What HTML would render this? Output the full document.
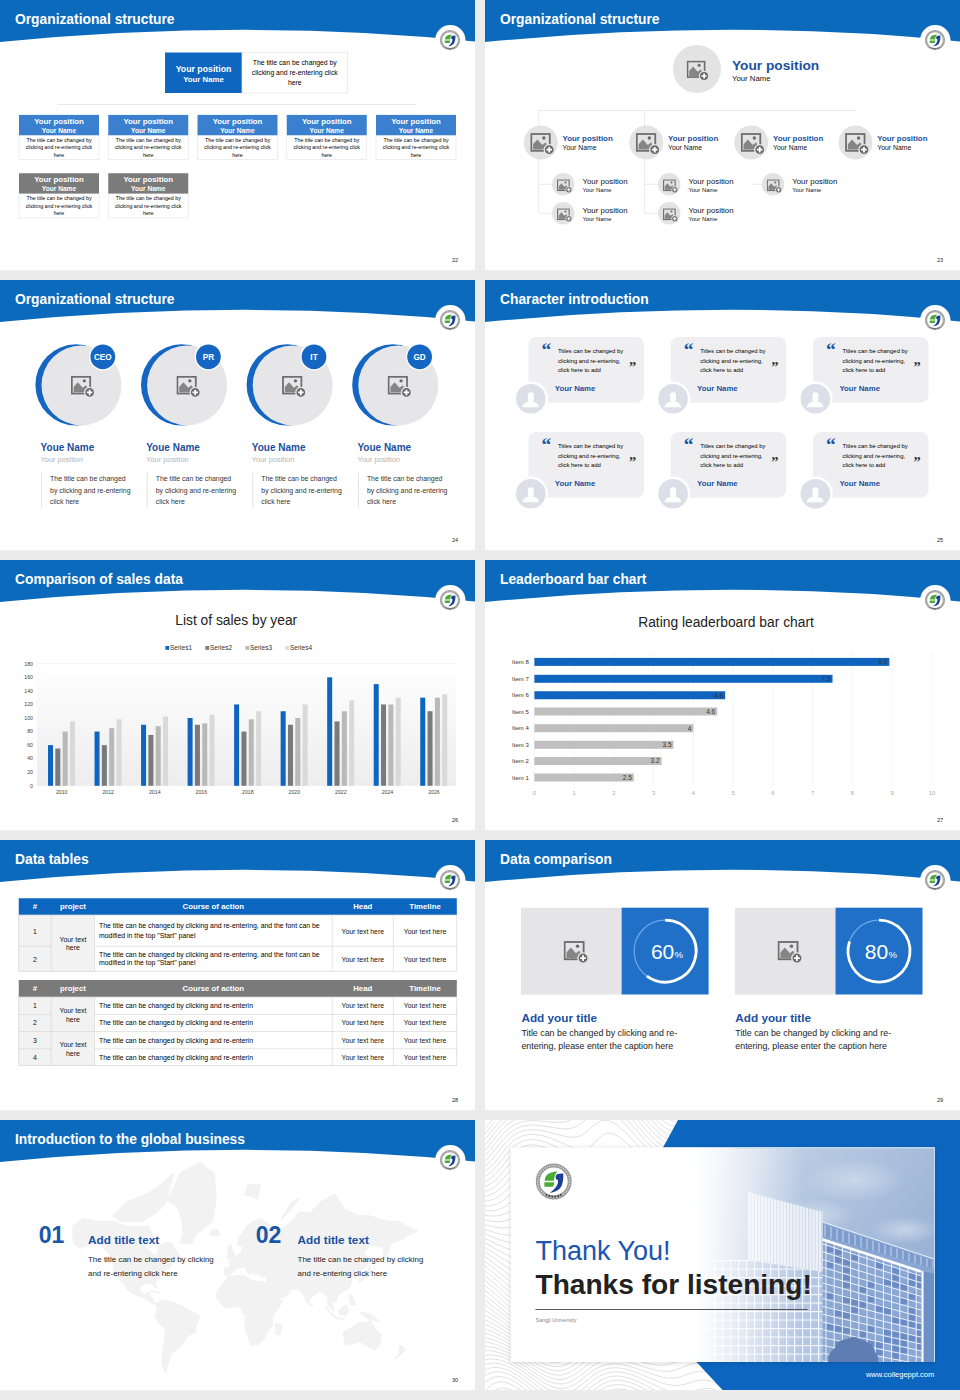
<!DOCTYPE html><html><head><meta charset="utf-8"><style>html,body{margin:0;padding:0;background:#ececec;}svg{display:block;font-family:"Liberation Sans",sans-serif;}</style></head><body>
<svg width="960" height="1400" viewBox="0 0 960 1400">
<defs><symbol id="logo" viewBox="0 0 40 40">
<circle cx="20" cy="20" r="17.5" fill="#fff"/>
<circle cx="20" cy="20" r="15.2" fill="none" stroke="#9c9c9c" stroke-width="3.8"/>
<circle cx="20" cy="20" r="15.2" fill="none" stroke="#f2f2f2" stroke-width="1" stroke-dasharray="0.9 1.4"/>
<path d="M12.5 32.5 A15.2 15.2 0 0 0 27.5 32.5" fill="none" stroke="#222" stroke-width="1.6" stroke-dasharray="1.3 1.5"/>
<path d="M11.4 19.2 Q11.8 12.6 17.9 11.4 Q20.5 10.6 23.4 10.4 Q21 13 20.5 17.1 L20.2 19.2 Z" fill="#4cab34"/>
<path d="M11.1 20.8 L20.5 20.8 Q20.3 23.8 19.2 24.9 L11.1 24.9 Z" fill="#4cab34"/>
<path d="M21.8 15.5 Q22.2 12.8 25 12.6 L29.1 12.4 Q29.6 22 26 26.5 Q22.5 30 16.3 30.9 Q21 27.5 23.2 23.5 Q24.3 21 24.1 18.7 Q21.6 18.2 21.8 15.5 Z" fill="#1c3f99"/>
</symbol>
<symbol id="imgico" viewBox="0 0 22 20">
<rect x="1" y="1" width="16.5" height="15" fill="none" stroke="#6e6e6e" stroke-width="1.6"/>
<path d="M2.6 14.9 V10.2 L6.4 5.8 L10.8 10.8 L13.6 8.6 L14.6 9.6 V14.9 Z" fill="#858585"/>
<circle cx="12.2" cy="4.6" r="1.5" fill="#6a6a6a"/>
<circle cx="17" cy="15" r="4.5" fill="#6a6a6a" stroke="#e6e6e6" stroke-width="1.2"/>
<path d="M17 12.5 V17.5 M14.5 15 H19.5" stroke="#fff" stroke-width="1.6"/>
</symbol>
<symbol id="person" viewBox="0 0 30 30">
<rect x="12" y="8.3" width="6" height="10" rx="2.6" fill="#fff"/>
<path d="M6.2 23.6 Q7 18.8 12.5 18 L17.5 18 Q22.8 18.8 23.2 23.6 Z" fill="#fff"/>
</symbol></defs>
<rect width="960" height="1400" fill="#ececec"/>
<g transform="translate(0,0)">
<rect width="475" height="270" fill="#fff"/>
<path d="M57.5 104.5 H416" stroke="#e3e3e3" stroke-width="0.8" fill="none"/>
<rect x="165" y="52.5" width="77" height="40.5" fill="#0e66c0"/>
<rect x="242" y="52.5" width="105.5" height="40.5" fill="#fff" stroke="#e4e4e4" stroke-width="0.7"/>
<text x="203.5" y="71.7" font-size="8.75" fill="#fff" font-weight="700" text-anchor="middle" >Your position</text>
<text x="203.5" y="81.6" font-size="7.8" fill="#fff" font-weight="700" text-anchor="middle" >Your Name</text>
<text x="294.75" y="64.5" font-size="6.85" fill="#000" font-weight="400" text-anchor="middle" >The title can be changed by</text>
<text x="294.75" y="74.7" font-size="6.85" fill="#000" font-weight="400" text-anchor="middle" >clicking and re-entering click</text>
<text x="294.75" y="84.9" font-size="6.85" fill="#000" font-weight="400" text-anchor="middle" >here</text>
<rect x="19" y="135.20000000000002" width="80" height="24.4" fill="#fff" stroke="#e6e6e6" stroke-width="0.7"/>
<rect x="19" y="114.9" width="80" height="20.3" fill="#3a80cf"/>
<text x="59" y="124.0" font-size="7.8" fill="#fff" font-weight="700" text-anchor="middle" >Your position</text>
<text x="59" y="132.5" font-size="6.6" fill="#fff" font-weight="700" text-anchor="middle" >Your Name</text>
<text x="59" y="141.9" font-size="5.3" fill="#000" font-weight="400" text-anchor="middle" >The title can be changed by</text>
<text x="59" y="149.20000000000002" font-size="5.3" fill="#000" font-weight="400" text-anchor="middle" >clicking and re-entering click</text>
<text x="59" y="156.5" font-size="5.3" fill="#000" font-weight="400" text-anchor="middle" >here</text>
<rect x="108.25" y="135.20000000000002" width="80" height="24.4" fill="#fff" stroke="#e6e6e6" stroke-width="0.7"/>
<rect x="108.25" y="114.9" width="80" height="20.3" fill="#3a80cf"/>
<text x="148.25" y="124.0" font-size="7.8" fill="#fff" font-weight="700" text-anchor="middle" >Your position</text>
<text x="148.25" y="132.5" font-size="6.6" fill="#fff" font-weight="700" text-anchor="middle" >Your Name</text>
<text x="148.25" y="141.9" font-size="5.3" fill="#000" font-weight="400" text-anchor="middle" >The title can be changed by</text>
<text x="148.25" y="149.20000000000002" font-size="5.3" fill="#000" font-weight="400" text-anchor="middle" >clicking and re-entering click</text>
<text x="148.25" y="156.5" font-size="5.3" fill="#000" font-weight="400" text-anchor="middle" >here</text>
<rect x="197.5" y="135.20000000000002" width="80" height="24.4" fill="#fff" stroke="#e6e6e6" stroke-width="0.7"/>
<rect x="197.5" y="114.9" width="80" height="20.3" fill="#3a80cf"/>
<text x="237.5" y="124.0" font-size="7.8" fill="#fff" font-weight="700" text-anchor="middle" >Your position</text>
<text x="237.5" y="132.5" font-size="6.6" fill="#fff" font-weight="700" text-anchor="middle" >Your Name</text>
<text x="237.5" y="141.9" font-size="5.3" fill="#000" font-weight="400" text-anchor="middle" >The title can be changed by</text>
<text x="237.5" y="149.20000000000002" font-size="5.3" fill="#000" font-weight="400" text-anchor="middle" >clicking and re-entering click</text>
<text x="237.5" y="156.5" font-size="5.3" fill="#000" font-weight="400" text-anchor="middle" >here</text>
<rect x="286.75" y="135.20000000000002" width="80" height="24.4" fill="#fff" stroke="#e6e6e6" stroke-width="0.7"/>
<rect x="286.75" y="114.9" width="80" height="20.3" fill="#3a80cf"/>
<text x="326.75" y="124.0" font-size="7.8" fill="#fff" font-weight="700" text-anchor="middle" >Your position</text>
<text x="326.75" y="132.5" font-size="6.6" fill="#fff" font-weight="700" text-anchor="middle" >Your Name</text>
<text x="326.75" y="141.9" font-size="5.3" fill="#000" font-weight="400" text-anchor="middle" >The title can be changed by</text>
<text x="326.75" y="149.20000000000002" font-size="5.3" fill="#000" font-weight="400" text-anchor="middle" >clicking and re-entering click</text>
<text x="326.75" y="156.5" font-size="5.3" fill="#000" font-weight="400" text-anchor="middle" >here</text>
<rect x="376" y="135.20000000000002" width="80" height="24.4" fill="#fff" stroke="#e6e6e6" stroke-width="0.7"/>
<rect x="376" y="114.9" width="80" height="20.3" fill="#3a80cf"/>
<text x="416" y="124.0" font-size="7.8" fill="#fff" font-weight="700" text-anchor="middle" >Your position</text>
<text x="416" y="132.5" font-size="6.6" fill="#fff" font-weight="700" text-anchor="middle" >Your Name</text>
<text x="416" y="141.9" font-size="5.3" fill="#000" font-weight="400" text-anchor="middle" >The title can be changed by</text>
<text x="416" y="149.20000000000002" font-size="5.3" fill="#000" font-weight="400" text-anchor="middle" >clicking and re-entering click</text>
<text x="416" y="156.5" font-size="5.3" fill="#000" font-weight="400" text-anchor="middle" >here</text>
<rect x="19" y="193.55" width="80" height="24.4" fill="#fff" stroke="#e6e6e6" stroke-width="0.7"/>
<rect x="19" y="173.25" width="80" height="20.3" fill="#7b7b7b"/>
<text x="59" y="182.35" font-size="7.8" fill="#fff" font-weight="700" text-anchor="middle" >Your position</text>
<text x="59" y="190.85" font-size="6.6" fill="#fff" font-weight="700" text-anchor="middle" >Your Name</text>
<text x="59" y="200.25" font-size="5.3" fill="#000" font-weight="400" text-anchor="middle" >The title can be changed by</text>
<text x="59" y="207.55" font-size="5.3" fill="#000" font-weight="400" text-anchor="middle" >clicking and re-entering click</text>
<text x="59" y="214.85" font-size="5.3" fill="#000" font-weight="400" text-anchor="middle" >here</text>
<rect x="108.25" y="193.55" width="80" height="24.4" fill="#fff" stroke="#e6e6e6" stroke-width="0.7"/>
<rect x="108.25" y="173.25" width="80" height="20.3" fill="#7b7b7b"/>
<text x="148.25" y="182.35" font-size="7.8" fill="#fff" font-weight="700" text-anchor="middle" >Your position</text>
<text x="148.25" y="190.85" font-size="6.6" fill="#fff" font-weight="700" text-anchor="middle" >Your Name</text>
<text x="148.25" y="200.25" font-size="5.3" fill="#000" font-weight="400" text-anchor="middle" >The title can be changed by</text>
<text x="148.25" y="207.55" font-size="5.3" fill="#000" font-weight="400" text-anchor="middle" >clicking and re-entering click</text>
<text x="148.25" y="214.85" font-size="5.3" fill="#000" font-weight="400" text-anchor="middle" >here</text>
<path d="M0 0 H475 V41.5 Q250 18 0 42 Z" fill="#0c6abd"/>
<text x="15" y="24" font-size="13.8" fill="#fff" font-weight="700">Organizational structure</text>
<circle cx="450.3" cy="40.2" r="15.2" fill="#fff"/>
<use href="#logo" x="438.1" y="28.2" width="23.8" height="23.8"/>
<text x="455" y="262" font-size="5.5" fill="#222" text-anchor="middle">22</text>
</g>
<g transform="translate(485,0)">
<rect width="475" height="270" fill="#fff"/>
<path d="M53.75 110.5 H371 M53.75 110.5 V213.5 M159.5 110.5 V213.5 M53.75 184.25 H67 M53.75 213.25 H67 M159.5 184.25 H173 M159.5 213.25 H173 M266.25 184.25 H277" stroke="#e6e6e6" stroke-width="0.8" fill="none"/>
<circle cx="212" cy="69" r="24" fill="#e3e3e3"/>
<use href="#imgico" x="201.5" y="60.5" width="22.8" height="20.7"/>
<text x="247" y="70" font-size="13.7" fill="#1a50a0" font-weight="700" text-anchor="start" >Your position</text>
<text x="247" y="81" font-size="7.75" fill="#111" font-weight="400" text-anchor="start" >Your Name</text>
<circle cx="55.75" cy="142.5" r="17" fill="#e3e3e3"/>
<use href="#imgico" x="45.15" y="132.9" width="24.7" height="22.4"/>
<text x="77.5" y="141.25" font-size="7.9" fill="#1a50a0" font-weight="700" text-anchor="start" >Your position</text>
<text x="77.5" y="149.5" font-size="6.85" fill="#111" font-weight="400" text-anchor="start" >Your Name</text>
<circle cx="161.25" cy="142.5" r="17" fill="#e3e3e3"/>
<use href="#imgico" x="150.65" y="132.9" width="24.7" height="22.4"/>
<text x="183.0" y="141.25" font-size="7.9" fill="#1a50a0" font-weight="700" text-anchor="start" >Your position</text>
<text x="183.0" y="149.5" font-size="6.85" fill="#111" font-weight="400" text-anchor="start" >Your Name</text>
<circle cx="266.25" cy="142.5" r="17" fill="#e3e3e3"/>
<use href="#imgico" x="255.65" y="132.9" width="24.7" height="22.4"/>
<text x="288.0" y="141.25" font-size="7.9" fill="#1a50a0" font-weight="700" text-anchor="start" >Your position</text>
<text x="288.0" y="149.5" font-size="6.85" fill="#111" font-weight="400" text-anchor="start" >Your Name</text>
<circle cx="370.5" cy="142.5" r="17" fill="#e3e3e3"/>
<use href="#imgico" x="359.9" y="132.9" width="24.7" height="22.4"/>
<text x="392.25" y="141.25" font-size="7.9" fill="#1a50a0" font-weight="700" text-anchor="start" >Your position</text>
<text x="392.25" y="149.5" font-size="6.85" fill="#111" font-weight="400" text-anchor="start" >Your Name</text>
<circle cx="78.25" cy="184.25" r="11.25" fill="#e3e3e3"/>
<use href="#imgico" x="71.9" y="179.3" width="15.4" height="14"/>
<text x="97.5" y="183.75" font-size="7.85" fill="#111" font-weight="400" text-anchor="start" >Your position</text>
<text x="97.5" y="191.65" font-size="5.85" fill="#111" font-weight="400" text-anchor="start" >Your Name</text>
<circle cx="78.25" cy="213.25" r="11.25" fill="#e3e3e3"/>
<use href="#imgico" x="71.9" y="208.3" width="15.4" height="14"/>
<text x="97.5" y="212.75" font-size="7.85" fill="#111" font-weight="400" text-anchor="start" >Your position</text>
<text x="97.5" y="220.65" font-size="5.85" fill="#111" font-weight="400" text-anchor="start" >Your Name</text>
<circle cx="184.25" cy="184.25" r="11.25" fill="#e3e3e3"/>
<use href="#imgico" x="177.9" y="179.3" width="15.4" height="14"/>
<text x="203.5" y="183.75" font-size="7.85" fill="#111" font-weight="400" text-anchor="start" >Your position</text>
<text x="203.5" y="191.65" font-size="5.85" fill="#111" font-weight="400" text-anchor="start" >Your Name</text>
<circle cx="184.25" cy="213.25" r="11.25" fill="#e3e3e3"/>
<use href="#imgico" x="177.9" y="208.3" width="15.4" height="14"/>
<text x="203.5" y="212.75" font-size="7.85" fill="#111" font-weight="400" text-anchor="start" >Your position</text>
<text x="203.5" y="220.65" font-size="5.85" fill="#111" font-weight="400" text-anchor="start" >Your Name</text>
<circle cx="288" cy="184.25" r="11.25" fill="#e3e3e3"/>
<use href="#imgico" x="281.65" y="179.3" width="15.4" height="14"/>
<text x="307.25" y="183.75" font-size="7.85" fill="#111" font-weight="400" text-anchor="start" >Your position</text>
<text x="307.25" y="191.65" font-size="5.85" fill="#111" font-weight="400" text-anchor="start" >Your Name</text>
<path d="M0 0 H475 V41.5 Q250 18 0 42 Z" fill="#0c6abd"/>
<text x="15" y="24" font-size="13.8" fill="#fff" font-weight="700">Organizational structure</text>
<circle cx="450.3" cy="40.2" r="15.2" fill="#fff"/>
<use href="#logo" x="438.1" y="28.2" width="23.8" height="23.8"/>
<text x="455" y="262" font-size="5.5" fill="#222" text-anchor="middle">23</text>
</g>
<g transform="translate(0,280)">
<rect width="475" height="270" fill="#fff"/>
<circle cx="76.0" cy="104.9" r="40.6" fill="#1466c2"/>
<circle cx="81.5" cy="105.4" r="40" fill="#e6e6e8"/>
<use href="#imgico" x="70.7" y="95.7" width="24.5" height="22.3"/>
<circle cx="102.8" cy="76.8" r="13.6" fill="#fff"/>
<circle cx="102.8" cy="76.8" r="12.4" fill="#1466c2"/>
<text x="102.8" y="79.8" font-size="8.2" fill="#fff" font-weight="700" text-anchor="middle" >CEO</text>
<text x="40.6" y="171" font-size="10" fill="#1d4f9a" font-weight="700" text-anchor="start" >Youe Name</text>
<text x="40.6" y="181.9" font-size="7.4" fill="#b4b4b4" font-weight="400" text-anchor="start" >Your position</text>
<path d="M41.6 192.5 V228" stroke="#dcdcdc" stroke-width="0.8"/>
<text x="50.1" y="200.6" font-size="6.9" fill="#333" font-weight="400" text-anchor="start" >The title can be changed</text>
<text x="50.1" y="212.5" font-size="6.9" fill="#333" font-weight="400" text-anchor="start" >by clicking and re-entering</text>
<text x="50.1" y="224.4" font-size="6.9" fill="#333" font-weight="400" text-anchor="start" >click here</text>
<circle cx="181.6" cy="104.9" r="40.6" fill="#1466c2"/>
<circle cx="187.1" cy="105.4" r="40" fill="#e6e6e8"/>
<use href="#imgico" x="176.29999999999998" y="95.7" width="24.5" height="22.3"/>
<circle cx="208.4" cy="76.8" r="13.6" fill="#fff"/>
<circle cx="208.4" cy="76.8" r="12.4" fill="#1466c2"/>
<text x="208.4" y="79.8" font-size="8.2" fill="#fff" font-weight="700" text-anchor="middle" >PR</text>
<text x="146.2" y="171" font-size="10" fill="#1d4f9a" font-weight="700" text-anchor="start" >Youe Name</text>
<text x="146.2" y="181.9" font-size="7.4" fill="#b4b4b4" font-weight="400" text-anchor="start" >Your position</text>
<path d="M147.2 192.5 V228" stroke="#dcdcdc" stroke-width="0.8"/>
<text x="155.7" y="200.6" font-size="6.9" fill="#333" font-weight="400" text-anchor="start" >The title can be changed</text>
<text x="155.7" y="212.5" font-size="6.9" fill="#333" font-weight="400" text-anchor="start" >by clicking and re-entering</text>
<text x="155.7" y="224.4" font-size="6.9" fill="#333" font-weight="400" text-anchor="start" >click here</text>
<circle cx="287.2" cy="104.9" r="40.6" fill="#1466c2"/>
<circle cx="292.7" cy="105.4" r="40" fill="#e6e6e8"/>
<use href="#imgico" x="281.9" y="95.7" width="24.5" height="22.3"/>
<circle cx="314.0" cy="76.8" r="13.6" fill="#fff"/>
<circle cx="314.0" cy="76.8" r="12.4" fill="#1466c2"/>
<text x="314.0" y="79.8" font-size="8.2" fill="#fff" font-weight="700" text-anchor="middle" >IT</text>
<text x="251.79999999999998" y="171" font-size="10" fill="#1d4f9a" font-weight="700" text-anchor="start" >Youe Name</text>
<text x="251.79999999999998" y="181.9" font-size="7.4" fill="#b4b4b4" font-weight="400" text-anchor="start" >Your position</text>
<path d="M252.79999999999998 192.5 V228" stroke="#dcdcdc" stroke-width="0.8"/>
<text x="261.29999999999995" y="200.6" font-size="6.9" fill="#333" font-weight="400" text-anchor="start" >The title can be changed</text>
<text x="261.29999999999995" y="212.5" font-size="6.9" fill="#333" font-weight="400" text-anchor="start" >by clicking and re-entering</text>
<text x="261.29999999999995" y="224.4" font-size="6.9" fill="#333" font-weight="400" text-anchor="start" >click here</text>
<circle cx="392.79999999999995" cy="104.9" r="40.6" fill="#1466c2"/>
<circle cx="398.29999999999995" cy="105.4" r="40" fill="#e6e6e8"/>
<use href="#imgico" x="387.49999999999994" y="95.7" width="24.5" height="22.3"/>
<circle cx="419.59999999999997" cy="76.8" r="13.6" fill="#fff"/>
<circle cx="419.59999999999997" cy="76.8" r="12.4" fill="#1466c2"/>
<text x="419.59999999999997" y="79.8" font-size="8.2" fill="#fff" font-weight="700" text-anchor="middle" >GD</text>
<text x="357.4" y="171" font-size="10" fill="#1d4f9a" font-weight="700" text-anchor="start" >Youe Name</text>
<text x="357.4" y="181.9" font-size="7.4" fill="#b4b4b4" font-weight="400" text-anchor="start" >Your position</text>
<path d="M358.4 192.5 V228" stroke="#dcdcdc" stroke-width="0.8"/>
<text x="366.9" y="200.6" font-size="6.9" fill="#333" font-weight="400" text-anchor="start" >The title can be changed</text>
<text x="366.9" y="212.5" font-size="6.9" fill="#333" font-weight="400" text-anchor="start" >by clicking and re-entering</text>
<text x="366.9" y="224.4" font-size="6.9" fill="#333" font-weight="400" text-anchor="start" >click here</text>
<path d="M0 0 H475 V41.5 Q250 18 0 42 Z" fill="#0c6abd"/>
<text x="15" y="24" font-size="13.8" fill="#fff" font-weight="700">Organizational structure</text>
<circle cx="450.3" cy="40.2" r="15.2" fill="#fff"/>
<use href="#logo" x="438.1" y="28.2" width="23.8" height="23.8"/>
<text x="455" y="262" font-size="5.5" fill="#222" text-anchor="middle">24</text>
</g>
<g transform="translate(485,280)">
<rect width="475" height="270" fill="#fff"/>
<rect x="43.5" y="57" width="115.5" height="65.7" rx="8" fill="#efeff1"/>
<circle cx="45.8" cy="118.75" r="17.3" fill="#fff"/>
<circle cx="45.8" cy="118.75" r="14.8" fill="#dcdfe7"/>
<use href="#person" x="30.999999999999996" y="103.95" width="29.6" height="29.6"/>
<text x="56.5" y="76.3" font-size="19.5" fill="#1a56a8" font-weight="700" text-anchor="start" font-family="Liberation Serif">&#8220;</text>
<text x="144.0" y="92.2" font-size="14.5" fill="#333" font-weight="700" text-anchor="start" font-family="Liberation Serif">&#8221;</text>
<text x="72.9" y="73.4" font-size="5.9" fill="#000" font-weight="400" text-anchor="start" >Titles can be changed by</text>
<text x="72.9" y="82.80000000000001" font-size="5.9" fill="#000" font-weight="400" text-anchor="start" >clicking and re-entering,</text>
<text x="72.9" y="92.2" font-size="5.9" fill="#000" font-weight="400" text-anchor="start" >click here to add</text>
<text x="69.8" y="111" font-size="7.8" fill="#1a50a0" font-weight="700" text-anchor="start" >Your Name</text>
<rect x="185.8" y="57" width="115.5" height="65.7" rx="8" fill="#efeff1"/>
<circle cx="188.10000000000002" cy="118.75" r="17.3" fill="#fff"/>
<circle cx="188.10000000000002" cy="118.75" r="14.8" fill="#dcdfe7"/>
<use href="#person" x="173.3" y="103.95" width="29.6" height="29.6"/>
<text x="198.8" y="76.3" font-size="19.5" fill="#1a56a8" font-weight="700" text-anchor="start" font-family="Liberation Serif">&#8220;</text>
<text x="286.3" y="92.2" font-size="14.5" fill="#333" font-weight="700" text-anchor="start" font-family="Liberation Serif">&#8221;</text>
<text x="215.20000000000002" y="73.4" font-size="5.9" fill="#000" font-weight="400" text-anchor="start" >Titles can be changed by</text>
<text x="215.20000000000002" y="82.80000000000001" font-size="5.9" fill="#000" font-weight="400" text-anchor="start" >clicking and re-entering,</text>
<text x="215.20000000000002" y="92.2" font-size="5.9" fill="#000" font-weight="400" text-anchor="start" >click here to add</text>
<text x="212.10000000000002" y="111" font-size="7.8" fill="#1a50a0" font-weight="700" text-anchor="start" >Your Name</text>
<rect x="328.1" y="57" width="115.5" height="65.7" rx="8" fill="#efeff1"/>
<circle cx="330.40000000000003" cy="118.75" r="17.3" fill="#fff"/>
<circle cx="330.40000000000003" cy="118.75" r="14.8" fill="#dcdfe7"/>
<use href="#person" x="315.6" y="103.95" width="29.6" height="29.6"/>
<text x="341.1" y="76.3" font-size="19.5" fill="#1a56a8" font-weight="700" text-anchor="start" font-family="Liberation Serif">&#8220;</text>
<text x="428.6" y="92.2" font-size="14.5" fill="#333" font-weight="700" text-anchor="start" font-family="Liberation Serif">&#8221;</text>
<text x="357.5" y="73.4" font-size="5.9" fill="#000" font-weight="400" text-anchor="start" >Titles can be changed by</text>
<text x="357.5" y="82.80000000000001" font-size="5.9" fill="#000" font-weight="400" text-anchor="start" >clicking and re-entering,</text>
<text x="357.5" y="92.2" font-size="5.9" fill="#000" font-weight="400" text-anchor="start" >click here to add</text>
<text x="354.40000000000003" y="111" font-size="7.8" fill="#1a50a0" font-weight="700" text-anchor="start" >Your Name</text>
<rect x="43.5" y="152" width="115.5" height="65.7" rx="8" fill="#efeff1"/>
<circle cx="45.8" cy="213.75" r="17.3" fill="#fff"/>
<circle cx="45.8" cy="213.75" r="14.8" fill="#dcdfe7"/>
<use href="#person" x="30.999999999999996" y="198.95" width="29.6" height="29.6"/>
<text x="56.5" y="171.3" font-size="19.5" fill="#1a56a8" font-weight="700" text-anchor="start" font-family="Liberation Serif">&#8220;</text>
<text x="144.0" y="187.2" font-size="14.5" fill="#333" font-weight="700" text-anchor="start" font-family="Liberation Serif">&#8221;</text>
<text x="72.9" y="168.4" font-size="5.9" fill="#000" font-weight="400" text-anchor="start" >Titles can be changed by</text>
<text x="72.9" y="177.8" font-size="5.9" fill="#000" font-weight="400" text-anchor="start" >clicking and re-entering,</text>
<text x="72.9" y="187.20000000000002" font-size="5.9" fill="#000" font-weight="400" text-anchor="start" >click here to add</text>
<text x="69.8" y="206" font-size="7.8" fill="#1a50a0" font-weight="700" text-anchor="start" >Your Name</text>
<rect x="185.8" y="152" width="115.5" height="65.7" rx="8" fill="#efeff1"/>
<circle cx="188.10000000000002" cy="213.75" r="17.3" fill="#fff"/>
<circle cx="188.10000000000002" cy="213.75" r="14.8" fill="#dcdfe7"/>
<use href="#person" x="173.3" y="198.95" width="29.6" height="29.6"/>
<text x="198.8" y="171.3" font-size="19.5" fill="#1a56a8" font-weight="700" text-anchor="start" font-family="Liberation Serif">&#8220;</text>
<text x="286.3" y="187.2" font-size="14.5" fill="#333" font-weight="700" text-anchor="start" font-family="Liberation Serif">&#8221;</text>
<text x="215.20000000000002" y="168.4" font-size="5.9" fill="#000" font-weight="400" text-anchor="start" >Titles can be changed by</text>
<text x="215.20000000000002" y="177.8" font-size="5.9" fill="#000" font-weight="400" text-anchor="start" >clicking and re-entering,</text>
<text x="215.20000000000002" y="187.20000000000002" font-size="5.9" fill="#000" font-weight="400" text-anchor="start" >click here to add</text>
<text x="212.10000000000002" y="206" font-size="7.8" fill="#1a50a0" font-weight="700" text-anchor="start" >Your Name</text>
<rect x="328.1" y="152" width="115.5" height="65.7" rx="8" fill="#efeff1"/>
<circle cx="330.40000000000003" cy="213.75" r="17.3" fill="#fff"/>
<circle cx="330.40000000000003" cy="213.75" r="14.8" fill="#dcdfe7"/>
<use href="#person" x="315.6" y="198.95" width="29.6" height="29.6"/>
<text x="341.1" y="171.3" font-size="19.5" fill="#1a56a8" font-weight="700" text-anchor="start" font-family="Liberation Serif">&#8220;</text>
<text x="428.6" y="187.2" font-size="14.5" fill="#333" font-weight="700" text-anchor="start" font-family="Liberation Serif">&#8221;</text>
<text x="357.5" y="168.4" font-size="5.9" fill="#000" font-weight="400" text-anchor="start" >Titles can be changed by</text>
<text x="357.5" y="177.8" font-size="5.9" fill="#000" font-weight="400" text-anchor="start" >clicking and re-entering,</text>
<text x="357.5" y="187.20000000000002" font-size="5.9" fill="#000" font-weight="400" text-anchor="start" >click here to add</text>
<text x="354.40000000000003" y="206" font-size="7.8" fill="#1a50a0" font-weight="700" text-anchor="start" >Your Name</text>
<path d="M0 0 H475 V41.5 Q250 18 0 42 Z" fill="#0c6abd"/>
<text x="15" y="24" font-size="13.8" fill="#fff" font-weight="700">Character introduction</text>
<circle cx="450.3" cy="40.2" r="15.2" fill="#fff"/>
<use href="#logo" x="438.1" y="28.2" width="23.8" height="23.8"/>
<text x="455" y="262" font-size="5.5" fill="#222" text-anchor="middle">25</text>
</g>
<g transform="translate(0,560)">
<rect width="475" height="270" fill="#fff"/>
<defs><linearGradient id="pg" x1="0" y1="0" x2="0" y2="1"><stop offset="0" stop-color="#ffffff"/><stop offset="1" stop-color="#ededed"/></linearGradient></defs>
<rect x="37" y="103.7" width="419" height="122.1" fill="url(#pg)"/>
<path d="M37 103.7 H456" stroke="#ececec" stroke-width="0.6"/>
<text x="236.25" y="65" font-size="13.8" fill="#222" font-weight="400" text-anchor="middle" >List of sales by year</text>
<rect x="165.4" y="86" width="3.8" height="3.8" fill="#0e64bf"/>
<text x="170.0" y="89.7" font-size="6.5" fill="#333" font-weight="400" text-anchor="start" >Series1</text>
<rect x="205.4" y="86" width="3.8" height="3.8" fill="#7a7a7a"/>
<text x="210.0" y="89.7" font-size="6.5" fill="#333" font-weight="400" text-anchor="start" >Series2</text>
<rect x="245.4" y="86" width="3.8" height="3.8" fill="#b9b9b9"/>
<text x="250.0" y="89.7" font-size="6.5" fill="#333" font-weight="400" text-anchor="start" >Series3</text>
<rect x="285.4" y="86" width="3.8" height="3.8" fill="#d9d9d9"/>
<text x="290.0" y="89.7" font-size="6.5" fill="#333" font-weight="400" text-anchor="start" >Series4</text>
<text x="33" y="227.60000000000002" font-size="5.2" fill="#444" font-weight="400" text-anchor="end" >0</text>
<text x="33" y="214.04000000000002" font-size="5.2" fill="#444" font-weight="400" text-anchor="end" >20</text>
<text x="33" y="200.48000000000002" font-size="5.2" fill="#444" font-weight="400" text-anchor="end" >40</text>
<text x="33" y="186.92000000000002" font-size="5.2" fill="#444" font-weight="400" text-anchor="end" >60</text>
<text x="33" y="173.36" font-size="5.2" fill="#444" font-weight="400" text-anchor="end" >80</text>
<text x="33" y="159.8" font-size="5.2" fill="#444" font-weight="400" text-anchor="end" >100</text>
<text x="33" y="146.24" font-size="5.2" fill="#444" font-weight="400" text-anchor="end" >120</text>
<text x="33" y="132.68" font-size="5.2" fill="#444" font-weight="400" text-anchor="end" >140</text>
<text x="33" y="119.12" font-size="5.2" fill="#444" font-weight="400" text-anchor="end" >160</text>
<text x="33" y="105.56" font-size="5.2" fill="#444" font-weight="400" text-anchor="end" >180</text>
<rect x="48.00" y="185.12" width="5" height="40.68" fill="#0e64bf"/>
<rect x="55.33" y="188.51" width="5" height="37.29" fill="#7a7a7a"/>
<rect x="62.66" y="171.56" width="5" height="54.24" fill="#b9b9b9"/>
<rect x="69.99" y="161.39" width="5" height="64.41" fill="#d9d9d9"/>
<text x="61.70" y="233.6" font-size="5.2" fill="#444" font-weight="400" text-anchor="middle" >2010</text>
<rect x="94.53" y="171.56" width="5" height="54.24" fill="#0e64bf"/>
<rect x="101.86" y="185.12" width="5" height="40.68" fill="#7a7a7a"/>
<rect x="109.19" y="168.17" width="5" height="57.63" fill="#b9b9b9"/>
<rect x="116.52" y="159.36" width="5" height="66.44" fill="#d9d9d9"/>
<text x="108.23" y="233.6" font-size="5.2" fill="#444" font-weight="400" text-anchor="middle" >2012</text>
<rect x="141.06" y="164.78" width="5" height="61.02" fill="#0e64bf"/>
<rect x="148.39" y="174.95" width="5" height="50.85" fill="#7a7a7a"/>
<rect x="155.72" y="166.14" width="5" height="59.66" fill="#b9b9b9"/>
<rect x="163.05" y="156.64" width="5" height="69.16" fill="#d9d9d9"/>
<text x="154.76" y="233.6" font-size="5.2" fill="#444" font-weight="400" text-anchor="middle" >2014</text>
<rect x="187.59" y="158.00" width="5" height="67.80" fill="#0e64bf"/>
<rect x="194.92" y="164.78" width="5" height="61.02" fill="#7a7a7a"/>
<rect x="202.25" y="163.42" width="5" height="62.38" fill="#b9b9b9"/>
<rect x="209.58" y="154.61" width="5" height="71.19" fill="#d9d9d9"/>
<text x="201.29" y="233.6" font-size="5.2" fill="#444" font-weight="400" text-anchor="middle" >2016</text>
<rect x="234.12" y="144.44" width="5" height="81.36" fill="#0e64bf"/>
<rect x="241.45" y="171.56" width="5" height="54.24" fill="#7a7a7a"/>
<rect x="248.78" y="159.36" width="5" height="66.44" fill="#b9b9b9"/>
<rect x="256.11" y="151.22" width="5" height="74.58" fill="#d9d9d9"/>
<text x="247.82" y="233.6" font-size="5.2" fill="#444" font-weight="400" text-anchor="middle" >2018</text>
<rect x="280.65" y="151.22" width="5" height="74.58" fill="#0e64bf"/>
<rect x="287.98" y="164.78" width="5" height="61.02" fill="#7a7a7a"/>
<rect x="295.31" y="158.00" width="5" height="67.80" fill="#b9b9b9"/>
<rect x="302.64" y="144.44" width="5" height="81.36" fill="#d9d9d9"/>
<text x="294.35" y="233.6" font-size="5.2" fill="#444" font-weight="400" text-anchor="middle" >2020</text>
<rect x="327.18" y="117.32" width="5" height="108.48" fill="#0e64bf"/>
<rect x="334.51" y="161.39" width="5" height="64.41" fill="#7a7a7a"/>
<rect x="341.84" y="151.22" width="5" height="74.58" fill="#b9b9b9"/>
<rect x="349.17" y="140.37" width="5" height="85.43" fill="#d9d9d9"/>
<text x="340.88" y="233.6" font-size="5.2" fill="#444" font-weight="400" text-anchor="middle" >2022</text>
<rect x="373.71" y="124.10" width="5" height="101.70" fill="#0e64bf"/>
<rect x="381.04" y="144.44" width="5" height="81.36" fill="#7a7a7a"/>
<rect x="388.37" y="144.44" width="5" height="81.36" fill="#b9b9b9"/>
<rect x="395.70" y="137.66" width="5" height="88.14" fill="#d9d9d9"/>
<text x="387.41" y="233.6" font-size="5.2" fill="#444" font-weight="400" text-anchor="middle" >2024</text>
<rect x="420.24" y="137.66" width="5" height="88.14" fill="#0e64bf"/>
<rect x="427.57" y="151.22" width="5" height="74.58" fill="#7a7a7a"/>
<rect x="434.90" y="137.66" width="5" height="88.14" fill="#b9b9b9"/>
<rect x="442.23" y="134.27" width="5" height="91.53" fill="#d9d9d9"/>
<text x="433.94" y="233.6" font-size="5.2" fill="#444" font-weight="400" text-anchor="middle" >2026</text>
<path d="M0 0 H475 V41.5 Q250 18 0 42 Z" fill="#0c6abd"/>
<text x="15" y="24" font-size="13.8" fill="#fff" font-weight="700">Comparison of sales data</text>
<circle cx="450.3" cy="40.2" r="15.2" fill="#fff"/>
<use href="#logo" x="438.1" y="28.2" width="23.8" height="23.8"/>
<text x="455" y="262" font-size="5.5" fill="#222" text-anchor="middle">26</text>
</g>
<g transform="translate(485,560)">
<rect width="475" height="270" fill="#fff"/>
<text x="241" y="66.8" font-size="13.8" fill="#222" font-weight="400" text-anchor="middle" >Rating leaderboard bar chart</text>
<path d="M49.40 92 V226" stroke="#f1f1f1" stroke-width="0.7"/>
<text x="49.40" y="235" font-size="5.8" fill="#aaa" font-weight="400" text-anchor="middle" >0</text>
<path d="M89.15 92 V226" stroke="#f1f1f1" stroke-width="0.7"/>
<text x="89.15" y="235" font-size="5.8" fill="#aaa" font-weight="400" text-anchor="middle" >1</text>
<path d="M128.90 92 V226" stroke="#f1f1f1" stroke-width="0.7"/>
<text x="128.90" y="235" font-size="5.8" fill="#aaa" font-weight="400" text-anchor="middle" >2</text>
<path d="M168.65 92 V226" stroke="#f1f1f1" stroke-width="0.7"/>
<text x="168.65" y="235" font-size="5.8" fill="#aaa" font-weight="400" text-anchor="middle" >3</text>
<path d="M208.40 92 V226" stroke="#f1f1f1" stroke-width="0.7"/>
<text x="208.40" y="235" font-size="5.8" fill="#aaa" font-weight="400" text-anchor="middle" >4</text>
<path d="M248.15 92 V226" stroke="#f1f1f1" stroke-width="0.7"/>
<text x="248.15" y="235" font-size="5.8" fill="#aaa" font-weight="400" text-anchor="middle" >5</text>
<path d="M287.90 92 V226" stroke="#f1f1f1" stroke-width="0.7"/>
<text x="287.90" y="235" font-size="5.8" fill="#aaa" font-weight="400" text-anchor="middle" >6</text>
<path d="M327.65 92 V226" stroke="#f1f1f1" stroke-width="0.7"/>
<text x="327.65" y="235" font-size="5.8" fill="#aaa" font-weight="400" text-anchor="middle" >7</text>
<path d="M367.40 92 V226" stroke="#f1f1f1" stroke-width="0.7"/>
<text x="367.40" y="235" font-size="5.8" fill="#aaa" font-weight="400" text-anchor="middle" >8</text>
<path d="M407.15 92 V226" stroke="#f1f1f1" stroke-width="0.7"/>
<text x="407.15" y="235" font-size="5.8" fill="#aaa" font-weight="400" text-anchor="middle" >9</text>
<path d="M446.90 92 V226" stroke="#f1f1f1" stroke-width="0.7"/>
<text x="446.90" y="235" font-size="5.8" fill="#aaa" font-weight="400" text-anchor="middle" >10</text>
<rect x="49.4" y="97.9" width="354.97" height="8" fill="#0e64bf"/>
<text x="43.75" y="103.9" font-size="6" fill="#333" font-weight="400" text-anchor="end" >Item 8</text>
<text x="402.37" y="104.2" font-size="6.5" fill="#333" font-weight="400" text-anchor="end" >9.0</text>
<rect x="49.4" y="114.8" width="298.12" height="8" fill="#0e64bf"/>
<text x="43.75" y="120.8" font-size="6" fill="#333" font-weight="400" text-anchor="end" >Item 7</text>
<text x="345.52" y="121.1" font-size="6.5" fill="#333" font-weight="400" text-anchor="end" >7.5</text>
<rect x="49.4" y="131.25" width="190.80" height="8" fill="#0e64bf"/>
<text x="43.75" y="137.25" font-size="6" fill="#333" font-weight="400" text-anchor="end" >Item 6</text>
<text x="238.20" y="137.55" font-size="6.5" fill="#333" font-weight="400" text-anchor="end" >4.8</text>
<rect x="49.4" y="147.5" width="182.85" height="8" fill="#bfbfbf"/>
<text x="43.75" y="153.5" font-size="6" fill="#333" font-weight="400" text-anchor="end" >Item 5</text>
<text x="230.25" y="153.8" font-size="6.5" fill="#333" font-weight="400" text-anchor="end" >4.6</text>
<rect x="49.4" y="164.2" width="159.00" height="8" fill="#bfbfbf"/>
<text x="43.75" y="170.2" font-size="6" fill="#333" font-weight="400" text-anchor="end" >Item 4</text>
<text x="206.40" y="170.5" font-size="6.5" fill="#333" font-weight="400" text-anchor="end" >4</text>
<rect x="49.4" y="180.8" width="139.12" height="8" fill="#bfbfbf"/>
<text x="43.75" y="186.8" font-size="6" fill="#333" font-weight="400" text-anchor="end" >Item 3</text>
<text x="186.53" y="187.10000000000002" font-size="6.5" fill="#333" font-weight="400" text-anchor="end" >3.5</text>
<rect x="49.4" y="197" width="127.20" height="8" fill="#bfbfbf"/>
<text x="43.75" y="203" font-size="6" fill="#333" font-weight="400" text-anchor="end" >Item 2</text>
<text x="174.60" y="203.3" font-size="6.5" fill="#333" font-weight="400" text-anchor="end" >3.2</text>
<rect x="49.4" y="213.5" width="99.38" height="8" fill="#bfbfbf"/>
<text x="43.75" y="219.5" font-size="6" fill="#333" font-weight="400" text-anchor="end" >Item 1</text>
<text x="146.78" y="219.8" font-size="6.5" fill="#333" font-weight="400" text-anchor="end" >2.5</text>
<path d="M0 0 H475 V41.5 Q250 18 0 42 Z" fill="#0c6abd"/>
<text x="15" y="24" font-size="13.8" fill="#fff" font-weight="700">Leaderboard bar chart</text>
<circle cx="450.3" cy="40.2" r="15.2" fill="#fff"/>
<use href="#logo" x="438.1" y="28.2" width="23.8" height="23.8"/>
<text x="455" y="262" font-size="5.5" fill="#222" text-anchor="middle">27</text>
</g>
<g transform="translate(0,840)">
<rect width="475" height="270" fill="#fff"/>
<rect x="18.75" y="58.25" width="438.05" height="16.75" fill="#0c66c0"/>
<text x="35.00" y="69.425" font-size="7.8" fill="#fff" font-weight="700" text-anchor="middle" >#</text>
<text x="72.88" y="69.425" font-size="7.8" fill="#fff" font-weight="700" text-anchor="middle" >project</text>
<text x="213.35" y="69.425" font-size="7.8" fill="#fff" font-weight="700" text-anchor="middle" >Course of action</text>
<text x="362.75" y="69.425" font-size="7.8" fill="#fff" font-weight="700" text-anchor="middle" >Head</text>
<text x="425.05" y="69.425" font-size="7.8" fill="#fff" font-weight="700" text-anchor="middle" >Timeline</text>
<rect x="18.75" y="75" width="75.75" height="56.25" fill="#f2f2f2"/>
<rect x="18.75" y="75" width="438.05" height="56.25" fill="none" stroke="#d4d4d4" stroke-width="0.7"/>
<path d="M51.25 75 V131.25 M94.5 75 V131.25 M332.2 75 V131.25 M393.3 75 V131.25 M18.75 106.25 H51.25 M94.5 106.25 H456.8" stroke="#d4d4d4" stroke-width="0.6" fill="none"/>
<text x="35" y="93.5" font-size="6.9" fill="#111" font-weight="400" text-anchor="middle" >1</text>
<text x="35" y="121.5" font-size="6.9" fill="#111" font-weight="400" text-anchor="middle" >2</text>
<text x="72.9" y="101.5" font-size="6.9" fill="#111" font-weight="400" text-anchor="middle" >Your text</text>
<text x="72.9" y="110" font-size="6.9" fill="#111" font-weight="400" text-anchor="middle" >here</text>
<text x="99" y="88" font-size="6.9" fill="#000" font-weight="400" text-anchor="start" > The title can be changed by clicking and re-entering, and the font can be</text>
<text x="99" y="97.5" font-size="6.9" fill="#000" font-weight="400" text-anchor="start" >modified in the top &quot;Start&quot; panel</text>
<text x="99" y="116.5" font-size="6.9" fill="#000" font-weight="400" text-anchor="start" >The title can be changed by clicking and re-entering, and the font can be</text>
<text x="99" y="125" font-size="6.9" fill="#000" font-weight="400" text-anchor="start" >modified in the top &quot;Start&quot; panel</text>
<text x="362.75" y="93.5" font-size="6.9" fill="#111" font-weight="400" text-anchor="middle" >Your text here</text>
<text x="425" y="93.5" font-size="6.9" fill="#111" font-weight="400" text-anchor="middle" >Your text here</text>
<text x="362.75" y="121.5" font-size="6.9" fill="#111" font-weight="400" text-anchor="middle" >Your text here</text>
<text x="425" y="121.5" font-size="6.9" fill="#111" font-weight="400" text-anchor="middle" >Your text here</text>
<rect x="18.75" y="140" width="438.05" height="17" fill="#7a7a7a"/>
<text x="35.00" y="151.3" font-size="7.8" fill="#fff" font-weight="700" text-anchor="middle" >#</text>
<text x="72.88" y="151.3" font-size="7.8" fill="#fff" font-weight="700" text-anchor="middle" >project</text>
<text x="213.35" y="151.3" font-size="7.8" fill="#fff" font-weight="700" text-anchor="middle" >Course of action</text>
<text x="362.75" y="151.3" font-size="7.8" fill="#fff" font-weight="700" text-anchor="middle" >Head</text>
<text x="425.05" y="151.3" font-size="7.8" fill="#fff" font-weight="700" text-anchor="middle" >Timeline</text>
<rect x="18.75" y="157" width="75.75" height="68.5" fill="#f2f2f2"/>
<rect x="18.75" y="157" width="438.05" height="68.5" fill="none" stroke="#d4d4d4" stroke-width="0.7"/>
<path d="M51.25 157 V225.5 M94.5 157 V225.5 M332.2 157 V225.5 M393.3 157 V225.5 M18.75 174.5 H51.25 M94.5 174.5 H456.8 M18.75 191.5 H456.8 M18.75 208.75 H51.25 M94.5 208.75 H456.8 " stroke="#d4d4d4" stroke-width="0.6" fill="none"/>
<text x="35" y="168.15" font-size="6.9" fill="#111" font-weight="400" text-anchor="middle" >1</text>
<text x="99" y="168.15" font-size="6.9" fill="#000" font-weight="400" text-anchor="start" >The title can be changed by clicking and re-enterin</text>
<text x="362.75" y="168.15" font-size="6.9" fill="#111" font-weight="400" text-anchor="middle" >Your text here</text>
<text x="425" y="168.15" font-size="6.9" fill="#111" font-weight="400" text-anchor="middle" >Your text here</text>
<text x="35" y="185.4" font-size="6.9" fill="#111" font-weight="400" text-anchor="middle" >2</text>
<text x="99" y="185.4" font-size="6.9" fill="#000" font-weight="400" text-anchor="start" >The title can be changed by clicking and re-enterin</text>
<text x="362.75" y="185.4" font-size="6.9" fill="#111" font-weight="400" text-anchor="middle" >Your text here</text>
<text x="425" y="185.4" font-size="6.9" fill="#111" font-weight="400" text-anchor="middle" >Your text here</text>
<text x="35" y="202.525" font-size="6.9" fill="#111" font-weight="400" text-anchor="middle" >3</text>
<text x="99" y="202.525" font-size="6.9" fill="#000" font-weight="400" text-anchor="start" >The title can be changed by clicking and re-enterin</text>
<text x="362.75" y="202.525" font-size="6.9" fill="#111" font-weight="400" text-anchor="middle" >Your text here</text>
<text x="425" y="202.525" font-size="6.9" fill="#111" font-weight="400" text-anchor="middle" >Your text here</text>
<text x="35" y="219.525" font-size="6.9" fill="#111" font-weight="400" text-anchor="middle" >4</text>
<text x="99" y="219.525" font-size="6.9" fill="#000" font-weight="400" text-anchor="start" >The title can be changed by clicking and re-enterin</text>
<text x="362.75" y="219.525" font-size="6.9" fill="#111" font-weight="400" text-anchor="middle" >Your text here</text>
<text x="425" y="219.525" font-size="6.9" fill="#111" font-weight="400" text-anchor="middle" >Your text here</text>
<text x="72.9" y="173" font-size="6.9" fill="#111" font-weight="400" text-anchor="middle" >Your text</text>
<text x="72.9" y="181.5" font-size="6.9" fill="#111" font-weight="400" text-anchor="middle" >here</text>
<text x="72.9" y="207" font-size="6.9" fill="#111" font-weight="400" text-anchor="middle" >Your text</text>
<text x="72.9" y="215.5" font-size="6.9" fill="#111" font-weight="400" text-anchor="middle" >here</text>
<path d="M0 0 H475 V41.5 Q250 18 0 42 Z" fill="#0c6abd"/>
<text x="15" y="24" font-size="13.8" fill="#fff" font-weight="700">Data tables</text>
<circle cx="450.3" cy="40.2" r="15.2" fill="#fff"/>
<use href="#logo" x="438.1" y="28.2" width="23.8" height="23.8"/>
<text x="455" y="262" font-size="5.5" fill="#222" text-anchor="middle">28</text>
</g>
<g transform="translate(485,840)">
<rect width="475" height="270" fill="#fff"/>
<rect x="36" y="67.7" width="100.6" height="86.8" fill="#e5e4e6"/>
<rect x="136.6" y="67.7" width="87" height="86.8" fill="#1f70c6"/>
<use href="#imgico" x="78.5" y="100.85" width="25.3" height="23"/>
<circle cx="180.1" cy="111.1" r="31" fill="none" stroke="#6aa6e6" stroke-width="1.3"/><path d="M180.1 80.1 A31 31 0 1 1 161.88 136.18" fill="none" stroke="#fff" stroke-width="2.8"/>
<text x="177.6" y="118.6" font-size="21" fill="#fff" font-weight="400" text-anchor="middle" >60</text>
<text x="189.6" y="118.39999999999999" font-size="9.5" fill="#fff" font-weight="400" text-anchor="start" >%</text>
<text x="36.4" y="181.9" font-size="11.75" fill="#1a50a0" font-weight="700" text-anchor="start" >Add your title</text>
<text x="36.4" y="195.7" font-size="8.87" fill="#222" font-weight="400" text-anchor="start" >Title can be changed by clicking and re-</text>
<text x="36.4" y="208.6" font-size="8.87" fill="#222" font-weight="400" text-anchor="start" >entering, please enter the caption here</text>
<rect x="249.9" y="67.7" width="100.6" height="86.8" fill="#e5e4e6"/>
<rect x="350.5" y="67.7" width="87" height="86.8" fill="#1f70c6"/>
<use href="#imgico" x="292.4" y="100.85" width="25.3" height="23"/>
<circle cx="394.0" cy="111.1" r="31" fill="none" stroke="#6aa6e6" stroke-width="1.3"/><path d="M394.0 80.1 A31 31 0 1 1 364.52 101.52" fill="none" stroke="#fff" stroke-width="2.8"/>
<text x="391.5" y="118.6" font-size="21" fill="#fff" font-weight="400" text-anchor="middle" >80</text>
<text x="403.5" y="118.39999999999999" font-size="9.5" fill="#fff" font-weight="400" text-anchor="start" >%</text>
<text x="250.3" y="181.9" font-size="11.75" fill="#1a50a0" font-weight="700" text-anchor="start" >Add your title</text>
<text x="250.3" y="195.7" font-size="8.87" fill="#222" font-weight="400" text-anchor="start" >Title can be changed by clicking and re-</text>
<text x="250.3" y="208.6" font-size="8.87" fill="#222" font-weight="400" text-anchor="start" >entering, please enter the caption here</text>
<path d="M0 0 H475 V41.5 Q250 18 0 42 Z" fill="#0c6abd"/>
<text x="15" y="24" font-size="13.8" fill="#fff" font-weight="700">Data comparison</text>
<circle cx="450.3" cy="40.2" r="15.2" fill="#fff"/>
<use href="#logo" x="438.1" y="28.2" width="23.8" height="23.8"/>
<text x="455" y="262" font-size="5.5" fill="#222" text-anchor="middle">29</text>
</g>
<g transform="translate(0,1120)">
<rect width="475" height="270" fill="#fff"/>
<path d="M73.0 106.4 L82.7 98.6 L98.2 101.4 L112.7 101.4 L127.1 106.4 L141.6 106.4 L148.4 106.4 L154.2 119.4 L158.1 126.6 L165.8 123.1 L171.6 123.1 L179.3 136.2 L169.6 147.0 L165.8 149.5 L160.0 154.3 L160.0 157.7 L155.2 162.0 L156.1 168.2 L153.2 164.1 L146.5 163.0 L139.7 166.1 L139.7 171.1 L144.5 175.0 L149.4 172.1 L148.4 176.9 L152.3 177.8 L153.2 182.5 L158.1 183.4 L156.1 185.2 L150.3 181.6 L144.5 177.8 L132.0 173.1 L127.1 169.2 L125.2 164.1 L122.3 162.0 L120.4 159.8 L113.6 151.9 L113.6 141.8 L107.8 131.6 L98.2 123.1 L86.6 124.9 L80.8 128.3 L74.0 123.1 L73.0 115.4 Z M112.7 95.8 L127.1 82.5 L146.5 74.5 L160.9 64.9 L173.5 53.3 L165.8 82.5 L156.1 92.8 L141.6 101.4 L122.3 101.4 Z M180.3 123.1 L191.9 123.1 L196.7 113.3 L212.1 101.4 L216.0 78.6 L214.1 53.3 L199.6 42.4 L180.3 53.3 L170.6 74.5 L165.8 78.6 L177.4 86.2 L182.2 101.4 L183.2 113.3 Z M156.1 183.4 L163.8 180.6 L173.5 182.5 L183.2 187.1 L199.6 196.1 L196.7 203.5 L194.8 212.1 L187.0 216.1 L182.2 224.4 L177.4 228.9 L170.6 233.7 L167.7 244.2 L165.8 251.6 L161.9 244.2 L162.9 231.3 L164.8 220.2 L165.8 208.2 L160.0 204.4 L155.2 196.1 L157.1 189.8 Z M224.7 154.3 L224.7 148.3 L231.5 147.0 L229.5 141.8 L235.3 137.6 L238.2 134.7 L241.1 133.1 L243.1 126.6 L238.2 124.9 L238.2 119.4 L246.9 106.4 L252.7 101.4 L260.4 98.6 L272.0 106.4 L275.9 111.1 L286.5 106.4 L291.4 101.4 L299.1 92.8 L310.7 92.8 L320.3 82.5 L334.8 74.5 L344.5 89.6 L359.0 95.8 L368.6 95.8 L378.3 98.6 L388.0 101.4 L397.6 101.4 L407.3 106.4 L416.9 111.1 L407.3 115.4 L402.4 119.4 L390.9 123.1 L388.0 133.1 L384.1 137.6 L383.1 126.6 L370.6 124.9 L363.8 131.6 L368.6 141.8 L363.8 148.3 L359.0 149.5 L356.1 151.9 L355.1 157.7 L351.3 155.4 L351.3 162.0 L349.3 168.2 L341.6 172.1 L337.7 175.0 L335.8 182.5 L331.0 179.7 L333.9 190.7 L328.1 184.3 L328.1 176.9 L322.3 172.1 L318.4 171.1 L310.7 177.8 L307.8 184.3 L303.0 173.1 L298.1 169.2 L288.5 168.2 L283.6 165.1 L279.8 163.0 L287.5 168.2 L290.4 171.1 L283.6 176.9 L274.9 179.7 L270.1 173.1 L266.2 165.1 L267.2 156.5 L259.5 155.4 L258.5 150.7 L255.6 154.3 L252.7 151.9 L248.9 154.3 L245.0 147.0 L241.1 147.0 L236.3 148.3 L228.6 156.5 Z M227.6 139.0 L235.3 137.6 L233.4 133.1 L230.5 124.9 L227.6 128.3 L228.6 133.1 Z M210.2 115.4 L219.9 115.4 L217.9 109.9 L212.1 109.9 Z M245.0 74.5 L257.6 78.6 L260.4 64.9 L247.9 64.9 Z M281.7 98.6 L291.4 82.5 L299.1 78.6 L287.5 92.8 Z M217.0 172.1 L217.0 178.8 L221.8 184.3 L225.7 187.5 L235.3 186.1 L242.1 188.0 L242.1 192.5 L246.0 196.1 L245.0 207.3 L247.9 217.1 L250.8 225.0 L257.6 224.4 L264.3 218.1 L267.2 212.1 L272.0 205.4 L272.0 196.1 L276.9 189.8 L282.7 180.6 L274.9 180.6 L270.1 175.0 L265.3 165.1 L264.3 162.0 L252.7 160.9 L243.1 155.4 L228.6 156.5 L223.7 163.0 Z M275.9 203.5 L281.7 205.4 L279.8 215.0 L275.9 214.0 Z M343.5 212.1 L351.3 208.2 L359.0 202.6 L365.7 202.6 L370.6 201.6 L374.4 208.2 L381.2 215.0 L379.3 224.4 L374.4 230.1 L366.7 225.5 L359.9 221.2 L345.5 225.5 L344.5 220.2 Z M325.2 187.1 L335.8 197.1 L333.9 196.1 L328.1 190.7 Z M338.7 190.7 L346.4 185.2 L348.4 191.6 L345.5 195.2 L339.7 194.3 Z M359.9 192.5 L369.6 194.3 L378.3 200.7 L369.6 199.8 L363.8 195.2 Z M334.8 197.1 L344.5 198.9 L343.5 199.3 L334.8 198.0 Z M359.0 162.0 L363.8 158.8 L368.6 156.5 L370.6 150.7 L369.6 145.8 L367.7 151.9 L359.9 158.8 Z M399.6 225.5 L405.3 228.9 L401.5 233.7 L394.7 238.7 L398.6 236.2 Z M349.3 175.0 L351.3 175.0 L355.1 184.3 L351.3 185.2 L349.3 178.8 Z M310.7 183.4 L312.6 185.2 L311.6 186.1 L310.7 185.2 Z M151.3 171.1 L160.9 173.1 L159.0 172.1 Z" fill="#f2f2f2" stroke="#f2f2f2" stroke-width="1.5" stroke-linejoin="round"/><path d="M141.6 123.1 L149.4 130.0 L156.1 136.2 L158.1 126.6 L151.3 117.4 L144.5 117.4 Z" fill="#fff"/>
<text x="38.75" y="122.5" font-size="23" fill="#1a56a8" font-weight="700" text-anchor="start" >01</text>
<text x="88" y="123.75" font-size="11.77" fill="#1a50a0" font-weight="700" text-anchor="start" >Add title text</text>
<text x="88" y="141.75" font-size="7.94" fill="#222" font-weight="400" text-anchor="start" >The title can be changed by clicking</text>
<text x="88" y="155.75" font-size="7.94" fill="#222" font-weight="400" text-anchor="start" >and re-entering click here</text>
<text x="255.8" y="122.5" font-size="23" fill="#1a56a8" font-weight="700" text-anchor="start" >02</text>
<text x="297.6" y="123.75" font-size="11.77" fill="#1a50a0" font-weight="700" text-anchor="start" >Add title text</text>
<text x="297.6" y="141.75" font-size="7.94" fill="#222" font-weight="400" text-anchor="start" >The title can be changed by clicking</text>
<text x="297.6" y="155.75" font-size="7.94" fill="#222" font-weight="400" text-anchor="start" >and re-entering click here</text>
<path d="M0 0 H475 V41.5 Q250 18 0 42 Z" fill="#0c6abd"/>
<text x="15" y="24" font-size="13.8" fill="#fff" font-weight="700">Introduction to the global business</text>
<circle cx="450.3" cy="40.2" r="15.2" fill="#fff"/>
<use href="#logo" x="438.1" y="28.2" width="23.8" height="23.8"/>
<text x="455" y="262" font-size="5.5" fill="#222" text-anchor="middle">30</text>
</g>
<g transform="translate(485,1120)">
<rect x="0" y="0" width="475" height="270" fill="#fff"/>
<g clip-path="url(#s10clip)"><path d="M394.1 0.0 L398.0 1.6 L400.0 2.2 L404.0 2.8 L408.0 2.7 L410.9 2.0 L414.0 0.9 M385.7 0.0 L388.0 1.7 L390.0 3.1 L392.0 4.3 L395.3 6.0 L398.0 7.1 L401.0 8.0 L404.0 8.5 L408.0 8.5 L411.0 8.0 L414.0 7.1 L416.3 6.0 L419.7 4.0 L422.0 2.4 L424.0 0.8 M379.5 0.0 L381.7 2.0 L384.0 3.9 L386.0 5.4 L388.0 6.9 L390.0 8.3 L392.9 10.0 L396.0 11.6 L398.0 12.4 L402.0 13.6 L404.2 14.0 L408.0 14.2 L410.0 14.0 L414.0 13.0 L416.3 12.0 L420.0 10.0 L422.0 8.6 L424.0 7.1 L426.0 5.5 L428.0 3.8 L430.2 2.0 L432.6 0.0 M373.9 0.0 L376.0 2.0 L378.0 3.8 L380.0 5.6 L382.0 7.3 L384.0 8.9 L386.0 10.5 L388.1 12.0 L391.1 14.0 L394.0 15.6 L396.0 16.6 L399.4 18.0 L402.0 18.8 L406.0 19.4 L410.0 19.4 L414.0 18.6 L416.0 17.9 L419.8 16.0 L422.0 14.6 L424.0 13.2 L426.0 11.6 L428.0 9.9 L430.2 8.0 L432.5 6.0 L434.9 4.0 L437.3 2.0 L440.0 0.0 M185.5 0.0 L188.0 1.0 L192.0 1.9 L194.0 2.1 L196.4 2.0 L200.0 1.4 L204.0 0.2 M368.5 0.0 L370.6 2.0 L372.7 4.0 L374.8 6.0 L377.0 8.0 L379.3 10.0 L381.6 12.0 L384.0 13.9 L386.0 15.4 L388.0 16.9 L390.0 18.2 L393.0 20.0 L396.0 21.5 L398.0 22.4 L402.0 23.7 L404.0 24.2 L408.0 24.6 L412.0 24.4 L414.0 24.0 L418.0 22.6 L420.0 21.6 L422.6 20.0 L425.4 18.0 L427.9 16.0 L430.0 14.1 L432.0 12.4 L434.0 10.6 L436.0 8.8 L438.0 7.1 L440.0 5.5 L442.1 4.0 L445.2 2.0 L448.0 0.5 M176.9 0.0 L179.7 2.0 L182.0 3.5 L184.0 4.6 L187.2 6.0 L190.0 6.9 L194.0 7.6 L198.0 7.5 L202.0 6.6 L204.0 5.9 L208.0 4.1 L210.0 3.0 L212.0 1.8 L214.8 0.0 M362.9 0.0 L365.0 2.0 L367.2 4.0 L369.3 6.0 L371.4 8.0 L373.6 10.0 L375.8 12.0 L378.0 13.9 L380.0 15.6 L382.0 17.2 L384.0 18.8 L386.0 20.3 L388.5 22.0 L391.7 24.0 L394.0 25.3 L396.0 26.3 L400.0 27.9 L402.0 28.5 L406.0 29.4 L410.0 29.6 L414.0 29.1 L417.7 28.0 L420.0 27.0 L422.0 25.9 L424.9 24.0 L427.6 22.0 L429.9 20.0 L432.0 18.2 L434.0 16.3 L436.0 14.5 L438.0 12.7 L440.0 11.0 L442.0 9.4 L444.0 7.9 L447.0 6.0 L450.0 4.4 L452.0 3.5 L456.0 2.2 L458.0 1.7 L462.0 1.1 L466.0 0.9 L470.0 0.9 L474.0 1.2 L478.0 1.5 L481.9 2.0 L484.0 2.2 L488.0 2.7 M171.1 0.0 L173.3 2.0 L175.6 4.0 L178.0 5.9 L180.0 7.4 L182.0 8.7 L184.4 10.0 L188.0 11.6 L190.0 12.3 L194.0 13.0 L198.0 13.0 L202.0 12.3 L204.0 11.7 L207.7 10.0 L210.0 8.8 L212.0 7.5 L214.3 6.0 L217.3 4.0 L220.0 2.2 L222.0 0.9 M277.6 0.0 L280.0 0.6 L284.0 1.4 L287.2 2.0 L290.0 2.4 L294.0 2.6 L298.0 2.5 L301.8 2.0 L304.0 1.5 L308.0 0.1 M356.5 0.0 L358.8 2.0 L361.1 4.0 L363.4 6.0 L365.6 8.0 L367.8 10.0 L370.0 12.0 L372.0 13.7 L374.0 15.5 L376.0 17.2 L378.0 18.9 L380.0 20.5 L382.0 22.1 L384.6 24.0 L387.4 26.0 L390.0 27.6 L392.0 28.8 L394.2 30.0 L398.0 31.8 L400.0 32.5 L404.0 33.7 L406.0 34.1 L410.0 34.4 L414.0 34.1 L416.0 33.6 L420.0 32.3 L422.0 31.3 L424.2 30.0 L427.0 28.0 L429.5 26.0 L431.8 24.0 L434.0 22.0 L436.0 20.1 L438.0 18.3 L440.0 16.4 L442.0 14.7 L444.0 13.1 L446.0 11.6 L448.5 10.0 L452.0 8.1 L454.0 7.3 L457.9 6.0 L460.0 5.5 L464.0 4.9 L468.0 4.7 L472.0 4.7 L476.0 5.0 L480.0 5.4 L484.0 5.9 L486.0 6.1 M0.0 8.6 L2.0 6.2 L3.8 4.0 L5.4 2.0 L7.0 0.0 M166.2 0.0 L168.1 2.0 L170.0 4.0 L172.1 6.0 L174.3 8.0 L176.7 10.0 L179.3 12.0 L182.0 13.8 L184.0 15.0 L186.1 16.0 L190.0 17.5 L192.0 18.0 L196.0 18.5 L200.0 18.3 L202.0 17.9 L206.0 16.6 L208.0 15.6 L210.9 14.0 L214.0 12.0 L216.0 10.6 L218.0 9.2 L220.0 7.7 L222.5 6.0 L225.6 4.0 L228.0 2.6 L230.0 1.6 L233.7 0.0 M262.9 0.0 L266.0 0.8 L270.0 1.9 L272.0 2.4 L276.0 3.6 L278.0 4.2 L282.0 5.3 L284.8 6.0 L288.0 6.7 L292.0 7.5 L296.0 7.9 L298.0 8.0 L300.8 8.0 L304.0 7.7 L308.0 6.9 L310.8 6.0 L314.0 4.7 L316.0 3.7 L319.4 2.0 L322.0 0.6 M347.3 0.0 L350.0 1.5 L352.0 2.8 L354.0 4.2 L356.5 6.0 L359.0 8.0 L361.4 10.0 L363.8 12.0 L366.0 13.8 L368.0 15.5 L370.0 17.2 L372.0 18.9 L374.0 20.6 L376.0 22.2 L378.2 24.0 L380.8 26.0 L383.5 28.0 L386.0 29.7 L388.0 31.0 L390.0 32.2 L393.2 34.0 L396.0 35.4 L398.0 36.3 L402.0 37.7 L404.0 38.2 L408.0 38.9 L412.0 39.0 L416.0 38.5 L418.0 38.0 L422.0 36.4 L424.0 35.4 L426.2 34.0 L428.9 32.0 L431.3 30.0 L433.5 28.0 L435.7 26.0 L437.8 24.0 L439.9 22.0 L442.0 20.1 L444.0 18.3 L446.0 16.7 L448.0 15.3 L450.0 14.0 L453.6 12.0 L456.0 11.0 L458.9 10.0 L462.0 9.2 L466.0 8.7 L470.0 8.5 L474.0 8.5 L478.0 8.8 L482.0 9.3 L486.0 9.8 L488.0 10.1 M0.0 14.0 L1.7 12.0 L3.3 10.0 L4.9 8.0 L6.5 6.0 L8.1 4.0 L10.0 1.8 M161.6 0.0 L163.4 2.0 L165.2 4.0 L167.0 6.0 L168.9 8.0 L171.0 10.0 L173.1 12.0 L175.4 14.0 L177.8 16.0 L180.0 17.6 L182.0 18.9 L184.0 20.1 L188.0 22.0 L190.0 22.7 L194.0 23.6 L198.0 23.9 L202.0 23.4 L206.0 22.2 L208.0 21.3 L210.4 20.0 L213.6 18.0 L216.0 16.3 L218.0 14.8 L220.0 13.3 L222.0 11.9 L224.6 10.0 L227.6 8.0 L230.0 6.6 L232.0 5.5 L235.6 4.0 L238.0 3.2 L242.0 2.3 L244.4 2.0 L248.0 1.8 L252.0 1.9 L254.0 2.1 L258.0 2.7 L262.0 3.6 L264.0 4.1 L268.0 5.2 L270.9 6.0 L274.0 7.0 L277.2 8.0 L280.0 8.9 L283.5 10.0 L286.0 10.8 L290.0 11.9 L292.0 12.4 L296.0 13.2 L300.0 13.7 L304.0 13.9 L308.0 13.6 L312.0 12.8 L314.7 12.0 L318.0 10.7 L320.0 9.9 L324.0 8.0 L326.0 7.1 L328.9 6.0 L332.0 5.1 L336.0 4.5 L340.0 4.7 L344.0 5.6 L346.0 6.3 L349.7 8.0 L352.0 9.3 L354.0 10.5 L356.2 12.0 L359.0 14.0 L361.6 16.0 L364.0 17.8 L366.0 19.4 L368.0 21.0 L370.0 22.6 L372.0 24.2 L374.4 26.0 L377.0 28.0 L379.7 30.0 L382.0 31.6 L384.0 33.0 L386.0 34.3 L388.7 36.0 L392.0 37.8 L394.0 38.9 L396.4 40.0 L400.0 41.4 L402.0 42.1 L406.0 43.1 L410.0 43.5 L414.0 43.5 L418.0 42.8 L420.5 42.0 L424.0 40.4 L426.0 39.3 L428.0 38.0 L430.6 36.0 L432.9 34.0 L435.1 32.0 L437.2 30.0 L439.3 28.0 L441.4 26.0 L443.6 24.0 L445.9 22.0 L448.0 20.3 L450.0 18.8 L452.0 17.5 L454.8 16.0 L458.0 14.6 L460.0 13.9 L464.0 12.9 L468.0 12.4 L472.0 12.2 L476.0 12.4 L480.0 12.7 L484.0 13.2 L488.0 13.7 M0.0 19.4 L2.0 17.0 L4.0 14.6 L6.0 12.0 L7.6 10.0 L9.2 8.0 L10.9 6.0 L12.6 4.0 L14.5 2.0 L16.5 0.0 M157.2 0.0 L158.8 2.0 L160.6 4.0 L162.3 6.0 L164.1 8.0 L166.0 10.1 L168.0 12.2 L170.0 14.2 L172.0 16.2 L174.1 18.0 L176.5 20.0 L179.1 22.0 L182.0 23.9 L184.0 25.1 L186.0 26.1 L190.0 27.8 L192.0 28.4 L196.0 29.0 L200.0 29.1 L204.0 28.3 L206.0 27.7 L209.8 26.0 L212.0 24.8 L214.0 23.5 L216.1 22.0 L218.7 20.0 L221.3 18.0 L223.9 16.0 L226.0 14.4 L228.0 13.0 L230.0 11.7 L233.0 10.0 L236.0 8.6 L238.0 7.8 L242.0 6.7 L246.0 6.0 L248.0 5.9 L252.0 5.9 L254.0 6.1 L258.0 6.6 L262.0 7.4 L264.4 8.0 L268.0 9.0 L271.1 10.0 L274.0 11.0 L277.0 12.0 L280.0 13.1 L282.6 14.0 L286.0 15.2 L288.3 16.0 L292.0 17.2 L294.6 18.0 L298.0 18.9 L302.0 19.7 L304.2 20.0 L308.0 20.2 L312.0 20.0 L314.0 19.8 L318.0 18.8 L320.5 18.0 L324.0 16.7 L326.0 15.9 L330.0 14.3 L332.0 13.7 L336.0 12.8 L340.0 12.6 L344.0 13.2 L347.0 14.0 L350.0 15.2 L352.0 16.1 L355.4 18.0 L358.0 19.6 L360.0 20.9 L362.0 22.2 L364.5 24.0 L367.3 26.0 L370.0 27.9 L372.0 29.4 L374.0 30.8 L376.0 32.3 L378.5 34.0 L381.4 36.0 L384.0 37.6 L386.0 38.9 L388.0 40.1 L391.5 42.0 L394.0 43.2 L396.0 44.1 L400.0 45.7 L402.0 46.4 L406.0 47.4 L410.0 47.9 L412.0 48.0 L414.0 48.0 L418.0 47.4 L422.0 46.2 L424.0 45.3 L426.5 44.0 L429.5 42.0 L432.0 40.1 L434.0 38.4 L436.0 36.6 L438.0 34.7 L440.0 32.7 L442.0 30.8 L444.0 28.9 L446.0 27.1 L448.0 25.3 L450.0 23.8 L452.5 22.0 L455.9 20.0 L458.0 19.0 L460.6 18.0 L464.0 17.0 L468.0 16.3 L472.0 16.0 L476.0 16.1 L480.0 16.4 L484.0 16.8 L488.0 17.4 M0.0 24.8 L2.0 22.5 L4.0 20.1 L5.7 18.0 L7.3 16.0 L8.8 14.0 L10.4 12.0 L12.1 10.0 L14.0 7.8 L16.0 5.6 L18.0 3.6 L20.0 1.8 L22.2 0.0 M152.7 0.0 L154.3 2.0 L156.0 4.0 L158.0 6.4 L160.0 8.8 L162.0 11.1 L164.0 13.3 L166.0 15.4 L168.0 17.5 L170.0 19.5 L172.0 21.3 L174.0 23.1 L176.0 24.7 L178.0 26.3 L180.5 28.0 L183.8 30.0 L186.0 31.1 L188.0 32.0 L192.0 33.4 L195.1 34.0 L198.0 34.3 L202.0 34.1 L204.0 33.7 L208.0 32.4 L210.0 31.5 L212.7 30.0 L215.7 28.0 L218.0 26.3 L220.0 24.7 L222.0 23.1 L224.0 21.5 L226.0 19.9 L228.5 18.0 L231.4 16.0 L234.0 14.5 L236.0 13.4 L239.3 12.0 L242.0 11.1 L246.0 10.3 L249.7 10.0 L252.0 10.0 L254.0 10.1 L258.0 10.5 L262.0 11.3 L264.8 12.0 L268.0 12.9 L271.3 14.0 L274.0 15.0 L276.8 16.0 L280.0 17.3 L282.0 18.1 L286.0 19.7 L288.0 20.5 L291.8 22.0 L294.0 22.8 L297.3 24.0 L300.0 24.9 L304.0 26.0 L306.0 26.4 L310.0 27.0 L314.0 27.2 L318.0 26.9 L322.0 26.1 L324.0 25.5 L328.0 24.1 L330.0 23.4 L334.0 22.2 L336.0 21.7 L340.0 21.1 L344.0 21.2 L348.0 21.9 L350.0 22.5 L353.9 24.0 L356.0 25.0 L358.0 26.0 L361.5 28.0 L364.0 29.5 L366.0 30.8 L368.0 32.1 L371.0 34.0 L374.0 36.0 L376.0 37.3 L378.0 38.6 L380.3 40.0 L383.6 42.0 L386.0 43.4 L388.0 44.5 L390.8 46.0 L394.0 47.5 L396.0 48.4 L400.0 49.9 L402.0 50.6 L406.0 51.6 L408.3 52.0 L412.0 52.3 L416.0 52.2 L418.0 51.9 L422.0 50.9 L424.3 50.0 L428.0 48.1 L430.0 46.7 L432.0 45.3 L434.0 43.7 L436.0 41.9 L438.0 40.0 L440.1 38.0 L442.1 36.0 L444.2 34.0 L446.3 32.0 L448.5 30.0 L451.0 28.0 L453.7 26.0 L456.0 24.6 L458.0 23.5 L461.5 22.0 L464.0 21.2 L468.0 20.3 L470.7 20.0 L474.0 19.8 L478.0 19.9 L480.0 20.1 L484.0 20.5 L488.0 21.1 M0.0 30.2 L2.0 28.0 L3.7 26.0 L5.4 24.0 L7.0 22.0 L8.6 20.0 L10.1 18.0 L12.0 15.7 L14.0 13.2 L16.0 10.9 L18.0 8.8 L20.0 6.8 L22.0 5.1 L24.0 3.5 L26.2 2.0 L29.9 0.0 M147.9 0.0 L149.6 2.0 L151.3 4.0 L152.9 6.0 L154.6 8.0 L156.3 10.0 L158.0 12.1 L160.0 14.4 L162.0 16.6 L164.0 18.8 L166.0 20.9 L168.0 22.9 L170.0 24.8 L172.0 26.6 L174.0 28.2 L176.2 30.0 L179.0 32.0 L182.0 33.9 L184.0 35.0 L186.0 36.0 L190.0 37.7 L192.0 38.3 L196.0 39.1 L200.0 39.3 L204.0 38.9 L207.4 38.0 L210.0 37.0 L212.0 36.0 L215.2 34.0 L218.0 32.0 L220.0 30.5 L222.0 28.8 L224.0 27.2 L226.0 25.5 L228.0 23.9 L230.5 22.0 L233.3 20.0 L236.0 18.4 L238.0 17.4 L241.3 16.0 L244.0 15.2 L248.0 14.4 L252.0 14.1 L256.0 14.3 L260.0 14.9 L264.0 15.7 L266.0 16.3 L270.0 17.5 L272.0 18.2 L276.0 19.8 L278.0 20.6 L281.2 22.0 L284.0 23.2 L286.0 24.1 L290.0 26.0 L292.0 26.9 L294.4 28.0 L298.0 29.6 L300.0 30.4 L304.0 31.9 L306.0 32.6 L310.0 33.8 L312.0 34.2 L316.0 34.7 L320.0 34.8 L324.0 34.3 L326.0 33.9 L330.0 32.8 L332.5 32.0 L336.0 31.0 L340.0 30.0 L342.0 29.8 L346.0 29.7 L349.0 30.0 L352.0 30.6 L356.0 31.9 L358.0 32.7 L360.9 34.0 L364.0 35.5 L366.0 36.6 L368.5 38.0 L372.0 40.0 L374.0 41.1 L376.0 42.3 L378.9 44.0 L382.0 45.7 L384.0 46.8 L386.2 48.0 L390.0 49.9 L392.0 50.9 L394.6 52.0 L398.0 53.4 L400.0 54.1 L404.0 55.3 L407.4 56.0 L410.0 56.4 L414.0 56.6 L418.0 56.3 L420.0 55.9 L424.0 54.7 L426.0 53.9 L429.5 52.0 L432.0 50.3 L434.0 48.8 L436.0 47.1 L438.0 45.3 L440.0 43.4 L442.0 41.4 L444.0 39.4 L446.0 37.5 L448.0 35.6 L450.0 33.8 L452.2 32.0 L454.9 30.0 L458.0 28.0 L460.0 27.0 L462.3 26.0 L466.0 24.8 L470.0 24.0 L472.0 23.8 L476.0 23.6 L480.0 23.8 L482.0 24.0 L486.0 24.5 M0.0 35.5 L2.0 33.5 L4.0 31.3 L6.0 29.0 L8.0 26.5 L10.0 24.0 L11.5 22.0 L13.1 20.0 L14.7 18.0 L16.4 16.0 L18.2 14.0 L20.1 12.0 L22.2 10.0 L24.6 8.0 L27.5 6.0 L30.0 4.5 L32.0 3.6 L36.0 2.2 L38.0 1.6 L42.0 1.0 L46.0 0.7 L50.0 0.7 L54.0 0.9 L58.0 1.2 L62.0 1.7 L65.5 2.0 L68.0 2.2 L72.0 2.4 L76.0 2.3 L79.1 2.0 L82.0 1.4 L86.0 0.1 M142.6 0.0 L144.4 2.0 L146.1 4.0 L148.0 6.2 L150.0 8.6 L152.0 11.0 L154.0 13.3 L156.0 15.7 L158.0 18.0 L159.8 20.0 L161.7 22.0 L163.6 24.0 L165.6 26.0 L167.7 28.0 L169.9 30.0 L172.0 31.8 L174.0 33.4 L176.0 34.9 L178.0 36.3 L180.7 38.0 L184.0 39.9 L186.0 40.8 L188.8 42.0 L192.0 43.1 L196.0 44.0 L198.0 44.2 L202.0 44.2 L204.0 44.0 L208.0 43.1 L210.8 42.0 L214.0 40.4 L216.0 39.1 L218.0 37.7 L220.3 36.0 L222.7 34.0 L225.0 32.0 L227.4 30.0 L229.8 28.0 L232.0 26.3 L234.0 24.8 L236.0 23.5 L238.7 22.0 L242.0 20.5 L244.0 19.8 L248.0 18.8 L252.0 18.4 L256.0 18.4 L260.0 18.9 L264.0 19.8 L266.0 20.3 L270.0 21.6 L272.0 22.3 L276.0 23.9 L278.0 24.8 L280.7 26.0 L284.0 27.6 L286.0 28.6 L288.7 30.0 L292.0 31.7 L294.0 32.8 L296.4 34.0 L300.0 35.9 L302.0 36.8 L304.5 38.0 L308.0 39.5 L310.0 40.3 L314.0 41.6 L316.0 42.2 L320.0 42.8 L324.0 42.9 L328.0 42.5 L330.5 42.0 L334.0 41.1 L337.6 40.0 L340.0 39.3 L344.0 38.5 L348.0 38.1 L352.0 38.3 L356.0 39.0 L359.4 40.0 L362.0 40.9 L364.8 42.0 L368.0 43.4 L370.0 44.4 L373.3 46.0 L376.0 47.3 L378.0 48.4 L381.2 50.0 L384.0 51.4 L386.0 52.4 L389.5 54.0 L392.0 55.1 L394.2 56.0 L398.0 57.5 L400.0 58.2 L404.0 59.3 L407.1 60.0 L410.0 60.5 L414.0 60.7 L418.0 60.6 L421.3 60.0 L424.0 59.3 L427.1 58.0 L430.0 56.5 L432.0 55.2 L434.0 53.8 L436.2 52.0 L438.5 50.0 L440.6 48.0 L442.7 46.0 L444.7 44.0 L446.7 42.0 L448.8 40.0 L451.0 38.0 L453.4 36.0 L456.0 34.0 L458.0 32.7 L460.0 31.5 L463.2 30.0 L466.0 29.0 L470.0 28.0 L472.0 27.8 L476.0 27.5 L480.0 27.6 L484.0 28.0 L486.0 28.3 M0.0 40.8 L2.0 39.0 L4.0 37.0 L6.0 34.7 L8.0 32.3 L9.9 30.0 L11.5 28.0 L13.0 26.0 L14.6 24.0 L16.2 22.0 L18.0 19.8 L20.0 17.6 L22.0 15.6 L24.0 13.7 L26.1 12.0 L29.0 10.0 L32.0 8.3 L34.0 7.4 L38.0 6.1 L40.0 5.7 L44.0 5.2 L48.0 5.1 L52.0 5.2 L56.0 5.7 L58.5 6.0 L62.0 6.6 L66.0 7.3 L70.0 7.9 L72.0 8.2 L76.0 8.7 L80.0 8.9 L84.0 8.6 L87.0 8.0 L90.0 7.0 L92.0 6.0 L95.2 4.0 L97.9 2.0 L100.0 0.2 M135.9 0.0 L138.0 2.0 L140.0 4.0 L141.8 6.0 L143.6 8.0 L145.4 10.0 L147.2 12.0 L148.9 14.0 L150.6 16.0 L152.4 18.0 L154.2 20.0 L156.0 22.0 L158.0 24.1 L160.0 26.2 L162.0 28.2 L164.0 30.2 L166.0 32.0 L168.3 34.0 L170.7 36.0 L173.3 38.0 L176.0 39.9 L178.0 41.3 L180.0 42.5 L182.7 44.0 L186.0 45.6 L188.0 46.4 L192.0 47.8 L194.0 48.3 L198.0 49.0 L202.0 49.1 L206.0 48.7 L208.7 48.0 L212.0 46.8 L214.0 45.8 L217.0 44.0 L219.9 42.0 L222.0 40.3 L224.0 38.6 L226.0 36.9 L228.0 35.2 L230.0 33.5 L232.0 31.8 L234.3 30.0 L237.2 28.0 L240.0 26.3 L242.0 25.4 L245.6 24.0 L248.0 23.3 L252.0 22.7 L256.0 22.7 L260.0 23.1 L264.0 23.8 L266.0 24.4 L270.0 25.6 L272.0 26.4 L275.8 28.0 L278.0 29.0 L280.1 30.0 L283.9 32.0 L286.0 33.1 L288.0 34.2 L291.1 36.0 L294.0 37.7 L296.0 38.9 L298.0 40.1 L301.3 42.0 L304.0 43.6 L306.0 44.7 L308.5 46.0 L312.0 47.7 L314.0 48.6 L317.9 50.0 L320.0 50.6 L324.0 51.3 L328.0 51.4 L332.0 51.0 L336.0 50.0 L338.0 49.4 L342.0 48.2 L344.0 47.6 L348.0 46.7 L352.0 46.3 L356.0 46.4 L360.0 47.0 L364.0 47.9 L366.0 48.5 L370.0 50.0 L372.0 50.7 L375.0 52.0 L378.0 53.3 L380.0 54.2 L384.0 55.9 L386.0 56.8 L388.8 58.0 L392.0 59.3 L394.0 60.1 L398.0 61.5 L400.0 62.2 L404.0 63.3 L407.1 64.0 L410.0 64.5 L414.0 64.8 L418.0 64.7 L422.0 64.2 L424.0 63.7 L428.0 62.2 L430.0 61.2 L432.1 60.0 L435.0 58.0 L437.5 56.0 L439.8 54.0 L441.9 52.0 L443.9 50.0 L445.9 48.0 L447.9 46.0 L450.0 44.0 L452.0 42.2 L454.0 40.4 L456.0 38.8 L458.0 37.4 L460.2 36.0 L464.0 34.1 L466.0 33.3 L470.0 32.1 L472.0 31.8 L476.0 31.4 L480.0 31.4 L484.0 31.8 L486.0 32.1 M0.0 46.1 L2.0 44.4 L4.0 42.6 L6.0 40.5 L8.0 38.3 L9.9 36.0 L11.5 34.0 L13.1 32.0 L14.6 30.0 L16.2 28.0 L18.0 25.8 L20.0 23.4 L22.0 21.2 L24.0 19.2 L26.0 17.4 L28.0 15.8 L30.8 14.0 L34.0 12.3 L36.0 11.5 L40.0 10.4 L42.0 10.0 L46.0 9.7 L50.0 9.7 L52.9 10.0 L56.0 10.4 L60.0 11.2 L63.3 12.0 L66.0 12.7 L70.0 13.8 L72.0 14.3 L76.0 15.4 L78.5 16.0 L82.0 16.7 L86.0 17.2 L90.0 17.1 L94.0 16.3 L96.0 15.4 L98.5 14.0 L101.1 12.0 L103.4 10.0 L105.6 8.0 L107.8 6.0 L110.0 4.2 L112.0 2.8 L114.0 1.7 L118.0 0.4 L122.0 0.4 L126.0 1.5 L128.0 2.5 L130.6 4.0 L133.3 6.0 L135.7 8.0 L137.9 10.0 L140.0 12.0 L142.0 14.0 L143.9 16.0 L145.8 18.0 L147.6 20.0 L149.5 22.0 L151.4 24.0 L153.3 26.0 L155.3 28.0 L157.4 30.0 L159.5 32.0 L161.6 34.0 L163.9 36.0 L166.0 37.7 L168.0 39.3 L170.0 40.8 L172.0 42.3 L174.5 44.0 L177.7 46.0 L180.0 47.3 L182.0 48.4 L185.4 50.0 L188.0 51.1 L190.7 52.0 L194.0 52.9 L198.0 53.6 L202.0 53.9 L206.0 53.6 L210.0 52.7 L212.0 52.0 L216.0 50.1 L218.0 48.9 L220.0 47.5 L222.0 46.0 L224.5 44.0 L226.8 42.0 L229.1 40.0 L231.3 38.0 L233.7 36.0 L236.0 34.2 L238.0 32.8 L240.0 31.5 L242.8 30.0 L246.0 28.7 L248.1 28.0 L252.0 27.2 L256.0 27.0 L260.0 27.3 L263.9 28.0 L266.0 28.5 L270.0 29.8 L272.0 30.6 L275.3 32.0 L278.0 33.3 L280.0 34.3 L283.2 36.0 L286.0 37.6 L288.0 38.9 L290.0 40.1 L293.0 42.0 L296.0 44.0 L298.0 45.3 L300.0 46.6 L302.1 48.0 L305.2 50.0 L308.0 51.8 L310.0 53.0 L312.0 54.2 L315.4 56.0 L318.0 57.2 L320.0 58.1 L324.0 59.3 L328.0 60.0 L330.0 60.1 L332.0 60.0 L336.0 59.3 L340.0 58.2 L342.0 57.5 L346.0 56.1 L348.0 55.5 L352.0 54.5 L355.3 54.0 L358.0 53.8 L361.4 54.0 L364.0 54.3 L368.0 55.1 L371.3 56.0 L374.0 56.8 L377.4 58.0 L380.0 58.9 L382.8 60.0 L386.0 61.2 L388.0 62.0 L392.0 63.5 L394.0 64.2 L398.0 65.5 L400.0 66.2 L404.0 67.2 L407.5 68.0 L410.0 68.4 L414.0 68.8 L418.0 68.8 L422.0 68.4 L424.0 68.0 L428.0 66.7 L430.0 65.8 L433.2 64.0 L436.0 62.1 L438.0 60.6 L440.0 58.9 L442.0 57.1 L444.0 55.1 L446.0 53.2 L448.0 51.2 L450.0 49.2 L452.0 47.3 L454.0 45.4 L456.0 43.7 L458.3 42.0 L461.3 40.0 L464.0 38.5 L466.0 37.6 L470.0 36.3 L472.0 35.9 L476.0 35.4 L480.0 35.3 L484.0 35.6 L486.8 36.0 M0.0 51.3 L2.0 49.8 L4.2 48.0 L6.3 46.0 L8.2 44.0 L10.0 42.0 L12.0 39.6 L14.0 37.0 L16.0 34.5 L18.0 32.0 L19.6 30.0 L21.3 28.0 L23.1 26.0 L25.1 24.0 L27.2 22.0 L29.8 20.0 L32.0 18.5 L34.0 17.4 L37.5 16.0 L40.0 15.3 L44.0 14.6 L48.0 14.5 L52.0 14.8 L56.0 15.4 L58.4 16.0 L62.0 17.0 L64.9 18.0 L68.0 19.1 L70.2 20.0 L74.0 21.6 L76.0 22.5 L79.5 24.0 L82.0 25.1 L84.0 26.0 L88.0 27.7 L90.0 28.4 L94.0 29.5 L98.0 29.8 L102.0 29.0 L104.0 27.9 L106.4 26.0 L108.4 24.0 L110.2 22.0 L112.0 20.0 L114.0 17.9 L116.1 16.0 L119.4 14.0 L122.0 13.2 L126.0 13.3 L128.6 14.0 L132.0 15.6 L134.0 16.9 L136.0 18.3 L138.2 20.0 L140.6 22.0 L142.9 24.0 L145.1 26.0 L147.3 28.0 L149.5 30.0 L151.8 32.0 L154.0 34.0 L156.0 35.7 L158.0 37.3 L160.0 39.0 L162.0 40.5 L164.0 42.0 L166.7 44.0 L169.6 46.0 L172.0 47.5 L174.0 48.8 L176.1 50.0 L179.8 52.0 L182.0 53.1 L184.0 54.0 L188.0 55.6 L190.0 56.3 L194.0 57.4 L196.8 58.0 L200.0 58.4 L204.0 58.5 L208.0 58.1 L210.0 57.7 L214.0 56.3 L216.0 55.4 L218.5 54.0 L221.5 52.0 L224.0 50.1 L226.0 48.5 L228.0 46.7 L230.0 45.0 L232.0 43.2 L234.0 41.4 L236.0 39.8 L238.3 38.0 L241.3 36.0 L244.0 34.5 L246.0 33.6 L250.0 32.3 L252.0 31.9 L256.0 31.5 L260.0 31.6 L262.5 32.0 L266.0 32.8 L269.9 34.0 L272.0 34.8 L274.7 36.0 L278.0 37.6 L280.0 38.7 L282.4 40.0 L285.7 42.0 L288.0 43.5 L290.0 44.8 L292.0 46.2 L294.6 48.0 L297.4 50.0 L300.0 51.9 L302.0 53.4 L304.0 54.9 L306.0 56.3 L308.3 58.0 L311.2 60.0 L314.0 61.8 L316.0 63.0 L318.0 64.2 L321.7 66.0 L324.0 66.9 L327.7 68.0 L330.0 68.4 L334.0 68.5 L337.3 68.0 L340.0 67.3 L343.7 66.0 L346.0 65.1 L348.7 64.0 L352.0 62.8 L354.5 62.0 L358.0 61.2 L362.0 60.8 L366.0 60.9 L370.0 61.3 L373.4 62.0 L376.0 62.6 L380.0 63.7 L382.0 64.4 L386.0 65.6 L388.0 66.3 L392.0 67.6 L394.0 68.3 L398.0 69.5 L400.0 70.1 L404.0 71.1 L408.0 72.0 L410.0 72.3 L414.0 72.7 L418.0 72.8 L422.0 72.5 L424.6 72.0 L428.0 71.0 L430.6 70.0 L434.0 68.2 L436.0 66.9 L438.0 65.5 L440.0 63.9 L442.2 62.0 L444.3 60.0 L446.4 58.0 L448.4 56.0 L450.4 54.0 L452.4 52.0 L454.6 50.0 L456.9 48.0 L459.4 46.0 L462.0 44.2 L464.0 43.1 L466.2 42.0 L470.0 40.6 L472.2 40.0 L476.0 39.4 L480.0 39.2 L484.0 39.5 L487.6 40.0 M0.0 56.4 L2.0 55.2 L4.0 53.7 L6.1 52.0 L8.2 50.0 L10.1 48.0 L12.0 45.9 L14.0 43.4 L16.0 40.9 L18.0 38.4 L19.9 36.0 L21.6 34.0 L23.3 32.0 L25.1 30.0 L27.2 28.0 L29.5 26.0 L32.0 24.1 L34.0 22.9 L36.0 21.9 L40.0 20.4 L42.0 20.0 L46.0 19.5 L50.0 19.6 L52.7 20.0 L56.0 20.7 L60.0 21.9 L62.0 22.6 L65.3 24.0 L68.0 25.3 L70.0 26.3 L73.0 28.0 L76.0 29.9 L78.0 31.2 L80.0 32.5 L82.1 34.0 L84.8 36.0 L87.4 38.0 L90.0 40.0 L92.0 41.6 L94.0 43.2 L96.0 44.7 L98.0 46.1 L101.0 48.0 L104.0 49.5 L106.0 50.1 L110.0 50.1 L112.0 49.3 L114.0 47.9 L116.0 45.7 L118.0 42.9 L119.8 40.0 L121.1 38.0 L122.5 36.0 L124.3 34.0 L126.8 32.0 L130.0 30.8 L134.0 30.9 L137.6 32.0 L140.0 33.1 L142.0 34.1 L145.2 36.0 L148.0 37.7 L150.0 39.0 L152.0 40.3 L154.5 42.0 L157.6 44.0 L160.0 45.6 L162.0 46.8 L164.0 48.1 L167.2 50.0 L170.0 51.6 L172.0 52.7 L174.3 54.0 L178.0 55.9 L180.0 56.8 L182.7 58.0 L186.0 59.3 L188.0 60.1 L192.0 61.3 L194.6 62.0 L198.0 62.7 L202.0 63.1 L206.0 63.1 L210.0 62.5 L212.2 62.0 L216.0 60.6 L218.0 59.7 L220.8 58.0 L223.7 56.0 L226.0 54.2 L228.0 52.5 L230.0 50.8 L232.0 49.0 L234.0 47.2 L236.0 45.5 L238.0 43.9 L240.5 42.0 L243.6 40.0 L246.0 38.7 L248.0 37.8 L252.0 36.6 L256.0 36.1 L260.0 36.1 L264.0 36.7 L268.0 37.7 L270.0 38.4 L274.0 40.0 L276.0 41.0 L278.0 42.0 L281.6 44.0 L284.0 45.5 L286.0 46.8 L288.0 48.2 L290.6 50.0 L293.3 52.0 L295.9 54.0 L298.0 55.6 L300.0 57.2 L302.0 58.8 L304.0 60.4 L306.0 62.0 L308.5 64.0 L311.1 66.0 L313.8 68.0 L316.0 69.5 L318.0 70.9 L320.0 72.1 L323.6 74.0 L326.0 75.0 L329.1 76.0 L332.0 76.6 L336.0 76.7 L340.0 76.0 L342.0 75.4 L345.6 74.0 L348.0 72.9 L350.0 72.0 L354.0 70.2 L356.0 69.4 L360.0 68.1 L362.0 67.7 L366.0 67.2 L370.0 67.1 L374.0 67.5 L377.1 68.0 L380.0 68.6 L384.0 69.5 L386.0 70.1 L390.0 71.2 L392.8 72.0 L396.0 72.9 L400.0 74.0 L402.0 74.5 L406.0 75.4 L409.2 76.0 L412.0 76.4 L416.0 76.7 L420.0 76.7 L424.0 76.3 L426.0 75.9 L430.0 74.7 L432.0 73.8 L435.4 72.0 L438.0 70.3 L440.0 68.8 L442.0 67.2 L444.0 65.4 L446.0 63.5 L448.0 61.6 L450.0 59.6 L452.0 57.6 L454.0 55.7 L456.0 53.8 L458.1 52.0 L460.6 50.0 L463.5 48.0 L466.0 46.6 L468.0 45.7 L472.0 44.3 L474.0 43.8 L478.0 43.3 L482.0 43.3 L486.0 43.7 M0.0 61.5 L2.8 60.0 L5.7 58.0 L8.0 56.2 L10.0 54.3 L12.0 52.2 L14.0 50.0 L15.7 48.0 L17.3 46.0 L18.9 44.0 L20.5 42.0 L22.1 40.0 L24.0 37.7 L26.0 35.5 L28.0 33.5 L30.0 31.7 L32.1 30.0 L35.2 28.0 L38.0 26.6 L40.0 25.9 L44.0 25.1 L48.0 24.9 L52.0 25.3 L55.2 26.0 L58.0 26.9 L60.9 28.0 L64.0 29.5 L66.0 30.6 L68.4 32.0 L71.4 34.0 L74.0 35.9 L76.0 37.5 L78.0 39.2 L80.0 41.0 L82.0 42.9 L84.0 44.9 L86.0 46.9 L88.0 49.1 L90.0 51.2 L92.0 53.4 L94.0 55.6 L96.0 57.8 L98.0 59.9 L100.0 61.9 L102.0 63.7 L104.0 65.3 L106.0 66.7 L108.4 68.0 L112.0 69.2 L116.0 69.0 L118.5 68.0 L121.3 66.0 L123.2 64.0 L124.8 62.0 L126.3 60.0 L128.0 57.5 L130.0 54.6 L132.0 52.1 L134.0 50.0 L136.0 48.5 L138.0 47.6 L142.0 46.8 L146.0 47.2 L149.3 48.0 L152.0 48.9 L154.8 50.0 L158.0 51.4 L160.0 52.3 L163.7 54.0 L166.0 55.1 L168.0 56.1 L172.0 57.9 L174.0 58.9 L176.5 60.0 L180.0 61.5 L182.0 62.3 L186.0 63.8 L188.0 64.5 L192.0 65.7 L194.0 66.2 L198.0 67.0 L202.0 67.5 L206.0 67.6 L210.0 67.3 L214.0 66.4 L216.0 65.7 L219.8 64.0 L222.0 62.7 L224.0 61.4 L226.0 59.9 L228.4 58.0 L230.7 56.0 L233.0 54.0 L235.2 52.0 L237.5 50.0 L240.0 48.0 L242.0 46.5 L244.0 45.2 L246.0 44.0 L250.0 42.2 L252.0 41.6 L256.0 40.8 L260.0 40.7 L264.0 41.2 L267.5 42.0 L270.0 42.8 L273.0 44.0 L276.0 45.4 L278.0 46.5 L280.7 48.0 L283.9 50.0 L286.0 51.5 L288.0 52.9 L290.0 54.4 L292.1 56.0 L294.6 58.0 L297.1 60.0 L299.4 62.0 L301.8 64.0 L304.0 65.9 L306.0 67.6 L308.0 69.3 L310.0 71.0 L312.0 72.7 L314.0 74.3 L316.3 76.0 L319.1 78.0 L322.0 79.9 L324.0 81.1 L326.0 82.1 L330.0 83.6 L332.0 84.1 L336.0 84.6 L340.0 84.2 L342.0 83.7 L346.0 82.3 L348.0 81.3 L350.6 80.0 L354.0 78.2 L356.0 77.2 L358.5 76.0 L362.0 74.6 L364.2 74.0 L368.0 73.2 L372.0 72.9 L376.0 73.0 L380.0 73.4 L383.4 74.0 L386.0 74.5 L390.0 75.4 L392.4 76.0 L396.0 76.9 L400.0 77.9 L402.0 78.4 L406.0 79.2 L410.0 79.9 L412.0 80.2 L416.0 80.6 L420.0 80.6 L424.0 80.3 L426.0 80.0 L430.0 79.0 L432.5 78.0 L436.0 76.3 L438.0 75.1 L440.0 73.7 L442.2 72.0 L444.6 70.0 L446.7 68.0 L448.8 66.0 L450.8 64.0 L452.8 62.0 L454.9 60.0 L457.0 58.0 L459.3 56.0 L461.8 54.0 L464.0 52.5 L466.0 51.3 L468.5 50.0 L472.0 48.6 L474.5 48.0 L478.0 47.5 L482.0 47.3 L486.0 47.7 M0.0 66.5 L2.0 65.7 L5.1 64.0 L8.0 62.1 L10.0 60.5 L12.0 58.6 L14.0 56.6 L16.0 54.4 L18.0 52.0 L19.6 50.0 L21.2 48.0 L22.9 46.0 L24.5 44.0 L26.3 42.0 L28.1 40.0 L30.2 38.0 L32.6 36.0 L35.5 34.0 L38.0 32.6 L40.0 31.8 L44.0 30.8 L48.0 30.6 L52.0 31.0 L55.9 32.0 L58.0 32.8 L60.7 34.0 L64.0 35.8 L66.0 37.1 L68.0 38.5 L70.0 40.0 L72.4 42.0 L74.6 44.0 L76.6 46.0 L78.6 48.0 L80.4 50.0 L82.2 52.0 L84.0 54.1 L86.0 56.5 L88.0 59.0 L90.0 61.5 L92.0 63.9 L93.7 66.0 L95.4 68.0 L97.2 70.0 L99.0 72.0 L101.0 74.0 L103.2 76.0 L105.6 78.0 L108.0 79.6 L110.0 80.7 L114.0 82.0 L116.0 82.2 L118.6 82.0 L122.0 80.9 L124.0 79.7 L126.1 78.0 L128.1 76.0 L130.0 73.8 L132.0 71.2 L134.0 68.6 L136.0 66.1 L137.8 64.0 L139.8 62.0 L142.0 60.3 L144.0 59.2 L147.6 58.0 L150.0 57.7 L154.0 57.8 L156.0 58.1 L160.0 59.0 L163.2 60.0 L166.0 60.9 L169.0 62.0 L172.0 63.1 L174.4 64.0 L178.0 65.4 L180.0 66.1 L184.0 67.5 L186.0 68.2 L190.0 69.4 L192.0 70.0 L196.0 71.0 L200.0 71.7 L203.2 72.0 L206.0 72.1 L209.2 72.0 L212.0 71.7 L216.0 70.7 L218.0 70.0 L222.0 68.1 L224.0 66.9 L226.0 65.6 L228.1 64.0 L230.6 62.0 L232.9 60.0 L235.2 58.0 L237.4 56.0 L239.8 54.0 L242.0 52.2 L244.0 50.8 L246.0 49.5 L248.8 48.0 L252.0 46.7 L254.7 46.0 L258.0 45.5 L262.0 45.6 L265.0 46.0 L268.0 46.7 L271.7 48.0 L274.0 49.0 L276.1 50.0 L279.7 52.0 L282.0 53.4 L284.0 54.8 L286.0 56.2 L288.5 58.0 L291.0 60.0 L293.4 62.0 L295.8 64.0 L298.0 65.9 L300.0 67.7 L302.0 69.5 L304.0 71.3 L306.0 73.2 L308.0 75.0 L310.0 76.8 L312.0 78.5 L314.0 80.2 L316.1 82.0 L318.7 84.0 L321.5 86.0 L324.0 87.6 L326.0 88.7 L328.6 90.0 L332.0 91.2 L336.0 92.0 L338.0 92.0 L340.0 91.9 L344.0 91.0 L346.6 90.0 L350.0 88.3 L352.0 87.2 L354.0 86.0 L357.5 84.0 L360.0 82.6 L362.0 81.6 L366.0 80.0 L368.0 79.4 L372.0 78.6 L376.0 78.3 L380.0 78.3 L384.0 78.7 L388.0 79.3 L391.8 80.0 L394.0 80.5 L398.0 81.3 L401.1 82.0 L404.0 82.6 L408.0 83.4 L412.0 84.0 L414.0 84.2 L418.0 84.5 L422.0 84.5 L426.0 84.0 L428.0 83.7 L432.0 82.5 L434.0 81.8 L437.6 80.0 L440.0 78.5 L442.0 77.1 L444.0 75.5 L446.0 73.8 L448.0 72.0 L450.1 70.0 L452.1 68.0 L454.1 66.0 L456.2 64.0 L458.3 62.0 L460.6 60.0 L463.1 58.0 L466.0 56.0 L468.0 54.9 L470.0 53.9 L474.0 52.5 L476.1 52.0 L480.0 51.5 L484.0 51.5 L488.0 52.0 M0.0 71.4 L4.0 70.0 L6.0 69.1 L8.0 67.9 L10.8 66.0 L13.1 64.0 L15.2 62.0 L17.1 60.0 L18.9 58.0 L20.6 56.0 L22.3 54.0 L24.0 51.9 L26.0 49.5 L28.0 47.3 L30.0 45.2 L32.0 43.3 L34.0 41.6 L36.4 40.0 L40.0 38.1 L42.0 37.4 L46.0 36.7 L50.0 36.8 L54.0 37.6 L56.0 38.2 L59.9 40.0 L62.0 41.2 L64.0 42.5 L66.1 44.0 L68.6 46.0 L70.8 48.0 L72.9 50.0 L74.8 52.0 L76.6 54.0 L78.4 56.0 L80.0 58.0 L82.0 60.4 L84.0 62.9 L86.0 65.5 L87.9 68.0 L89.5 70.0 L91.1 72.0 L92.7 74.0 L94.3 76.0 L96.0 78.0 L98.0 80.2 L100.0 82.2 L102.0 84.1 L104.2 86.0 L106.9 88.0 L110.0 89.9 L112.0 90.8 L116.0 91.9 L118.0 92.1 L120.0 92.0 L124.0 90.8 L126.0 89.8 L128.5 88.0 L130.7 86.0 L132.6 84.0 L134.4 82.0 L136.0 80.0 L138.0 77.6 L140.0 75.1 L142.0 72.9 L144.0 71.0 L146.0 69.4 L148.3 68.0 L152.0 66.5 L154.3 66.0 L158.0 65.7 L161.8 66.0 L164.0 66.3 L168.0 67.2 L171.1 68.0 L174.0 68.8 L177.9 70.0 L180.0 70.7 L184.0 71.9 L186.0 72.5 L190.0 73.7 L192.0 74.2 L196.0 75.2 L200.0 75.9 L202.0 76.2 L206.0 76.5 L210.0 76.5 L214.0 76.0 L216.0 75.6 L220.0 74.3 L222.0 73.4 L224.6 72.0 L227.8 70.0 L230.0 68.3 L232.0 66.7 L234.0 65.0 L236.0 63.3 L238.0 61.5 L240.0 59.8 L242.2 58.0 L244.9 56.0 L248.0 54.0 L250.0 52.9 L252.1 52.0 L256.0 50.9 L260.0 50.4 L264.0 50.6 L268.0 51.4 L270.0 52.0 L274.0 53.6 L276.0 54.6 L278.5 56.0 L281.8 58.0 L284.0 59.5 L286.0 61.0 L288.0 62.5 L290.0 64.1 L292.3 66.0 L294.6 68.0 L296.8 70.0 L299.0 72.0 L301.1 74.0 L303.2 76.0 L305.4 78.0 L307.5 80.0 L309.6 82.0 L311.7 84.0 L314.0 86.0 L316.0 87.8 L318.0 89.4 L320.0 91.0 L322.0 92.5 L324.2 94.0 L327.7 96.0 L330.0 97.1 L332.4 98.0 L336.0 98.9 L340.0 99.1 L344.0 98.4 L346.0 97.8 L350.0 96.0 L352.0 94.9 L354.0 93.6 L356.5 92.0 L359.7 90.0 L362.0 88.6 L364.0 87.5 L367.1 86.0 L370.0 84.9 L373.5 84.0 L376.0 83.6 L380.0 83.2 L384.0 83.3 L388.0 83.6 L390.8 84.0 L394.0 84.5 L398.0 85.2 L402.0 86.0 L404.0 86.4 L408.0 87.1 L412.0 87.7 L414.7 88.0 L418.0 88.3 L422.0 88.3 L426.0 88.0 L428.0 87.7 L432.0 86.8 L434.3 86.0 L438.0 84.3 L440.0 83.2 L442.0 81.9 L444.6 80.0 L447.0 78.0 L449.2 76.0 L451.3 74.0 L453.4 72.0 L455.4 70.0 L457.5 68.0 L459.6 66.0 L461.9 64.0 L464.0 62.3 L466.0 60.9 L468.0 59.7 L471.3 58.0 L474.0 57.0 L478.0 56.0 L480.0 55.8 L484.0 55.7 L487.0 56.0 M0.0 76.3 L2.0 75.9 L6.0 74.6 L8.0 73.7 L11.0 72.0 L13.8 70.0 L16.0 68.1 L18.0 66.2 L20.0 64.1 L21.9 62.0 L23.6 60.0 L25.3 58.0 L27.0 56.0 L28.8 54.0 L30.7 52.0 L32.8 50.0 L35.1 48.0 L38.0 46.0 L40.0 45.0 L42.5 44.0 L46.0 43.3 L50.0 43.3 L53.6 44.0 L56.0 44.8 L58.6 46.0 L62.0 48.0 L64.0 49.4 L66.0 51.0 L68.0 52.8 L70.0 54.7 L72.0 56.7 L74.0 58.9 L76.0 61.2 L78.0 63.6 L79.9 66.0 L81.5 68.0 L83.0 70.0 L84.6 72.0 L86.1 74.0 L88.0 76.4 L90.0 78.9 L92.0 81.4 L94.0 83.8 L96.0 86.0 L97.9 88.0 L99.9 90.0 L102.0 92.0 L104.0 93.6 L106.0 95.1 L108.0 96.5 L110.8 98.0 L114.0 99.3 L116.9 100.0 L120.0 100.2 L122.3 100.0 L126.0 98.9 L128.0 97.9 L130.7 96.0 L133.1 94.0 L135.1 92.0 L136.9 90.0 L138.6 88.0 L140.3 86.0 L142.0 84.0 L144.0 81.7 L146.0 79.7 L148.0 77.9 L150.5 76.0 L154.0 74.1 L156.0 73.4 L160.0 72.6 L164.0 72.4 L168.0 72.7 L172.0 73.3 L175.1 74.0 L178.0 74.7 L182.0 75.7 L184.0 76.3 L188.0 77.4 L190.5 78.0 L194.0 78.9 L198.0 79.7 L200.0 80.1 L204.0 80.6 L208.0 80.9 L212.0 80.9 L216.0 80.3 L218.0 79.9 L222.0 78.6 L224.0 77.7 L227.2 76.0 L230.0 74.2 L232.0 72.7 L234.0 71.1 L236.0 69.4 L238.0 67.7 L240.0 65.9 L242.3 64.0 L244.8 62.0 L247.7 60.0 L250.0 58.6 L252.0 57.6 L256.0 56.2 L258.0 55.8 L262.0 55.5 L266.0 55.9 L268.0 56.3 L272.0 57.6 L274.0 58.4 L277.2 60.0 L280.0 61.7 L282.0 62.9 L284.0 64.3 L286.2 66.0 L288.7 68.0 L291.1 70.0 L293.4 72.0 L295.6 74.0 L297.7 76.0 L299.8 78.0 L301.9 80.0 L303.9 82.0 L306.0 84.0 L308.0 86.0 L310.0 87.9 L312.0 89.8 L314.0 91.7 L316.0 93.5 L318.0 95.2 L320.0 96.9 L322.0 98.4 L324.2 100.0 L327.5 102.0 L330.0 103.3 L332.0 104.2 L336.0 105.4 L340.0 105.8 L344.0 105.4 L348.0 104.2 L350.0 103.3 L352.3 102.0 L355.5 100.0 L358.0 98.3 L360.0 96.9 L362.0 95.5 L364.3 94.0 L367.8 92.0 L370.0 90.9 L372.4 90.0 L376.0 88.9 L380.0 88.2 L382.3 88.0 L386.0 87.9 L388.1 88.0 L392.0 88.3 L396.0 88.8 L400.0 89.5 L403.2 90.0 L406.0 90.5 L410.0 91.1 L414.0 91.6 L418.0 92.0 L420.0 92.1 L424.0 92.1 L426.0 92.0 L430.0 91.4 L434.0 90.4 L436.0 89.7 L439.7 88.0 L442.0 86.7 L444.0 85.4 L446.0 83.9 L448.3 82.0 L450.5 80.0 L452.7 78.0 L454.7 76.0 L456.8 74.0 L458.9 72.0 L461.0 70.0 L463.4 68.0 L465.9 66.0 L468.0 64.6 L470.0 63.4 L473.0 62.0 L476.0 61.0 L480.0 60.2 L482.5 60.0 L484.2 60.0 L488.0 60.3 M0.0 81.1 L4.0 80.6 L6.2 80.0 L10.0 78.6 L12.0 77.6 L14.6 76.0 L17.3 74.0 L19.6 72.0 L21.6 70.0 L23.5 68.0 L25.3 66.0 L27.1 64.0 L28.9 62.0 L30.7 60.0 L32.7 58.0 L34.9 56.0 L37.4 54.0 L40.0 52.4 L42.0 51.4 L46.0 50.3 L50.0 50.2 L54.0 51.1 L56.4 52.0 L60.0 53.9 L62.0 55.2 L64.0 56.7 L66.0 58.4 L68.0 60.3 L70.0 62.3 L72.0 64.4 L74.0 66.7 L76.0 69.1 L78.0 71.5 L80.0 74.0 L81.6 76.0 L83.1 78.0 L84.7 80.0 L86.3 82.0 L88.0 84.1 L90.0 86.5 L92.0 88.9 L94.0 91.1 L96.0 93.3 L98.0 95.3 L100.0 97.2 L102.0 98.9 L104.0 100.5 L106.0 102.0 L109.3 104.0 L112.0 105.4 L114.0 106.2 L118.0 107.1 L122.0 107.3 L126.0 106.5 L128.0 105.8 L131.2 104.0 L133.9 102.0 L136.0 100.1 L138.0 98.1 L139.9 96.0 L141.6 94.0 L143.4 92.0 L145.1 90.0 L147.0 88.0 L149.0 86.0 L151.2 84.0 L153.9 82.0 L156.0 80.8 L158.0 79.9 L162.0 78.7 L166.0 78.2 L170.0 78.2 L174.0 78.6 L178.0 79.3 L181.3 80.0 L184.0 80.6 L188.0 81.6 L190.0 82.0 L194.0 83.0 L198.0 83.8 L200.0 84.2 L204.0 84.8 L208.0 85.2 L212.0 85.3 L216.0 85.0 L220.0 84.3 L222.0 83.7 L226.0 82.1 L228.0 81.1 L230.0 79.9 L232.8 78.0 L235.4 76.0 L237.8 74.0 L240.0 72.2 L242.0 70.5 L244.0 68.8 L246.0 67.2 L248.0 65.8 L250.9 64.0 L254.0 62.5 L256.0 61.8 L260.0 60.9 L264.0 60.8 L268.0 61.3 L270.4 62.0 L274.0 63.4 L276.0 64.3 L279.0 66.0 L282.0 67.9 L284.0 69.3 L286.0 70.8 L288.0 72.4 L290.0 74.1 L292.2 76.0 L294.4 78.0 L296.5 80.0 L298.6 82.0 L300.6 84.0 L302.6 86.0 L304.6 88.0 L306.6 90.0 L308.6 92.0 L310.6 94.0 L312.7 96.0 L314.8 98.0 L317.1 100.0 L319.4 102.0 L321.9 104.0 L324.0 105.6 L326.0 106.9 L328.0 108.2 L331.6 110.0 L334.0 111.0 L338.0 112.0 L340.0 112.2 L343.9 112.0 L346.0 111.6 L350.0 110.2 L352.0 109.1 L354.0 108.0 L356.9 106.0 L359.7 104.0 L362.0 102.3 L364.0 100.8 L366.0 99.4 L368.3 98.0 L371.9 96.0 L374.0 95.1 L377.0 94.0 L380.0 93.2 L384.0 92.6 L388.0 92.4 L392.0 92.5 L396.0 92.8 L400.0 93.3 L404.0 93.9 L406.0 94.2 L410.0 94.8 L414.0 95.3 L418.0 95.7 L422.0 95.9 L426.0 95.8 L430.0 95.5 L434.0 94.6 L436.1 94.0 L440.0 92.4 L442.0 91.4 L444.3 90.0 L447.1 88.0 L449.6 86.0 L451.9 84.0 L454.0 82.1 L456.0 80.2 L458.0 78.2 L460.0 76.3 L462.0 74.5 L464.0 72.7 L466.0 71.1 L468.0 69.7 L470.7 68.0 L474.0 66.4 L476.0 65.6 L480.0 64.7 L484.0 64.4 L488.0 64.7 M0.0 85.9 L4.0 85.7 L8.0 85.1 L11.5 84.0 L14.0 82.9 L16.0 81.8 L18.8 80.0 L21.3 78.0 L23.5 76.0 L25.5 74.0 L27.4 72.0 L29.3 70.0 L31.2 68.0 L33.2 66.0 L35.3 64.0 L37.7 62.0 L40.0 60.4 L42.0 59.4 L46.0 58.0 L48.0 57.8 L51.6 58.0 L54.0 58.5 L57.5 60.0 L60.0 61.4 L62.0 62.8 L64.0 64.3 L66.0 66.0 L68.1 68.0 L70.0 70.0 L72.0 72.1 L74.0 74.4 L76.0 76.8 L78.0 79.2 L80.0 81.6 L81.9 84.0 L83.6 86.0 L85.2 88.0 L86.9 90.0 L88.6 92.0 L90.4 94.0 L92.2 96.0 L94.1 98.0 L96.1 100.0 L98.2 102.0 L100.5 104.0 L103.0 106.0 L105.7 108.0 L108.0 109.4 L110.0 110.6 L113.2 112.0 L116.0 112.9 L120.0 113.7 L124.0 113.6 L128.0 112.7 L130.0 111.9 L133.3 110.0 L135.9 108.0 L138.0 106.2 L140.0 104.2 L142.0 102.0 L143.8 100.0 L145.6 98.0 L147.4 96.0 L149.2 94.0 L151.2 92.0 L153.4 90.0 L156.0 88.0 L158.0 86.8 L160.0 85.8 L164.0 84.3 L166.0 83.9 L170.0 83.5 L174.0 83.5 L178.0 83.9 L180.0 84.2 L184.0 84.9 L188.0 85.7 L190.0 86.2 L194.0 87.0 L198.0 87.9 L200.0 88.3 L204.0 89.0 L208.0 89.5 L212.0 89.7 L216.0 89.6 L220.0 89.1 L224.0 88.1 L226.0 87.4 L229.2 86.0 L232.0 84.4 L234.0 83.1 L236.0 81.7 L238.1 80.0 L240.6 78.0 L243.0 76.0 L245.5 74.0 L248.0 72.1 L250.0 70.7 L252.0 69.5 L255.0 68.0 L258.0 66.9 L262.0 66.2 L266.0 66.3 L270.0 67.1 L272.8 68.0 L276.0 69.4 L278.0 70.4 L280.6 72.0 L283.5 74.0 L286.0 75.9 L288.0 77.5 L290.0 79.2 L292.0 81.0 L294.0 82.8 L296.0 84.7 L298.0 86.7 L300.0 88.6 L302.0 90.7 L304.0 92.7 L306.0 94.7 L308.0 96.8 L310.0 98.8 L312.0 100.7 L314.0 102.6 L316.0 104.5 L318.0 106.3 L320.0 108.0 L322.5 110.0 L325.3 112.0 L328.0 113.8 L330.0 114.9 L332.2 116.0 L336.0 117.4 L338.8 118.0 L342.0 118.3 L345.3 118.0 L348.0 117.4 L351.5 116.0 L354.0 114.7 L356.0 113.4 L358.0 112.0 L360.7 110.0 L363.2 108.0 L365.8 106.0 L368.0 104.4 L370.0 103.0 L372.0 101.8 L375.4 100.0 L378.0 98.9 L380.9 98.0 L384.0 97.3 L388.0 96.8 L392.0 96.7 L396.0 96.8 L400.0 97.1 L404.0 97.6 L406.8 98.0 L410.0 98.4 L414.0 99.0 L418.0 99.4 L422.0 99.6 L426.0 99.7 L430.0 99.4 L434.0 98.8 L437.0 98.0 L440.0 96.9 L442.0 96.0 L445.6 94.0 L448.0 92.4 L450.0 90.9 L452.0 89.2 L454.0 87.4 L456.0 85.6 L458.0 83.7 L460.0 81.8 L462.0 79.9 L464.1 78.0 L466.5 76.0 L469.3 74.0 L472.0 72.3 L474.0 71.3 L477.4 70.0 L480.0 69.3 L484.0 68.9 L488.0 69.1 M0.0 90.6 L4.0 90.8 L8.0 90.6 L11.5 90.0 L14.0 89.3 L17.2 88.0 L20.0 86.5 L22.0 85.2 L24.0 83.6 L26.0 81.9 L28.1 80.0 L30.2 78.0 L32.2 76.0 L34.2 74.0 L36.4 72.0 L39.0 70.0 L42.0 68.0 L44.0 67.1 L48.0 66.1 L50.0 66.0 L52.0 66.1 L56.0 67.2 L58.0 68.2 L61.0 70.0 L63.8 72.0 L66.0 73.9 L68.0 75.8 L70.0 77.8 L72.0 79.9 L73.9 82.0 L75.7 84.0 L77.4 86.0 L79.2 88.0 L80.9 90.0 L82.6 92.0 L84.4 94.0 L86.1 96.0 L88.0 98.1 L90.0 100.2 L92.0 102.3 L94.0 104.2 L96.0 106.1 L98.1 108.0 L100.5 110.0 L103.1 112.0 L106.0 114.0 L108.0 115.2 L110.0 116.2 L114.0 118.0 L116.0 118.6 L120.0 119.5 L124.0 119.6 L128.0 118.9 L130.6 118.0 L134.0 116.3 L136.0 114.9 L138.0 113.4 L140.0 111.6 L142.0 109.6 L144.0 107.5 L146.0 105.3 L148.0 103.0 L150.0 100.8 L152.0 98.7 L154.0 96.8 L156.0 95.0 L158.0 93.5 L160.4 92.0 L164.0 90.2 L166.0 89.6 L170.0 88.7 L174.0 88.4 L178.0 88.5 L182.0 88.9 L186.0 89.5 L188.7 90.0 L192.0 90.7 L196.0 91.5 L198.4 92.0 L202.0 92.7 L206.0 93.4 L210.0 93.9 L212.0 94.0 L216.0 94.1 L218.9 94.0 L222.0 93.6 L226.0 92.7 L228.0 92.0 L232.0 90.2 L234.0 89.1 L236.0 87.8 L238.5 86.0 L241.1 84.0 L243.6 82.0 L246.0 80.1 L248.0 78.6 L250.0 77.1 L252.0 75.8 L255.3 74.0 L258.0 72.9 L261.9 72.0 L264.0 71.8 L267.3 72.0 L270.0 72.5 L274.0 73.8 L276.0 74.7 L278.5 76.0 L281.8 78.0 L284.0 79.6 L286.0 81.1 L288.0 82.7 L290.0 84.4 L292.0 86.2 L294.0 88.0 L296.0 90.0 L298.1 92.0 L300.1 94.0 L302.0 96.0 L304.0 98.0 L306.0 100.0 L308.0 102.1 L310.0 104.1 L312.0 106.0 L314.0 108.0 L316.2 110.0 L318.4 112.0 L320.8 114.0 L323.4 116.0 L326.0 117.9 L328.0 119.2 L330.0 120.3 L333.5 122.0 L336.0 122.9 L340.0 123.9 L342.0 124.1 L344.7 124.0 L348.0 123.5 L352.0 122.1 L354.0 121.0 L356.0 119.9 L358.7 118.0 L361.3 116.0 L363.8 114.0 L366.0 112.2 L368.0 110.6 L370.0 109.1 L372.0 107.7 L374.6 106.0 L378.0 104.2 L380.0 103.3 L384.0 102.0 L386.0 101.6 L390.0 101.0 L394.0 100.8 L398.0 100.9 L402.0 101.2 L406.0 101.6 L409.2 102.0 L412.0 102.3 L416.0 102.8 L420.0 103.2 L424.0 103.5 L428.0 103.5 L432.0 103.2 L436.0 102.5 L438.0 102.0 L442.0 100.6 L444.0 99.7 L447.0 98.0 L450.0 96.0 L452.0 94.5 L454.0 92.8 L456.0 91.0 L458.0 89.2 L460.0 87.3 L462.0 85.4 L464.0 83.6 L466.0 81.9 L468.3 80.0 L471.2 78.0 L474.0 76.4 L476.0 75.4 L480.0 74.1 L482.0 73.8 L486.0 73.5 M0.0 95.3 L4.0 95.8 L6.2 96.0 L10.0 96.0 L12.0 95.9 L16.0 95.2 L19.6 94.0 L22.0 92.9 L24.0 91.7 L26.6 90.0 L29.1 88.0 L31.5 86.0 L33.7 84.0 L35.9 82.0 L38.0 80.3 L40.0 78.7 L42.0 77.4 L44.9 76.0 L48.0 75.0 L52.0 74.8 L56.0 75.7 L58.0 76.6 L60.6 78.0 L63.5 80.0 L66.0 81.9 L68.0 83.7 L70.0 85.6 L72.0 87.6 L74.0 89.7 L76.0 91.8 L78.0 93.9 L79.9 96.0 L81.8 98.0 L83.7 100.0 L85.6 102.0 L87.5 104.0 L89.5 106.0 L91.6 108.0 L93.7 110.0 L96.0 112.0 L98.0 113.7 L100.0 115.2 L102.0 116.7 L104.0 118.1 L107.1 120.0 L110.0 121.6 L112.0 122.5 L116.0 123.9 L118.0 124.5 L122.0 125.0 L126.0 125.0 L130.0 124.1 L132.0 123.4 L134.8 122.0 L137.9 120.0 L140.0 118.3 L142.0 116.5 L144.0 114.5 L146.0 112.4 L148.0 110.2 L150.0 108.0 L151.8 106.0 L153.8 104.0 L155.8 102.0 L158.0 100.1 L160.0 98.5 L162.0 97.2 L164.2 96.0 L168.0 94.4 L170.0 93.9 L174.0 93.2 L178.0 93.0 L182.0 93.2 L186.0 93.7 L188.1 94.0 L192.0 94.7 L196.0 95.5 L198.5 96.0 L202.0 96.7 L206.0 97.5 L209.5 98.0 L212.0 98.3 L216.0 98.6 L220.0 98.6 L224.0 98.2 L226.0 97.8 L230.0 96.7 L232.0 95.9 L235.8 94.0 L238.0 92.7 L240.0 91.3 L242.0 89.9 L244.5 88.0 L247.1 86.0 L249.7 84.0 L252.0 82.4 L254.0 81.2 L256.2 80.0 L260.0 78.5 L262.4 78.0 L266.0 77.7 L269.0 78.0 L272.0 78.7 L275.6 80.0 L278.0 81.1 L280.0 82.3 L282.7 84.0 L285.4 86.0 L288.0 88.0 L290.0 89.7 L292.0 91.5 L294.0 93.4 L296.0 95.3 L298.0 97.2 L300.0 99.2 L302.0 101.3 L304.0 103.3 L306.0 105.3 L308.0 107.3 L310.0 109.3 L312.0 111.3 L314.0 113.2 L316.0 115.1 L318.0 116.8 L320.0 118.5 L322.0 120.2 L324.5 122.0 L327.4 124.0 L330.0 125.6 L332.0 126.6 L335.3 128.0 L338.0 128.9 L342.0 129.6 L346.0 129.5 L350.0 128.7 L352.1 128.0 L356.0 126.0 L358.0 124.7 L360.0 123.3 L362.0 121.8 L364.1 120.0 L366.5 118.0 L368.9 116.0 L371.4 114.0 L374.0 112.0 L376.0 110.7 L378.0 109.5 L381.1 108.0 L384.0 106.8 L386.9 106.0 L390.0 105.4 L394.0 104.9 L398.0 104.8 L402.0 105.0 L406.0 105.3 L410.0 105.7 L412.1 106.0 L416.0 106.5 L420.0 106.9 L424.0 107.2 L428.0 107.3 L432.0 107.1 L436.0 106.7 L439.1 106.0 L442.0 105.1 L444.7 104.0 L448.0 102.3 L450.0 101.1 L452.0 99.7 L454.2 98.0 L456.6 96.0 L458.9 94.0 L461.0 92.0 L463.2 90.0 L465.4 88.0 L467.8 86.0 L470.0 84.3 L472.0 82.9 L474.0 81.6 L477.4 80.0 L480.0 79.1 L484.0 78.4 L488.0 78.3 M0.0 100.0 L2.0 100.4 L6.0 101.2 L10.0 101.6 L14.0 101.7 L18.0 101.4 L22.0 100.4 L24.0 99.7 L27.4 98.0 L30.0 96.4 L32.0 95.0 L34.0 93.5 L36.0 91.9 L38.5 90.0 L41.3 88.0 L44.0 86.3 L46.0 85.4 L50.0 84.3 L54.0 84.3 L58.0 85.4 L60.0 86.3 L62.9 88.0 L65.8 90.0 L68.0 91.8 L70.0 93.5 L72.0 95.3 L74.0 97.2 L76.0 99.1 L78.0 101.0 L80.0 103.0 L82.0 105.0 L84.0 106.9 L86.0 108.8 L88.0 110.7 L90.0 112.5 L92.0 114.3 L94.0 116.0 L96.5 118.0 L99.2 120.0 L102.0 122.0 L104.0 123.3 L106.0 124.5 L108.8 126.0 L112.0 127.5 L114.0 128.3 L118.0 129.5 L120.8 130.0 L124.0 130.3 L127.9 130.0 L130.0 129.6 L134.0 128.2 L136.0 127.2 L138.0 126.0 L140.7 124.0 L143.0 122.0 L145.1 120.0 L147.0 118.0 L148.9 116.0 L150.7 114.0 L152.6 112.0 L154.4 110.0 L156.4 108.0 L158.6 106.0 L161.0 104.0 L163.8 102.0 L166.0 100.8 L168.0 99.8 L172.0 98.5 L174.4 98.0 L178.0 97.6 L182.0 97.6 L186.0 97.9 L188.0 98.1 L192.0 98.7 L196.0 99.5 L198.6 100.0 L202.0 100.7 L206.0 101.5 L208.7 102.0 L212.0 102.5 L216.0 103.0 L220.0 103.2 L224.0 103.1 L228.0 102.6 L230.4 102.0 L234.0 100.8 L236.0 99.9 L239.6 98.0 L242.0 96.5 L244.0 95.1 L246.0 93.7 L248.3 92.0 L251.0 90.0 L254.0 88.0 L256.0 86.9 L258.0 85.9 L262.0 84.5 L264.7 84.0 L268.0 83.9 L270.0 84.1 L274.0 85.1 L276.2 86.0 L280.0 87.9 L282.0 89.1 L284.0 90.5 L286.1 92.0 L288.6 94.0 L290.9 96.0 L293.1 98.0 L295.3 100.0 L297.4 102.0 L299.4 104.0 L301.4 106.0 L303.4 108.0 L305.4 110.0 L307.4 112.0 L309.4 114.0 L311.5 116.0 L313.6 118.0 L315.8 120.0 L318.0 122.0 L320.0 123.6 L322.0 125.2 L324.0 126.7 L326.0 128.1 L329.0 130.0 L332.0 131.7 L334.0 132.6 L337.9 134.0 L340.0 134.5 L344.0 135.0 L348.0 134.7 L351.1 134.0 L354.0 132.9 L356.0 131.9 L359.1 130.0 L361.8 128.0 L364.0 126.2 L366.0 124.5 L368.0 122.8 L370.0 121.0 L372.0 119.3 L374.0 117.7 L376.3 116.0 L379.4 114.0 L382.0 112.6 L384.0 111.7 L388.0 110.3 L390.0 109.8 L394.0 109.1 L398.0 108.8 L402.0 108.8 L406.0 109.0 L410.0 109.4 L414.0 109.8 L416.0 110.1 L420.0 110.5 L424.0 110.9 L428.0 111.1 L432.0 111.1 L436.0 110.8 L440.0 110.1 L442.0 109.6 L446.0 108.1 L448.0 107.2 L450.2 106.0 L453.3 104.0 L456.0 102.0 L458.0 100.4 L460.0 98.6 L462.0 96.8 L464.0 95.0 L466.0 93.2 L468.0 91.5 L470.0 89.9 L472.7 88.0 L476.0 86.0 L478.0 85.1 L481.1 84.0 L484.0 83.4 L488.0 83.2 M0.0 104.6 L4.0 105.7 L6.0 106.3 L10.0 107.2 L14.0 107.8 L17.3 108.0 L19.0 108.0 L22.0 107.8 L26.0 107.0 L28.7 106.0 L32.0 104.5 L34.0 103.3 L36.1 102.0 L39.1 100.0 L42.0 98.1 L44.0 96.9 L46.0 95.8 L50.0 94.4 L54.0 94.1 L58.0 94.7 L61.5 96.0 L64.0 97.3 L66.0 98.5 L68.1 100.0 L70.8 102.0 L73.3 104.0 L75.6 106.0 L78.0 108.0 L80.0 109.8 L82.0 111.5 L84.0 113.3 L86.0 115.0 L88.0 116.7 L90.0 118.3 L92.1 120.0 L94.7 122.0 L97.4 124.0 L100.0 125.8 L102.0 127.1 L104.0 128.3 L107.1 130.0 L110.0 131.4 L112.0 132.3 L116.0 133.7 L118.0 134.3 L122.0 135.0 L126.0 135.2 L130.0 134.7 L132.7 134.0 L136.0 132.7 L138.0 131.6 L140.5 130.0 L143.0 128.0 L145.3 126.0 L147.4 124.0 L149.3 122.0 L151.1 120.0 L153.0 118.0 L154.8 116.0 L156.8 114.0 L158.8 112.0 L161.0 110.0 L163.5 108.0 L166.0 106.3 L168.0 105.2 L170.6 104.0 L174.0 102.9 L178.0 102.2 L180.0 102.0 L184.0 101.9 L186.0 102.0 L190.0 102.4 L194.0 103.1 L198.0 103.8 L200.0 104.2 L204.0 105.1 L208.0 105.9 L210.0 106.3 L214.0 107.0 L218.0 107.6 L222.0 107.9 L226.0 107.9 L230.0 107.5 L234.0 106.6 L236.0 105.9 L240.0 104.2 L242.0 103.1 L244.0 101.9 L246.9 100.0 L249.8 98.0 L252.0 96.5 L254.0 95.2 L256.0 94.0 L259.9 92.0 L262.0 91.2 L266.0 90.4 L270.0 90.4 L274.0 91.2 L276.2 92.0 L280.0 93.8 L282.0 94.9 L284.0 96.2 L286.5 98.0 L289.0 100.0 L291.4 102.0 L293.6 104.0 L295.8 106.0 L297.9 108.0 L300.0 110.0 L302.0 112.0 L304.0 113.9 L306.0 115.9 L308.0 117.8 L310.0 119.8 L312.0 121.6 L314.0 123.5 L316.0 125.3 L318.0 127.0 L320.0 128.6 L322.0 130.2 L324.5 132.0 L327.5 134.0 L330.0 135.5 L332.0 136.6 L335.2 138.0 L338.0 139.0 L342.0 139.9 L344.0 140.1 L348.0 140.0 L350.0 139.7 L354.0 138.5 L356.0 137.6 L358.8 136.0 L361.7 134.0 L364.0 132.2 L366.0 130.5 L368.0 128.7 L370.0 126.9 L372.0 125.1 L374.0 123.4 L376.0 121.8 L378.4 120.0 L381.4 118.0 L384.0 116.6 L386.0 115.6 L390.0 114.2 L392.0 113.7 L396.0 113.0 L400.0 112.7 L404.0 112.7 L408.0 112.9 L412.0 113.3 L416.0 113.7 L418.6 114.0 L422.0 114.4 L426.0 114.7 L430.0 115.0 L434.0 115.0 L438.0 114.7 L441.9 114.0 L444.0 113.5 L448.0 112.1 L450.0 111.1 L452.1 110.0 L455.3 108.0 L458.0 106.0 L460.0 104.4 L462.0 102.7 L464.0 100.9 L466.0 99.1 L468.0 97.4 L470.0 95.8 L472.3 94.0 L475.3 92.0 L478.0 90.5 L480.0 89.7 L484.0 88.6 L488.0 88.3 M0.0 109.2 L2.2 110.0 L6.0 111.3 L8.1 112.0 L12.0 113.2 L15.4 114.0 L18.0 114.5 L22.0 114.9 L26.0 114.9 L30.0 114.2 L32.0 113.7 L36.0 112.1 L38.0 111.1 L40.0 110.0 L43.6 108.0 L46.0 106.7 L48.0 105.8 L52.0 104.6 L56.0 104.2 L60.0 104.7 L63.8 106.0 L66.0 107.0 L68.0 108.1 L71.0 110.0 L74.0 112.0 L76.0 113.4 L78.0 114.9 L80.0 116.4 L82.0 118.0 L84.6 120.0 L87.3 122.0 L90.0 124.0 L92.0 125.4 L94.0 126.8 L96.0 128.2 L98.7 130.0 L102.0 132.0 L104.0 133.1 L106.0 134.2 L109.8 136.0 L112.0 136.9 L115.0 138.0 L118.0 138.9 L122.0 139.6 L126.0 139.9 L130.0 139.6 L134.0 138.6 L136.0 137.9 L139.7 136.0 L142.0 134.5 L144.0 133.0 L146.0 131.3 L148.0 129.4 L150.0 127.4 L152.0 125.3 L154.0 123.1 L156.0 120.9 L158.0 118.9 L160.0 116.9 L162.0 115.0 L164.0 113.3 L166.0 111.8 L168.9 110.0 L172.0 108.5 L174.0 107.8 L178.0 106.7 L182.0 106.3 L186.0 106.2 L190.0 106.5 L194.0 107.0 L198.0 107.8 L200.0 108.2 L204.0 109.1 L208.0 110.0 L210.0 110.4 L214.0 111.3 L218.0 112.0 L220.0 112.3 L224.0 112.7 L228.0 112.8 L232.0 112.6 L235.3 112.0 L238.0 111.3 L241.4 110.0 L244.0 108.8 L246.0 107.7 L248.8 106.0 L251.9 104.0 L254.0 102.6 L256.0 101.4 L258.5 100.0 L262.0 98.4 L264.0 97.8 L268.0 97.1 L272.0 97.3 L275.2 98.0 L278.0 99.0 L280.2 100.0 L283.6 102.0 L286.0 103.6 L288.0 105.0 L290.0 106.6 L292.0 108.3 L294.0 110.0 L296.2 112.0 L298.4 114.0 L300.5 116.0 L302.6 118.0 L304.7 120.0 L306.9 122.0 L309.0 124.0 L311.2 126.0 L313.4 128.0 L315.7 130.0 L318.0 131.9 L320.0 133.5 L322.0 135.1 L324.0 136.5 L326.2 138.0 L329.5 140.0 L332.0 141.3 L334.0 142.3 L338.0 143.8 L340.0 144.3 L344.0 145.0 L348.0 145.1 L352.0 144.4 L354.0 143.8 L358.0 142.0 L360.0 140.8 L362.0 139.4 L364.0 137.9 L366.3 136.0 L368.6 134.0 L370.8 132.0 L372.9 130.0 L375.2 128.0 L377.6 126.0 L380.0 124.1 L382.0 122.7 L384.0 121.5 L386.9 120.0 L390.0 118.7 L392.2 118.0 L396.0 117.1 L400.0 116.7 L404.0 116.5 L408.0 116.6 L412.0 116.9 L416.0 117.3 L420.0 117.8 L422.0 118.0 L426.0 118.4 L430.0 118.8 L434.0 118.9 L438.0 118.8 L442.0 118.3 L444.0 118.0 L448.0 116.9 L450.2 116.0 L454.0 114.2 L456.0 113.0 L458.0 111.6 L460.2 110.0 L462.7 108.0 L465.0 106.0 L467.4 104.0 L469.8 102.0 L472.0 100.2 L474.0 98.7 L476.0 97.4 L478.6 96.0 L482.0 94.6 L484.3 94.0 L488.0 93.5 M0.0 113.8 L2.0 114.6 L5.2 116.0 L8.0 117.2 L10.1 118.0 L14.0 119.5 L16.0 120.2 L20.0 121.4 L22.9 122.0 L26.0 122.5 L30.0 122.6 L34.0 122.2 L36.0 121.7 L40.0 120.4 L42.0 119.6 L45.4 118.0 L48.0 116.8 L50.0 116.0 L54.0 114.8 L58.0 114.3 L62.0 114.6 L66.0 115.7 L68.0 116.4 L71.4 118.0 L74.0 119.4 L76.0 120.5 L78.4 122.0 L81.5 124.0 L84.0 125.6 L86.0 126.9 L88.0 128.2 L90.7 130.0 L93.9 132.0 L96.0 133.3 L98.0 134.5 L100.6 136.0 L104.0 137.8 L106.0 138.8 L108.6 140.0 L112.0 141.4 L114.0 142.1 L118.0 143.3 L121.6 144.0 L124.0 144.3 L128.0 144.4 L131.7 144.0 L134.0 143.5 L138.0 142.0 L140.0 141.0 L142.0 139.8 L144.6 138.0 L147.0 136.0 L149.2 134.0 L151.2 132.0 L153.2 130.0 L155.0 128.0 L156.9 126.0 L158.8 124.0 L160.8 122.0 L162.9 120.0 L165.2 118.0 L167.8 116.0 L170.0 114.6 L172.0 113.5 L175.7 112.0 L178.0 111.3 L182.0 110.6 L186.0 110.4 L190.0 110.6 L194.0 111.0 L198.0 111.7 L200.0 112.1 L204.0 113.0 L208.0 114.0 L210.0 114.5 L214.0 115.5 L216.4 116.0 L220.0 116.8 L224.0 117.4 L228.0 117.9 L232.0 118.0 L236.0 117.7 L240.0 116.9 L242.9 116.0 L246.0 114.7 L248.0 113.8 L251.2 112.0 L254.0 110.3 L256.0 109.1 L258.0 108.0 L262.0 106.0 L264.0 105.3 L268.0 104.4 L272.0 104.2 L276.0 104.9 L279.0 106.0 L282.0 107.4 L284.0 108.5 L286.4 110.0 L289.2 112.0 L291.8 114.0 L294.0 115.8 L296.0 117.5 L298.0 119.3 L300.0 121.1 L302.0 122.9 L304.0 124.7 L306.0 126.5 L308.0 128.3 L310.0 130.1 L312.2 132.0 L314.5 134.0 L317.0 136.0 L319.5 138.0 L322.0 139.9 L324.0 141.2 L326.0 142.6 L328.4 144.0 L332.0 146.0 L334.0 146.9 L336.8 148.0 L340.0 149.0 L344.0 149.8 L348.0 149.9 L352.0 149.4 L356.0 148.2 L358.0 147.3 L360.4 146.0 L363.3 144.0 L365.9 142.0 L368.0 140.2 L370.0 138.4 L372.0 136.5 L374.0 134.7 L376.0 132.8 L378.0 131.1 L380.0 129.4 L382.0 127.9 L384.8 126.0 L388.0 124.2 L390.0 123.3 L393.5 122.0 L396.0 121.3 L400.0 120.6 L404.0 120.3 L408.0 120.3 L412.0 120.6 L416.0 120.9 L420.0 121.4 L424.0 121.9 L426.0 122.1 L430.0 122.6 L434.0 122.8 L438.0 122.9 L442.0 122.7 L446.0 122.1 L448.0 121.6 L452.0 120.3 L454.0 119.4 L456.7 118.0 L459.9 116.0 L462.0 114.5 L464.0 112.9 L466.0 111.3 L468.0 109.7 L470.0 108.0 L472.6 106.0 L475.3 104.0 L478.0 102.3 L480.0 101.3 L483.2 100.0 L486.0 99.3 M0.0 118.4 L3.4 120.0 L6.0 121.3 L8.0 122.3 L11.5 124.0 L14.0 125.2 L16.0 126.1 L20.0 127.8 L22.0 128.5 L26.0 129.8 L28.0 130.3 L32.0 130.9 L36.0 130.9 L40.0 130.4 L42.0 129.9 L46.0 128.5 L48.0 127.7 L52.0 126.1 L54.0 125.4 L58.0 124.4 L62.0 124.0 L66.0 124.4 L70.0 125.3 L72.0 126.0 L76.0 127.6 L78.0 128.6 L80.8 130.0 L84.0 131.7 L86.0 132.8 L88.2 134.0 L91.8 136.0 L94.0 137.2 L96.0 138.3 L99.2 140.0 L102.0 141.4 L104.0 142.4 L107.6 144.0 L110.0 145.0 L112.8 146.0 L116.0 147.0 L119.9 148.0 L122.0 148.4 L126.0 148.8 L130.0 148.7 L134.0 148.1 L136.0 147.6 L140.0 146.0 L142.0 145.0 L144.0 143.7 L146.4 142.0 L148.8 140.0 L150.9 138.0 L152.9 136.0 L154.9 134.0 L156.8 132.0 L158.6 130.0 L160.5 128.0 L162.5 126.0 L164.7 124.0 L167.0 122.0 L169.7 120.0 L172.0 118.6 L174.0 117.5 L177.9 116.0 L180.0 115.4 L184.0 114.8 L188.0 114.6 L192.0 114.8 L196.0 115.3 L199.7 116.0 L202.0 116.5 L206.0 117.5 L208.0 118.0 L212.0 119.1 L215.4 120.0 L218.0 120.7 L222.0 121.7 L224.0 122.1 L228.0 122.8 L232.0 123.3 L236.0 123.4 L240.0 123.1 L244.0 122.4 L246.0 121.8 L250.0 120.2 L252.0 119.3 L254.4 118.0 L258.0 116.1 L260.0 115.1 L262.2 114.0 L266.0 112.6 L268.5 112.0 L272.0 111.7 L275.6 112.0 L278.0 112.5 L281.9 114.0 L284.0 115.0 L286.0 116.2 L288.8 118.0 L291.7 120.0 L294.0 121.8 L296.0 123.4 L298.0 125.0 L300.0 126.7 L302.0 128.4 L304.0 130.1 L306.2 132.0 L308.5 134.0 L310.9 136.0 L313.3 138.0 L315.8 140.0 L318.0 141.7 L320.0 143.1 L322.0 144.6 L324.1 146.0 L327.4 148.0 L330.0 149.5 L332.0 150.5 L335.4 152.0 L338.0 152.9 L341.9 154.0 L344.0 154.4 L348.0 154.6 L352.0 154.3 L354.0 153.8 L358.0 152.4 L360.0 151.4 L362.4 150.0 L365.2 148.0 L367.7 146.0 L370.0 144.0 L372.0 142.1 L374.0 140.2 L376.0 138.3 L378.0 136.5 L380.0 134.7 L382.0 133.0 L384.0 131.5 L386.2 130.0 L389.7 128.0 L392.0 126.9 L394.6 126.0 L398.0 125.1 L402.0 124.4 L406.0 124.1 L410.0 124.1 L414.0 124.4 L418.0 124.8 L422.0 125.3 L426.0 125.8 L428.0 126.1 L432.0 126.6 L436.0 126.9 L440.0 127.0 L444.0 126.8 L448.0 126.3 L450.0 125.9 L454.0 124.6 L456.0 123.8 L459.5 122.0 L462.0 120.5 L464.0 119.1 L466.0 117.6 L468.0 116.0 L470.6 114.0 L473.1 112.0 L475.8 110.0 L478.0 108.6 L480.0 107.5 L483.3 106.0 L486.0 105.2 M0.0 123.0 L2.0 124.0 L5.6 126.0 L8.0 127.4 L10.0 128.5 L12.7 130.0 L16.0 131.9 L18.0 133.0 L20.0 134.0 L24.0 136.0 L26.0 136.8 L29.2 138.0 L32.0 138.9 L36.0 139.6 L40.0 139.7 L44.0 139.2 L48.0 138.1 L50.0 137.4 L53.7 136.0 L56.0 135.2 L59.8 134.0 L62.0 133.5 L66.0 133.2 L70.0 133.4 L73.3 134.0 L76.0 134.7 L79.9 136.0 L82.0 136.8 L84.7 138.0 L88.0 139.5 L90.0 140.4 L93.4 142.0 L96.0 143.2 L98.0 144.2 L102.0 146.0 L104.0 146.9 L106.7 148.0 L110.0 149.3 L112.1 150.0 L116.0 151.2 L119.1 152.0 L122.0 152.6 L126.0 153.0 L130.0 153.1 L134.0 152.6 L136.6 152.0 L140.0 150.8 L142.0 149.9 L145.2 148.0 L148.0 146.0 L150.0 144.3 L152.0 142.5 L154.0 140.5 L156.0 138.5 L158.0 136.4 L160.0 134.3 L162.0 132.2 L164.0 130.2 L166.0 128.3 L168.0 126.6 L170.0 125.0 L172.0 123.7 L174.9 122.0 L178.0 120.7 L180.0 120.0 L184.0 119.1 L188.0 118.8 L192.0 118.9 L196.0 119.3 L199.9 120.0 L202.0 120.5 L206.0 121.5 L208.0 122.0 L212.0 123.2 L214.7 124.0 L218.0 125.0 L221.4 126.0 L224.0 126.7 L228.0 127.7 L230.0 128.2 L234.0 128.9 L238.0 129.2 L242.0 129.2 L246.0 128.7 L249.1 128.0 L252.0 127.1 L254.6 126.0 L258.0 124.4 L260.0 123.5 L263.3 122.0 L266.0 120.9 L269.4 120.0 L272.0 119.6 L276.0 119.6 L278.2 120.0 L282.0 121.1 L284.1 122.0 L288.0 124.0 L290.0 125.2 L292.0 126.5 L294.1 128.0 L296.8 130.0 L299.4 132.0 L301.9 134.0 L304.0 135.6 L306.0 137.2 L308.0 138.8 L310.0 140.4 L312.0 142.0 L314.6 144.0 L317.3 146.0 L320.0 147.9 L322.0 149.2 L324.0 150.5 L326.5 152.0 L330.0 153.9 L332.0 154.9 L334.4 156.0 L338.0 157.3 L340.2 158.0 L344.0 158.8 L348.0 159.2 L352.0 158.9 L356.0 158.1 L358.0 157.4 L360.9 156.0 L364.0 154.2 L366.0 152.7 L368.0 151.2 L370.0 149.4 L372.0 147.6 L374.0 145.7 L376.0 143.8 L378.0 141.9 L380.0 140.0 L382.3 138.0 L384.8 136.0 L387.6 134.0 L390.0 132.5 L392.0 131.5 L395.6 130.0 L398.0 129.2 L402.0 128.4 L405.6 128.0 L408.0 127.9 L412.0 128.0 L414.0 128.1 L418.0 128.5 L422.0 129.0 L426.0 129.5 L429.2 130.0 L432.0 130.4 L436.0 130.8 L440.0 131.1 L444.0 131.2 L448.0 131.0 L452.0 130.3 L454.0 129.8 L458.0 128.4 L460.0 127.5 L462.7 126.0 L465.9 124.0 L468.0 122.5 L470.0 121.0 L472.0 119.5 L474.0 118.0 L476.8 116.0 L480.0 114.0 L482.0 112.9 L484.2 112.0 L488.0 111.0 M0.0 127.6 L2.0 128.7 L4.1 130.0 L7.3 132.0 L10.0 133.7 L12.0 135.0 L14.0 136.3 L16.7 138.0 L19.9 140.0 L22.0 141.3 L24.0 142.4 L26.9 144.0 L30.0 145.5 L32.0 146.4 L36.0 147.7 L38.0 148.1 L42.0 148.6 L46.0 148.3 L48.0 147.9 L52.0 146.7 L54.0 146.0 L58.0 144.4 L60.0 143.6 L64.0 142.4 L66.0 141.9 L70.0 141.5 L74.0 141.5 L77.4 142.0 L80.0 142.5 L84.0 143.6 L86.0 144.3 L90.0 145.7 L92.0 146.5 L95.8 148.0 L98.0 148.9 L100.7 150.0 L104.0 151.3 L106.0 152.0 L110.0 153.5 L112.0 154.1 L116.0 155.3 L118.7 156.0 L122.0 156.7 L126.0 157.2 L130.0 157.3 L134.0 157.0 L138.0 156.1 L140.0 155.4 L143.3 154.0 L146.0 152.4 L148.0 151.1 L150.0 149.6 L152.0 147.9 L154.0 146.0 L156.1 144.0 L158.0 142.0 L160.0 139.9 L162.0 137.8 L164.0 135.8 L166.0 133.8 L168.0 132.0 L170.4 130.0 L173.2 128.0 L176.0 126.3 L178.0 125.4 L182.0 124.0 L184.0 123.5 L188.0 123.0 L192.0 123.0 L196.0 123.3 L199.9 124.0 L202.0 124.4 L206.0 125.5 L208.0 126.0 L212.0 127.3 L214.2 128.0 L218.0 129.3 L220.0 130.0 L224.0 131.3 L226.0 132.0 L230.0 133.2 L233.0 134.0 L236.0 134.7 L240.0 135.3 L244.0 135.6 L248.0 135.5 L252.0 134.8 L255.0 134.0 L258.0 133.0 L260.4 132.0 L264.0 130.5 L266.0 129.7 L270.0 128.5 L272.4 128.0 L276.0 127.7 L279.2 128.0 L282.0 128.6 L286.0 130.0 L288.0 130.9 L290.1 132.0 L293.6 134.0 L296.0 135.6 L298.0 136.9 L300.0 138.3 L302.3 140.0 L305.1 142.0 L307.8 144.0 L310.0 145.6 L312.0 147.1 L314.0 148.5 L316.2 150.0 L319.1 152.0 L322.0 153.8 L324.0 155.0 L326.0 156.2 L329.4 158.0 L332.0 159.3 L334.0 160.2 L338.0 161.7 L340.0 162.3 L344.0 163.2 L348.0 163.6 L352.0 163.5 L356.0 162.7 L358.4 162.0 L362.0 160.4 L364.0 159.2 L366.0 157.9 L368.5 156.0 L370.9 154.0 L373.1 152.0 L375.2 150.0 L377.2 148.0 L379.3 146.0 L381.4 144.0 L383.7 142.0 L386.0 140.1 L388.0 138.6 L390.0 137.2 L392.1 136.0 L396.0 134.2 L398.0 133.5 L402.0 132.4 L404.8 132.0 L408.0 131.7 L412.0 131.7 L416.0 131.9 L418.0 132.1 L422.0 132.6 L426.0 133.2 L430.0 133.9 L432.0 134.2 L436.0 134.8 L440.0 135.3 L444.0 135.6 L448.0 135.6 L452.0 135.3 L456.0 134.5 L458.0 133.9 L462.0 132.4 L464.0 131.4 L466.5 130.0 L469.6 128.0 L472.0 126.3 L474.0 124.9 L476.0 123.5 L478.2 122.0 L481.5 120.0 L484.0 118.8 L486.0 118.0 M0.0 132.2 L2.9 134.0 L5.9 136.0 L8.0 137.4 L10.0 138.8 L12.0 140.3 L14.4 142.0 L17.2 144.0 L20.0 146.0 L22.0 147.4 L24.0 148.7 L26.0 150.0 L29.3 152.0 L32.0 153.4 L34.0 154.4 L38.0 155.9 L40.0 156.5 L44.0 157.0 L48.0 156.9 L52.0 156.1 L54.0 155.5 L57.7 154.0 L60.0 153.0 L62.4 152.0 L66.0 150.6 L68.0 150.0 L72.0 149.1 L76.0 148.8 L80.0 149.0 L84.0 149.6 L86.0 150.0 L90.0 151.0 L93.2 152.0 L96.0 152.9 L99.2 154.0 L102.0 155.0 L105.0 156.0 L108.0 157.0 L111.2 158.0 L114.0 158.8 L118.0 159.9 L120.0 160.3 L124.0 161.0 L128.0 161.3 L132.0 161.3 L136.0 160.9 L139.7 160.0 L142.0 159.2 L144.6 158.0 L148.0 156.1 L150.0 154.7 L152.0 153.1 L154.0 151.4 L156.0 149.5 L158.0 147.5 L160.0 145.4 L162.0 143.4 L164.0 141.3 L166.0 139.3 L168.0 137.4 L170.0 135.6 L172.0 134.0 L174.8 132.0 L178.0 130.2 L180.0 129.3 L183.9 128.0 L186.0 127.6 L190.0 127.2 L194.0 127.2 L198.0 127.7 L200.0 128.0 L204.0 128.9 L207.7 130.0 L210.0 130.7 L213.7 132.0 L216.0 132.8 L219.1 134.0 L222.0 135.1 L224.2 136.0 L228.0 137.4 L230.0 138.2 L234.0 139.6 L236.0 140.2 L240.0 141.3 L243.4 142.0 L246.0 142.4 L250.0 142.6 L254.0 142.3 L256.0 142.0 L260.0 140.9 L262.8 140.0 L266.0 138.9 L268.5 138.0 L272.0 137.0 L276.0 136.3 L280.0 136.2 L284.0 136.9 L287.8 138.0 L290.0 138.9 L292.4 140.0 L296.0 141.9 L298.0 143.1 L300.0 144.3 L302.7 146.0 L305.7 148.0 L308.0 149.5 L310.0 150.8 L312.0 152.1 L314.9 154.0 L318.0 156.0 L320.0 157.2 L322.0 158.4 L324.8 160.0 L328.0 161.7 L330.0 162.6 L333.0 164.0 L336.0 165.2 L338.4 166.0 L342.0 167.0 L346.0 167.7 L350.0 167.9 L354.0 167.7 L358.0 166.8 L360.2 166.0 L364.0 164.2 L366.0 163.0 L368.0 161.6 L370.0 160.0 L372.3 158.0 L374.5 156.0 L376.6 154.0 L378.6 152.0 L380.7 150.0 L382.8 148.0 L385.0 146.0 L387.4 144.0 L390.0 142.0 L392.0 140.7 L394.0 139.6 L397.4 138.0 L400.0 137.1 L404.0 136.1 L406.0 135.8 L410.0 135.5 L414.0 135.5 L418.0 135.8 L420.0 136.0 L424.0 136.6 L428.0 137.3 L431.8 138.0 L434.0 138.4 L438.0 139.1 L442.0 139.7 L445.3 140.0 L448.0 140.2 L452.0 140.2 L454.3 140.0 L458.0 139.4 L462.0 138.3 L464.0 137.6 L467.3 136.0 L470.0 134.5 L472.0 133.3 L474.0 132.0 L477.0 130.0 L480.0 128.0 L482.0 126.9 L484.0 125.9 L488.0 124.3 M0.0 136.8 L2.0 138.2 L4.6 140.0 L7.4 142.0 L10.0 144.0 L12.0 145.5 L14.0 147.0 L16.0 148.6 L18.0 150.2 L20.4 152.0 L23.0 154.0 L25.8 156.0 L28.0 157.6 L30.0 158.9 L32.0 160.1 L35.5 162.0 L38.0 163.1 L40.5 164.0 L44.0 164.9 L48.0 165.1 L52.0 164.7 L54.7 164.0 L58.0 162.8 L60.0 161.9 L64.0 160.0 L66.0 159.1 L68.6 158.0 L72.0 156.8 L75.4 156.0 L78.0 155.6 L82.0 155.4 L86.0 155.7 L88.1 156.0 L92.0 156.7 L96.0 157.7 L98.0 158.2 L102.0 159.4 L104.1 160.0 L108.0 161.1 L111.0 162.0 L114.0 162.8 L118.0 163.8 L120.0 164.2 L124.0 164.9 L128.0 165.3 L132.0 165.4 L136.0 165.1 L140.0 164.3 L142.0 163.7 L146.0 162.0 L148.0 160.9 L150.0 159.6 L152.2 158.0 L154.6 156.0 L156.9 154.0 L158.9 152.0 L160.9 150.0 L162.8 148.0 L164.8 146.0 L166.7 144.0 L168.8 142.0 L171.0 140.0 L173.5 138.0 L176.0 136.2 L178.0 135.0 L180.0 134.0 L184.0 132.5 L186.0 132.0 L190.0 131.4 L194.0 131.4 L198.0 131.8 L200.0 132.1 L204.0 133.0 L207.5 134.0 L210.0 134.8 L213.3 136.0 L216.0 137.1 L218.3 138.0 L222.0 139.6 L224.0 140.5 L227.4 142.0 L230.0 143.1 L232.0 144.0 L236.0 145.7 L238.0 146.4 L242.0 147.9 L244.0 148.5 L248.0 149.4 L252.0 150.0 L254.0 150.1 L257.3 150.0 L260.0 149.7 L264.0 148.8 L266.6 148.0 L270.0 146.9 L273.2 146.0 L276.0 145.3 L280.0 144.8 L284.0 144.9 L288.0 145.6 L290.0 146.2 L294.0 147.6 L296.0 148.5 L299.2 150.0 L302.0 151.5 L304.0 152.6 L306.5 154.0 L309.9 156.0 L312.0 157.2 L314.0 158.4 L316.8 160.0 L320.0 161.8 L322.0 162.9 L324.0 164.0 L328.0 166.0 L330.0 166.9 L332.5 168.0 L336.0 169.3 L338.0 170.0 L342.0 171.1 L346.0 171.9 L348.0 172.1 L352.0 172.2 L354.1 172.0 L358.0 171.3 L361.8 170.0 L364.0 169.0 L366.0 167.9 L368.8 166.0 L371.4 164.0 L373.7 162.0 L375.9 160.0 L377.9 158.0 L379.9 156.0 L382.0 154.0 L384.0 152.0 L386.0 150.2 L388.0 148.5 L390.0 146.9 L392.0 145.5 L394.3 144.0 L398.0 142.1 L400.0 141.3 L404.0 140.2 L406.0 139.8 L410.0 139.4 L414.0 139.3 L418.0 139.5 L421.8 140.0 L424.0 140.3 L428.0 141.1 L432.0 141.9 L434.0 142.3 L438.0 143.1 L442.0 143.9 L444.0 144.2 L448.0 144.7 L452.0 145.0 L456.0 145.0 L460.0 144.6 L462.9 144.0 L466.0 143.1 L468.6 142.0 L472.0 140.3 L474.0 139.2 L476.0 138.0 L479.3 136.0 L482.0 134.4 L484.0 133.3 L487.0 132.0 M0.0 141.5 L2.0 142.9 L4.0 144.4 L6.2 146.0 L8.7 148.0 L11.2 150.0 L13.6 152.0 L16.0 154.0 L18.0 155.6 L20.0 157.3 L22.0 158.9 L24.0 160.5 L26.0 162.1 L28.6 164.0 L31.5 166.0 L34.0 167.6 L36.0 168.7 L38.5 170.0 L42.0 171.4 L44.2 172.0 L48.0 172.6 L52.0 172.5 L54.8 172.0 L58.0 171.0 L60.5 170.0 L64.0 168.3 L66.0 167.2 L68.5 166.0 L72.0 164.3 L74.0 163.6 L78.0 162.3 L80.0 161.9 L84.0 161.5 L88.0 161.5 L92.0 161.8 L94.0 162.1 L98.0 162.9 L102.0 163.8 L104.0 164.3 L108.0 165.3 L110.9 166.0 L114.0 166.8 L118.0 167.7 L120.0 168.1 L124.0 168.8 L128.0 169.2 L132.0 169.4 L136.0 169.2 L140.0 168.5 L142.1 168.0 L146.0 166.5 L148.0 165.6 L150.7 164.0 L153.5 162.0 L156.0 160.0 L158.0 158.2 L160.0 156.3 L162.0 154.3 L164.0 152.3 L166.0 150.2 L168.0 148.2 L170.0 146.3 L172.0 144.5 L174.0 142.8 L176.0 141.3 L178.0 140.0 L181.7 138.0 L184.0 137.1 L188.0 136.1 L190.0 135.8 L194.0 135.6 L198.0 135.9 L200.0 136.2 L204.0 137.1 L207.2 138.0 L210.0 138.9 L212.8 140.0 L216.0 141.3 L218.0 142.2 L221.9 144.0 L224.0 145.0 L226.0 146.0 L229.9 148.0 L232.0 149.1 L234.0 150.1 L238.0 152.0 L240.0 153.0 L242.4 154.0 L246.0 155.5 L248.0 156.2 L252.0 157.3 L255.8 158.0 L258.0 158.2 L262.0 158.1 L264.0 157.9 L268.0 157.0 L271.6 156.0 L274.0 155.3 L278.0 154.2 L280.0 153.8 L284.0 153.3 L288.0 153.4 L291.6 154.0 L294.0 154.6 L298.0 155.9 L300.0 156.7 L303.1 158.0 L306.0 159.3 L308.0 160.3 L311.3 162.0 L314.0 163.4 L316.0 164.4 L319.1 166.0 L322.0 167.4 L324.0 168.4 L327.4 170.0 L330.0 171.1 L332.1 172.0 L336.0 173.4 L338.0 174.1 L342.0 175.2 L346.0 176.0 L348.0 176.2 L352.0 176.4 L356.0 176.0 L358.0 175.7 L362.0 174.5 L364.0 173.6 L367.1 172.0 L370.0 170.1 L372.0 168.6 L374.0 166.9 L376.0 165.1 L378.0 163.2 L380.0 161.2 L382.0 159.2 L384.0 157.2 L386.0 155.3 L388.0 153.5 L390.0 151.8 L392.4 150.0 L395.4 148.0 L398.0 146.6 L400.0 145.7 L404.0 144.3 L406.0 143.9 L410.0 143.3 L414.0 143.1 L418.0 143.3 L422.0 143.8 L424.0 144.1 L428.0 144.8 L432.0 145.7 L434.0 146.2 L438.0 147.1 L441.8 148.0 L444.0 148.5 L448.0 149.3 L452.0 149.9 L454.0 150.1 L458.0 150.3 L462.0 150.1 L464.0 149.8 L468.0 148.9 L470.7 148.0 L474.0 146.6 L476.0 145.6 L478.9 144.0 L482.0 142.3 L484.0 141.2 L486.6 140.0 M0.0 146.2 L2.4 148.0 L5.0 150.0 L7.5 152.0 L9.9 154.0 L12.0 155.8 L14.0 157.5 L16.0 159.2 L18.0 161.0 L20.0 162.7 L22.0 164.4 L24.0 166.1 L26.3 168.0 L28.9 170.0 L31.7 172.0 L34.0 173.6 L36.0 174.8 L38.2 176.0 L42.0 177.7 L44.0 178.4 L48.0 179.4 L52.0 179.6 L56.0 179.1 L59.6 178.0 L62.0 177.0 L64.1 176.0 L67.8 174.0 L70.0 172.8 L72.0 171.7 L75.6 170.0 L78.0 169.0 L81.3 168.0 L84.0 167.4 L88.0 166.9 L92.0 166.9 L96.0 167.2 L100.0 167.8 L102.0 168.1 L106.0 168.9 L110.0 169.8 L112.0 170.3 L116.0 171.1 L120.0 171.9 L122.0 172.3 L126.0 172.9 L130.0 173.2 L134.0 173.3 L138.0 173.0 L142.0 172.3 L144.0 171.7 L148.0 170.2 L150.0 169.1 L152.0 168.0 L154.8 166.0 L157.3 164.0 L159.6 162.0 L161.7 160.0 L163.7 158.0 L165.7 156.0 L167.7 154.0 L169.7 152.0 L171.8 150.0 L174.0 148.0 L176.0 146.4 L178.0 145.0 L180.0 143.7 L183.5 142.0 L186.0 141.1 L190.0 140.2 L192.0 140.0 L196.0 139.9 L198.0 140.1 L202.0 140.7 L206.0 141.7 L208.0 142.4 L212.0 143.9 L214.0 144.7 L216.9 146.0 L220.0 147.5 L222.0 148.5 L224.7 150.0 L228.0 151.8 L230.0 152.9 L232.0 154.1 L235.3 156.0 L238.0 157.5 L240.0 158.6 L242.5 160.0 L246.0 161.8 L248.0 162.7 L251.0 164.0 L254.0 165.1 L257.4 166.0 L260.0 166.5 L264.0 166.7 L268.0 166.3 L270.0 165.9 L274.0 164.8 L276.7 164.0 L280.0 163.0 L284.0 162.1 L286.0 161.7 L290.0 161.5 L294.0 161.8 L296.0 162.1 L300.0 163.0 L303.1 164.0 L306.0 165.0 L308.5 166.0 L312.0 167.5 L314.0 168.4 L317.7 170.0 L320.0 171.0 L322.2 172.0 L326.0 173.7 L328.0 174.5 L331.8 176.0 L334.0 176.8 L337.7 178.0 L340.0 178.7 L344.0 179.6 L346.3 180.0 L350.0 180.4 L354.0 180.4 L357.7 180.0 L360.0 179.5 L364.0 178.2 L366.0 177.3 L368.3 176.0 L371.4 174.0 L373.9 172.0 L376.0 170.2 L378.0 168.4 L380.0 166.4 L382.0 164.5 L384.0 162.5 L386.0 160.5 L388.0 158.6 L390.0 156.8 L392.0 155.2 L394.0 153.6 L396.5 152.0 L400.0 150.1 L402.0 149.2 L405.9 148.0 L408.0 147.6 L412.0 147.1 L416.0 147.0 L420.0 147.3 L424.0 147.9 L426.0 148.2 L430.0 149.1 L433.7 150.0 L436.0 150.6 L440.0 151.7 L442.0 152.2 L446.0 153.3 L448.9 154.0 L452.0 154.7 L456.0 155.4 L460.0 155.8 L464.0 155.9 L468.0 155.5 L472.0 154.6 L474.0 154.0 L478.0 152.4 L480.0 151.4 L482.9 150.0 L486.0 148.5 L488.0 147.6 M0.0 151.0 L2.0 152.5 L4.0 154.0 L6.4 156.0 L8.8 158.0 L11.1 160.0 L13.3 162.0 L15.6 164.0 L17.8 166.0 L20.0 168.0 L22.0 169.7 L24.0 171.4 L26.0 173.1 L28.0 174.7 L30.0 176.3 L32.4 178.0 L35.4 180.0 L38.0 181.6 L40.0 182.6 L43.1 184.0 L46.0 185.0 L50.0 185.8 L52.0 186.0 L54.0 186.0 L58.0 185.4 L62.0 184.1 L64.0 183.2 L66.5 182.0 L70.0 180.0 L72.0 178.8 L74.0 177.7 L77.2 176.0 L80.0 174.7 L82.0 174.0 L86.0 172.8 L90.0 172.2 L92.2 172.0 L96.0 172.0 L98.0 172.1 L102.0 172.5 L106.0 173.1 L110.0 173.8 L112.0 174.2 L116.0 175.0 L120.0 175.7 L122.0 176.1 L126.0 176.6 L130.0 177.0 L134.0 177.2 L138.0 177.0 L142.0 176.4 L144.0 176.0 L148.0 174.6 L150.0 173.7 L153.2 172.0 L156.0 170.1 L158.0 168.6 L160.0 166.9 L162.0 165.0 L164.0 163.1 L166.0 161.1 L168.0 159.1 L170.0 157.1 L172.0 155.2 L174.0 153.4 L176.0 151.7 L178.2 150.0 L181.3 148.0 L184.0 146.6 L186.0 145.8 L190.0 144.7 L194.0 144.2 L198.0 144.3 L202.0 144.9 L206.0 145.9 L208.0 146.6 L211.8 148.0 L214.0 149.0 L216.2 150.0 L220.0 151.9 L222.0 153.0 L224.0 154.2 L227.1 156.0 L230.0 157.8 L232.0 159.1 L234.0 160.4 L236.5 162.0 L239.6 164.0 L242.0 165.5 L244.0 166.8 L246.0 168.0 L249.6 170.0 L252.0 171.3 L254.0 172.2 L258.0 173.8 L260.0 174.4 L264.0 175.1 L268.0 175.2 L272.0 174.7 L274.8 174.0 L278.0 173.0 L280.8 172.0 L284.0 170.9 L287.5 170.0 L290.0 169.5 L294.0 169.2 L298.0 169.3 L302.0 169.9 L304.0 170.3 L308.0 171.4 L310.0 172.0 L314.0 173.4 L316.0 174.1 L320.0 175.6 L322.0 176.4 L326.0 178.0 L328.0 178.7 L331.6 180.0 L334.0 180.8 L337.8 182.0 L340.0 182.6 L344.0 183.5 L346.7 184.0 L350.0 184.4 L354.0 184.5 L358.0 184.1 L360.0 183.8 L364.0 182.6 L366.0 181.8 L369.5 180.0 L372.0 178.4 L374.0 176.9 L376.0 175.3 L378.0 173.5 L380.0 171.6 L382.0 169.7 L384.0 167.7 L386.0 165.7 L388.0 163.7 L390.0 161.9 L392.1 160.0 L394.7 158.0 L397.6 156.0 L400.0 154.6 L402.0 153.6 L406.0 152.2 L408.0 151.7 L412.0 151.1 L416.0 150.9 L420.0 151.1 L424.0 151.7 L426.0 152.0 L430.0 152.9 L434.0 154.0 L436.0 154.6 L440.0 155.8 L442.0 156.4 L446.0 157.7 L448.0 158.3 L452.0 159.5 L454.0 160.0 L458.0 160.9 L462.0 161.6 L466.0 162.0 L470.0 161.9 L474.0 161.4 L478.0 160.3 L480.0 159.6 L484.0 158.0 L486.0 157.1 M0.0 155.8 L2.0 157.3 L4.0 158.9 L6.0 160.6 L8.0 162.3 L10.0 164.0 L12.2 166.0 L14.4 168.0 L16.6 170.0 L18.8 172.0 L21.1 174.0 L23.4 176.0 L25.7 178.0 L28.0 179.9 L30.0 181.4 L32.0 182.9 L34.0 184.3 L36.6 186.0 L40.0 188.0 L42.0 188.9 L44.6 190.0 L48.0 191.1 L52.0 191.8 L56.0 191.9 L60.0 191.2 L63.8 190.0 L66.0 189.0 L68.0 188.0 L71.4 186.0 L74.0 184.4 L76.0 183.2 L78.1 182.0 L82.0 180.0 L84.0 179.2 L87.7 178.0 L90.0 177.4 L94.0 176.9 L98.0 176.7 L102.0 176.8 L106.0 177.2 L110.0 177.8 L112.0 178.1 L116.0 178.8 L120.0 179.5 L123.3 180.0 L126.0 180.4 L130.0 180.8 L134.0 181.0 L138.0 181.0 L142.0 180.5 L144.6 180.0 L148.0 179.0 L150.6 178.0 L154.0 176.2 L156.0 175.0 L158.0 173.6 L160.0 172.0 L162.4 170.0 L164.5 168.0 L166.6 166.0 L168.6 164.0 L170.6 162.0 L172.7 160.0 L174.9 158.0 L177.2 156.0 L179.9 154.0 L182.0 152.6 L184.0 151.5 L187.6 150.0 L190.0 149.3 L194.0 148.7 L198.0 148.7 L202.0 149.2 L205.3 150.0 L208.0 150.8 L211.1 152.0 L214.0 153.3 L216.0 154.3 L219.3 156.0 L222.0 157.6 L224.0 158.8 L226.0 160.0 L229.0 162.0 L231.9 164.0 L234.0 165.5 L236.0 166.9 L238.0 168.3 L240.3 170.0 L243.1 172.0 L246.0 174.0 L248.0 175.4 L250.0 176.7 L252.2 178.0 L255.8 180.0 L258.0 181.1 L260.2 182.0 L264.0 183.1 L268.0 183.7 L272.0 183.6 L276.0 182.8 L278.4 182.0 L282.0 180.6 L284.0 179.8 L288.0 178.3 L290.0 177.7 L294.0 176.7 L298.0 176.2 L302.0 176.2 L306.0 176.6 L310.0 177.4 L312.5 178.0 L316.0 179.0 L319.3 180.0 L322.0 180.9 L325.3 182.0 L328.0 182.9 L331.3 184.0 L334.0 184.8 L338.0 186.0 L340.0 186.5 L344.0 187.4 L347.5 188.0 L350.0 188.3 L354.0 188.5 L358.0 188.2 L360.0 188.0 L364.0 187.0 L366.6 186.0 L370.0 184.4 L372.0 183.2 L374.0 181.8 L376.3 180.0 L378.7 178.0 L380.8 176.0 L382.9 174.0 L384.9 172.0 L386.9 170.0 L388.9 168.0 L391.1 166.0 L393.3 164.0 L395.8 162.0 L398.0 160.4 L400.0 159.2 L402.3 158.0 L406.0 156.5 L408.0 155.9 L412.0 155.1 L416.0 154.9 L420.0 155.0 L424.0 155.5 L426.5 156.0 L430.0 156.8 L434.0 157.9 L436.0 158.6 L440.0 159.9 L442.0 160.6 L445.8 162.0 L448.0 162.8 L451.4 164.0 L454.0 164.9 L457.4 166.0 L460.0 166.8 L464.0 167.7 L466.0 168.1 L470.0 168.6 L474.0 168.7 L478.0 168.2 L480.0 167.8 L484.0 166.7 L486.0 166.0 M0.0 160.7 L2.0 162.2 L4.2 164.0 L6.6 166.0 L8.9 168.0 L11.2 170.0 L13.4 172.0 L15.6 174.0 L17.8 176.0 L20.0 178.0 L22.0 179.7 L24.0 181.5 L26.0 183.1 L28.0 184.7 L30.0 186.3 L32.3 188.0 L35.2 190.0 L38.0 191.7 L40.0 192.9 L42.2 194.0 L46.0 195.6 L48.0 196.3 L52.0 197.2 L56.0 197.5 L60.0 197.1 L64.0 196.1 L66.0 195.3 L68.6 194.0 L72.0 192.1 L74.0 190.9 L76.0 189.6 L78.6 188.0 L82.0 186.1 L84.0 185.0 L86.4 184.0 L90.0 182.7 L93.0 182.0 L96.0 181.5 L100.0 181.2 L104.0 181.3 L108.0 181.6 L111.8 182.0 L114.0 182.3 L118.0 182.9 L122.0 183.5 L125.4 184.0 L128.0 184.3 L132.0 184.7 L136.0 184.9 L140.0 184.7 L144.0 184.3 L146.0 183.9 L150.0 182.7 L152.0 181.9 L155.7 180.0 L158.0 178.6 L160.0 177.1 L162.0 175.5 L164.0 173.8 L166.0 172.0 L168.1 170.0 L170.1 168.0 L172.2 166.0 L174.3 164.0 L176.5 162.0 L178.9 160.0 L181.7 158.0 L184.0 156.6 L186.0 155.5 L190.0 154.1 L192.0 153.6 L196.0 153.1 L200.0 153.3 L204.0 154.0 L206.0 154.5 L210.0 155.9 L212.0 156.7 L214.7 158.0 L218.0 159.7 L220.0 160.9 L222.0 162.1 L224.9 164.0 L227.8 166.0 L230.0 167.6 L232.0 169.1 L234.0 170.6 L236.0 172.1 L238.4 174.0 L241.0 176.0 L243.5 178.0 L246.0 179.9 L248.0 181.4 L250.0 182.9 L252.0 184.3 L254.5 186.0 L257.9 188.0 L260.0 189.1 L262.0 190.0 L266.0 191.3 L270.0 191.9 L274.0 191.8 L278.0 190.9 L280.7 190.0 L284.0 188.6 L286.0 187.7 L289.6 186.0 L292.0 185.0 L295.0 184.0 L298.0 183.2 L302.0 182.7 L306.0 182.5 L310.0 182.9 L314.0 183.5 L316.5 184.0 L320.0 184.8 L324.0 185.9 L326.0 186.5 L330.0 187.7 L332.0 188.3 L336.0 189.4 L338.4 190.0 L342.0 190.8 L346.0 191.6 L348.7 192.0 L352.0 192.3 L356.0 192.4 L360.0 192.0 L362.0 191.7 L366.0 190.6 L368.0 189.8 L371.7 188.0 L374.0 186.6 L376.0 185.2 L378.0 183.6 L380.0 181.9 L382.0 180.0 L384.1 178.0 L386.1 176.0 L388.1 174.0 L390.1 172.0 L392.3 170.0 L394.5 168.0 L397.0 166.0 L399.8 164.0 L402.0 162.7 L404.0 161.7 L408.0 160.2 L410.0 159.6 L414.0 159.0 L418.0 158.9 L422.0 159.2 L426.0 159.8 L428.0 160.2 L432.0 161.3 L434.2 162.0 L438.0 163.3 L440.0 164.1 L444.0 165.6 L446.0 166.4 L449.7 168.0 L452.0 169.0 L454.5 170.0 L458.0 171.4 L460.0 172.2 L464.0 173.6 L466.0 174.2 L470.0 175.2 L474.0 175.8 L476.4 176.0 L478.6 176.0 L482.0 175.7 L486.0 174.9 M0.0 165.6 L2.0 167.1 L4.0 168.7 L6.0 170.4 L8.0 172.1 L10.2 174.0 L12.5 176.0 L14.7 178.0 L16.9 180.0 L19.2 182.0 L21.5 184.0 L23.9 186.0 L26.0 187.8 L28.0 189.4 L30.0 190.9 L32.0 192.4 L34.4 194.0 L37.5 196.0 L40.0 197.5 L42.0 198.5 L45.2 200.0 L48.0 201.0 L51.4 202.0 L54.0 202.5 L58.0 202.7 L62.0 202.2 L64.0 201.8 L68.0 200.3 L70.0 199.3 L72.4 198.0 L75.6 196.0 L78.0 194.5 L80.0 193.2 L82.0 192.0 L85.5 190.0 L88.0 188.8 L90.0 188.0 L94.0 186.7 L97.7 186.0 L100.0 185.7 L104.0 185.5 L108.0 185.6 L112.0 185.9 L114.0 186.1 L118.0 186.7 L122.0 187.2 L126.0 187.8 L128.0 188.0 L132.0 188.4 L136.0 188.6 L140.0 188.6 L144.0 188.3 L146.0 188.0 L150.0 187.0 L152.9 186.0 L156.0 184.6 L158.0 183.4 L160.2 182.0 L162.9 180.0 L165.3 178.0 L167.5 176.0 L169.7 174.0 L171.7 172.0 L173.8 170.0 L176.0 168.0 L178.0 166.2 L180.0 164.5 L182.0 163.1 L184.0 161.7 L187.3 160.0 L190.0 158.9 L194.0 158.0 L196.0 157.8 L200.0 157.8 L202.0 158.1 L206.0 159.0 L209.1 160.0 L212.0 161.2 L214.0 162.1 L217.5 164.0 L220.0 165.5 L222.0 166.7 L224.0 168.1 L226.7 170.0 L229.4 172.0 L231.9 174.0 L234.0 175.7 L236.0 177.3 L238.0 179.0 L240.0 180.7 L242.0 182.4 L244.0 184.1 L246.3 186.0 L248.8 188.0 L251.3 190.0 L254.0 192.0 L256.0 193.4 L258.0 194.7 L260.2 196.0 L264.0 197.9 L266.0 198.6 L270.0 199.6 L274.0 199.8 L278.0 199.2 L281.8 198.0 L284.0 197.0 L286.1 196.0 L289.9 194.0 L292.0 192.9 L294.0 192.0 L298.0 190.3 L300.0 189.7 L304.0 188.8 L308.0 188.4 L312.0 188.4 L316.0 188.8 L320.0 189.5 L322.6 190.0 L326.0 190.8 L330.0 191.8 L332.0 192.3 L336.0 193.3 L339.0 194.0 L342.0 194.7 L346.0 195.4 L350.0 196.0 L352.0 196.2 L356.0 196.3 L360.0 196.1 L362.0 195.8 L366.0 194.9 L368.5 194.0 L372.0 192.4 L374.0 191.3 L376.0 190.0 L378.6 188.0 L381.0 186.0 L383.2 184.0 L385.3 182.0 L387.3 180.0 L389.3 178.0 L391.4 176.0 L393.5 174.0 L395.7 172.0 L398.0 170.2 L400.0 168.7 L402.0 167.4 L404.6 166.0 L408.0 164.6 L410.0 163.9 L414.0 163.2 L418.0 162.9 L422.0 163.2 L426.0 163.8 L428.0 164.2 L432.0 165.3 L434.1 166.0 L438.0 167.4 L440.0 168.2 L444.0 169.9 L446.0 170.8 L448.5 172.0 L452.0 173.7 L454.0 174.6 L456.8 176.0 L460.0 177.5 L462.0 178.4 L465.7 180.0 L468.0 180.9 L471.1 182.0 L474.0 182.8 L478.0 183.7 L482.0 184.0 L486.0 183.7 M0.0 170.5 L2.0 172.0 L4.5 174.0 L6.9 176.0 L9.3 178.0 L11.6 180.0 L13.9 182.0 L16.0 183.8 L18.0 185.5 L20.0 187.2 L22.0 188.9 L24.0 190.6 L26.0 192.2 L28.3 194.0 L31.0 196.0 L33.9 198.0 L36.0 199.4 L38.0 200.6 L40.4 202.0 L44.0 203.8 L46.0 204.7 L49.5 206.0 L52.0 206.7 L56.0 207.5 L60.0 207.6 L64.0 207.1 L67.6 206.0 L70.0 205.0 L72.0 204.0 L75.5 202.0 L78.0 200.4 L80.0 199.1 L82.0 197.8 L84.9 196.0 L88.0 194.2 L90.0 193.3 L93.1 192.0 L96.0 191.1 L100.0 190.2 L102.0 190.0 L106.0 189.7 L110.0 189.7 L114.0 190.0 L116.0 190.2 L120.0 190.6 L124.0 191.2 L128.0 191.7 L131.1 192.0 L134.0 192.3 L138.0 192.5 L142.0 192.4 L146.0 192.1 L148.0 191.8 L152.0 190.8 L154.2 190.0 L158.0 188.3 L160.0 187.1 L162.0 185.8 L164.5 184.0 L166.9 182.0 L169.2 180.0 L171.3 178.0 L173.4 176.0 L175.6 174.0 L177.8 172.0 L180.0 170.1 L182.0 168.5 L184.0 167.1 L186.0 165.9 L189.9 164.0 L192.0 163.3 L196.0 162.6 L200.0 162.5 L204.0 163.0 L207.6 164.0 L210.0 164.8 L212.7 166.0 L216.0 167.7 L218.0 168.8 L220.0 170.1 L222.9 172.0 L225.6 174.0 L228.0 175.8 L230.0 177.4 L232.0 179.1 L234.0 180.8 L236.0 182.5 L238.0 184.3 L240.0 186.0 L242.2 188.0 L244.4 190.0 L246.7 192.0 L249.0 194.0 L251.3 196.0 L253.8 198.0 L256.0 199.7 L258.0 201.1 L260.0 202.4 L262.8 204.0 L266.0 205.5 L268.0 206.3 L272.0 207.2 L276.0 207.3 L280.0 206.6 L282.0 205.9 L286.0 204.1 L288.0 203.0 L290.0 201.9 L293.2 200.0 L296.0 198.4 L298.0 197.4 L301.3 196.0 L304.0 195.1 L308.0 194.2 L310.0 193.9 L314.0 193.7 L318.0 193.9 L320.0 194.1 L324.0 194.7 L328.0 195.4 L330.7 196.0 L334.0 196.7 L338.0 197.6 L340.0 198.0 L344.0 198.8 L348.0 199.5 L352.0 199.9 L354.0 200.1 L358.0 200.1 L360.2 200.0 L364.0 199.5 L368.0 198.5 L370.0 197.8 L373.8 196.0 L376.0 194.7 L378.0 193.4 L380.0 191.9 L382.2 190.0 L384.5 188.0 L386.6 186.0 L388.6 184.0 L390.6 182.0 L392.7 180.0 L394.8 178.0 L397.0 176.0 L399.5 174.0 L402.0 172.2 L404.0 171.0 L406.0 169.9 L410.0 168.4 L412.0 167.8 L416.0 167.2 L420.0 167.1 L424.0 167.5 L426.9 168.0 L430.0 168.8 L433.9 170.0 L436.0 170.8 L439.0 172.0 L442.0 173.3 L444.0 174.3 L447.5 176.0 L450.0 177.3 L452.0 178.4 L454.9 180.0 L458.0 181.7 L460.0 182.8 L462.2 184.0 L466.0 186.0 L468.0 187.0 L470.1 188.0 L474.0 189.7 L476.0 190.4 L480.0 191.6 L482.3 192.0 L486.0 192.3 M0.0 175.5 L2.0 176.9 L4.0 178.4 L6.0 180.0 L8.4 182.0 L10.9 184.0 L13.2 186.0 L15.6 188.0 L18.0 190.0 L20.0 191.6 L22.0 193.2 L24.0 194.8 L26.0 196.4 L28.1 198.0 L30.9 200.0 L33.8 202.0 L36.0 203.4 L38.0 204.7 L40.3 206.0 L44.0 207.9 L46.0 208.9 L48.8 210.0 L52.0 211.1 L56.0 212.0 L58.0 212.2 L62.0 212.3 L64.2 212.0 L68.0 211.1 L70.9 210.0 L74.0 208.5 L76.0 207.3 L78.1 206.0 L81.1 204.0 L84.0 202.1 L86.0 200.8 L88.0 199.6 L91.0 198.0 L94.0 196.6 L96.0 195.9 L100.0 194.8 L104.0 194.1 L106.0 193.9 L110.0 193.7 L114.0 193.8 L116.3 194.0 L120.0 194.4 L124.0 194.8 L128.0 195.3 L132.0 195.8 L134.7 196.0 L138.0 196.2 L142.0 196.3 L146.0 196.1 L148.0 195.9 L152.0 195.1 L155.6 194.0 L158.0 193.0 L160.0 192.0 L163.4 190.0 L166.0 188.1 L168.0 186.5 L170.0 184.8 L172.0 183.0 L174.0 181.2 L176.0 179.3 L178.0 177.5 L180.0 175.7 L182.1 174.0 L184.9 172.0 L188.0 170.1 L190.0 169.2 L193.5 168.0 L196.0 167.5 L200.0 167.3 L204.0 167.7 L206.0 168.2 L210.0 169.5 L212.0 170.3 L215.4 172.0 L218.0 173.5 L220.0 174.8 L222.0 176.1 L224.5 178.0 L227.1 180.0 L229.6 182.0 L231.9 184.0 L234.0 185.9 L236.0 187.7 L238.0 189.5 L240.0 191.4 L242.0 193.3 L244.0 195.1 L246.0 197.0 L248.0 198.8 L250.0 200.6 L252.0 202.4 L254.0 204.1 L256.4 206.0 L259.1 208.0 L262.0 209.9 L264.0 211.1 L266.0 212.1 L270.0 213.6 L272.0 214.1 L276.0 214.4 L280.0 214.0 L282.0 213.4 L285.6 212.0 L288.0 210.7 L290.0 209.6 L292.5 208.0 L295.6 206.0 L298.0 204.5 L300.0 203.4 L302.8 202.0 L306.0 200.7 L308.2 200.0 L312.0 199.2 L316.0 198.8 L320.0 198.8 L324.0 199.1 L328.0 199.6 L330.3 200.0 L334.0 200.7 L338.0 201.4 L340.9 202.0 L344.0 202.6 L348.0 203.2 L352.0 203.7 L356.0 203.9 L360.0 203.9 L364.0 203.5 L368.0 202.7 L370.2 202.0 L374.0 200.4 L376.0 199.4 L378.2 198.0 L381.0 196.0 L383.5 194.0 L385.7 192.0 L387.8 190.0 L389.9 188.0 L391.9 186.0 L394.0 184.0 L396.0 182.1 L398.0 180.3 L400.0 178.6 L402.0 177.2 L404.0 175.8 L407.4 174.0 L410.0 172.9 L413.1 172.0 L416.0 171.5 L420.0 171.3 L424.0 171.6 L426.4 172.0 L430.0 172.9 L433.5 174.0 L436.0 174.9 L438.5 176.0 L442.0 177.6 L444.0 178.6 L446.5 180.0 L450.0 182.0 L452.0 183.1 L454.0 184.3 L456.7 186.0 L459.9 188.0 L462.0 189.3 L464.0 190.6 L466.3 192.0 L469.7 194.0 L472.0 195.3 L474.0 196.3 L477.6 198.0 L480.0 199.0 L483.3 200.0 L486.0 200.6 M0.0 180.4 L2.3 182.0 L5.0 184.0 L7.6 186.0 L10.0 187.9 L12.0 189.4 L14.0 191.0 L16.0 192.6 L18.0 194.2 L20.2 196.0 L22.8 198.0 L25.4 200.0 L28.0 201.9 L30.0 203.3 L32.0 204.7 L34.0 206.0 L37.1 208.0 L40.0 209.7 L42.0 210.8 L44.3 212.0 L48.0 213.7 L50.0 214.5 L54.0 215.8 L56.0 216.2 L60.0 216.8 L64.0 216.7 L68.0 216.1 L70.0 215.5 L73.5 214.0 L76.0 212.7 L78.0 211.5 L80.4 210.0 L83.4 208.0 L86.0 206.2 L88.0 204.9 L90.0 203.7 L93.2 202.0 L96.0 200.7 L98.0 199.9 L102.0 198.8 L106.0 198.1 L108.0 197.9 L112.0 197.7 L116.0 197.8 L119.3 198.0 L122.0 198.3 L126.0 198.7 L130.0 199.2 L134.0 199.6 L138.0 200.0 L140.0 200.1 L144.0 200.1 L147.2 200.0 L150.0 199.7 L154.0 198.9 L157.1 198.0 L160.0 196.9 L162.0 195.9 L165.1 194.0 L168.0 192.0 L170.0 190.4 L172.0 188.7 L174.0 187.0 L176.0 185.1 L178.0 183.3 L180.0 181.6 L182.0 179.9 L184.4 178.0 L187.4 176.0 L190.0 174.6 L192.0 173.7 L196.0 172.6 L200.0 172.2 L204.0 172.6 L208.0 173.5 L210.0 174.2 L214.0 176.0 L216.0 177.1 L218.0 178.3 L220.6 180.0 L223.4 182.0 L226.0 184.0 L228.0 185.7 L230.0 187.4 L232.0 189.1 L234.0 191.0 L236.0 192.9 L238.0 194.8 L240.0 196.7 L242.0 198.6 L244.0 200.6 L246.0 202.5 L248.0 204.4 L250.0 206.3 L252.0 208.1 L254.2 210.0 L256.6 212.0 L259.2 214.0 L262.0 216.0 L264.0 217.2 L266.0 218.3 L270.0 220.0 L272.0 220.6 L276.0 221.2 L280.0 221.0 L283.7 220.0 L286.0 219.1 L288.1 218.0 L291.4 216.0 L294.0 214.3 L296.0 212.9 L298.0 211.5 L300.3 210.0 L303.7 208.0 L306.0 206.8 L308.0 206.0 L312.0 204.6 L315.1 204.0 L318.0 203.6 L322.0 203.5 L326.0 203.6 L329.6 204.0 L332.0 204.3 L336.0 204.9 L340.0 205.6 L342.3 206.0 L346.0 206.6 L350.0 207.2 L354.0 207.6 L358.0 207.8 L362.0 207.7 L366.0 207.2 L370.0 206.3 L372.0 205.7 L375.9 204.0 L378.0 202.9 L380.0 201.6 L382.2 200.0 L384.7 198.0 L387.0 196.0 L389.2 194.0 L391.2 192.0 L393.3 190.0 L395.3 188.0 L397.5 186.0 L399.8 184.0 L402.0 182.2 L404.0 180.8 L406.0 179.5 L409.0 178.0 L412.0 176.8 L415.4 176.0 L418.0 175.7 L422.0 175.6 L425.3 176.0 L428.0 176.5 L432.0 177.6 L434.0 178.4 L438.0 180.0 L440.0 181.0 L442.0 182.0 L445.7 184.0 L448.0 185.4 L450.0 186.6 L452.2 188.0 L455.2 190.0 L458.0 191.9 L460.0 193.3 L462.0 194.7 L464.0 196.1 L466.7 198.0 L469.7 200.0 L472.0 201.5 L474.0 202.8 L476.0 204.0 L479.8 206.0 L482.0 207.0 L484.7 208.0 L488.0 208.9 M0.0 185.4 L2.0 186.6 L4.0 188.0 L6.8 190.0 L9.6 192.0 L12.0 193.8 L14.0 195.3 L16.0 196.8 L18.0 198.4 L20.2 200.0 L22.9 202.0 L25.6 204.0 L28.0 205.7 L30.0 207.1 L32.0 208.4 L34.4 210.0 L37.6 212.0 L40.0 213.4 L42.0 214.5 L44.9 216.0 L48.0 217.5 L50.0 218.3 L54.0 219.7 L56.0 220.3 L60.0 221.0 L64.0 221.2 L68.0 220.8 L71.0 220.0 L74.0 218.9 L76.0 217.9 L79.3 216.0 L82.0 214.3 L84.0 212.9 L86.0 211.6 L88.3 210.0 L91.5 208.0 L94.0 206.6 L96.0 205.5 L99.7 204.0 L102.0 203.2 L106.0 202.3 L108.0 202.0 L112.0 201.6 L116.0 201.6 L120.0 201.8 L122.7 202.0 L126.0 202.3 L130.0 202.8 L134.0 203.3 L138.0 203.7 L142.0 203.9 L144.0 204.0 L147.2 204.0 L150.0 203.8 L154.0 203.3 L158.0 202.3 L160.0 201.6 L163.7 200.0 L166.0 198.7 L168.0 197.4 L170.0 196.0 L172.5 194.0 L174.9 192.0 L177.2 190.0 L179.5 188.0 L181.8 186.0 L184.0 184.2 L186.0 182.7 L188.0 181.4 L190.4 180.0 L194.0 178.5 L196.0 177.9 L200.0 177.4 L204.0 177.6 L206.2 178.0 L210.0 179.1 L212.1 180.0 L216.0 182.0 L218.0 183.2 L220.0 184.5 L222.1 186.0 L224.8 188.0 L227.2 190.0 L229.5 192.0 L231.7 194.0 L233.9 196.0 L236.0 198.0 L238.0 200.0 L240.0 202.0 L242.0 204.0 L244.0 206.0 L246.0 207.9 L248.0 209.9 L250.0 211.8 L252.0 213.7 L254.0 215.5 L256.0 217.2 L258.0 218.8 L260.0 220.3 L262.4 222.0 L265.7 224.0 L268.0 225.2 L270.0 226.0 L274.0 227.2 L278.0 227.6 L282.0 227.2 L285.9 226.0 L288.0 225.0 L290.0 223.9 L293.0 222.0 L295.8 220.0 L298.0 218.4 L300.0 216.9 L302.0 215.5 L304.3 214.0 L307.8 212.0 L310.0 210.9 L312.4 210.0 L316.0 208.9 L320.0 208.3 L323.5 208.0 L326.0 208.0 L328.0 208.0 L332.0 208.3 L336.0 208.8 L340.0 209.4 L344.0 210.0 L346.0 210.3 L350.0 210.8 L354.0 211.3 L358.0 211.5 L362.0 211.5 L366.0 211.2 L370.0 210.5 L372.0 210.0 L376.0 208.5 L378.0 207.5 L380.6 206.0 L383.5 204.0 L386.0 202.1 L388.0 200.3 L390.0 198.5 L392.0 196.6 L394.0 194.7 L396.0 192.8 L398.0 190.9 L400.0 189.1 L402.0 187.4 L404.0 185.9 L406.9 184.0 L410.0 182.3 L412.0 181.5 L416.0 180.4 L419.6 180.0 L422.0 180.0 L424.0 180.1 L428.0 180.8 L432.0 181.9 L434.0 182.6 L437.3 184.0 L440.0 185.3 L442.0 186.4 L444.8 188.0 L448.0 190.0 L450.0 191.3 L452.0 192.6 L454.0 194.1 L456.7 196.0 L459.3 198.0 L462.0 200.0 L464.0 201.6 L466.0 203.1 L468.0 204.6 L470.0 206.1 L472.5 208.0 L475.4 210.0 L478.0 211.7 L480.0 212.9 L482.0 214.0 L486.0 215.9 L488.0 216.6 M0.0 190.3 L2.9 192.0 L6.0 194.0 L8.0 195.3 L10.0 196.7 L12.0 198.1 L14.7 200.0 L17.5 202.0 L20.0 203.7 L22.0 205.2 L24.0 206.6 L26.1 208.0 L29.0 210.0 L32.0 212.0 L34.0 213.3 L36.0 214.5 L38.4 216.0 L41.9 218.0 L44.0 219.2 L46.0 220.2 L49.9 222.0 L52.0 222.9 L55.3 224.0 L58.0 224.7 L62.0 225.4 L66.0 225.5 L70.0 225.0 L73.3 224.0 L76.0 222.9 L78.0 221.9 L81.2 220.0 L84.0 218.2 L86.0 216.8 L88.0 215.4 L90.1 214.0 L93.2 212.0 L96.0 210.4 L98.0 209.4 L101.3 208.0 L104.0 207.1 L108.0 206.1 L110.0 205.8 L114.0 205.5 L118.0 205.4 L122.0 205.6 L126.0 206.0 L128.0 206.2 L132.0 206.7 L136.0 207.1 L140.0 207.6 L144.0 207.9 L148.0 208.0 L152.0 207.8 L156.0 207.3 L160.0 206.3 L162.0 205.7 L165.8 204.0 L168.0 202.8 L170.0 201.6 L172.2 200.0 L174.8 198.0 L177.2 196.0 L179.6 194.0 L181.9 192.0 L184.0 190.3 L186.0 188.7 L188.0 187.3 L190.1 186.0 L194.0 184.1 L196.0 183.5 L200.0 182.8 L204.0 182.8 L208.0 183.6 L210.0 184.2 L214.0 185.9 L216.0 187.0 L218.0 188.2 L220.7 190.0 L223.4 192.0 L225.9 194.0 L228.0 195.8 L230.0 197.6 L232.0 199.4 L234.0 201.3 L236.0 203.3 L238.0 205.2 L240.0 207.3 L242.0 209.3 L244.0 211.3 L246.0 213.3 L248.0 215.3 L250.0 217.2 L252.0 219.1 L254.0 220.9 L256.0 222.7 L258.0 224.3 L260.2 226.0 L263.0 228.0 L266.0 229.8 L268.0 230.9 L270.5 232.0 L274.0 233.1 L278.0 233.7 L282.0 233.5 L286.0 232.5 L288.0 231.6 L291.1 230.0 L294.0 228.1 L296.0 226.6 L298.0 225.1 L300.0 223.6 L302.0 222.0 L304.7 220.0 L307.7 218.0 L310.0 216.7 L312.0 215.7 L316.0 214.1 L318.0 213.5 L322.0 212.7 L326.0 212.3 L330.0 212.3 L334.0 212.5 L338.0 212.9 L342.0 213.4 L346.0 214.0 L348.0 214.2 L352.0 214.7 L356.0 215.1 L360.0 215.3 L364.0 215.3 L368.0 214.9 L372.0 214.2 L374.0 213.6 L378.0 212.1 L380.0 211.1 L382.0 209.9 L384.9 208.0 L387.5 206.0 L389.8 204.0 L392.0 202.0 L394.0 200.1 L396.0 198.2 L398.0 196.3 L400.0 194.5 L402.0 192.7 L404.0 191.1 L406.0 189.7 L408.7 188.0 L412.0 186.4 L414.0 185.6 L418.0 184.7 L422.0 184.5 L426.0 184.8 L430.0 185.7 L432.0 186.3 L436.0 187.8 L438.0 188.7 L440.5 190.0 L444.0 192.0 L446.0 193.3 L448.0 194.6 L450.0 196.0 L452.8 198.0 L455.4 200.0 L457.9 202.0 L460.0 203.7 L462.0 205.3 L464.0 207.0 L466.0 208.7 L468.0 210.3 L470.1 212.0 L472.5 214.0 L475.1 216.0 L477.8 218.0 L480.0 219.5 L482.0 220.8 L484.2 222.0 L488.0 223.8 M0.0 195.1 L2.0 196.1 L5.3 198.0 L8.0 199.6 L10.0 200.9 L12.0 202.2 L14.8 204.0 L17.8 206.0 L20.0 207.5 L22.0 208.8 L24.0 210.2 L26.7 212.0 L29.8 214.0 L32.0 215.4 L34.0 216.7 L36.0 218.0 L39.4 220.0 L42.0 221.5 L44.0 222.6 L46.6 224.0 L50.0 225.6 L52.0 226.5 L56.0 228.0 L58.0 228.6 L62.0 229.4 L66.0 229.8 L70.0 229.5 L74.0 228.5 L76.0 227.7 L79.6 226.0 L82.0 224.6 L84.0 223.3 L86.0 222.0 L88.8 220.0 L91.7 218.0 L94.0 216.5 L96.0 215.2 L98.2 214.0 L102.0 212.2 L104.0 211.5 L108.0 210.3 L110.0 209.9 L114.0 209.4 L118.0 209.2 L122.0 209.3 L126.0 209.6 L129.5 210.0 L132.0 210.3 L136.0 210.8 L140.0 211.3 L144.0 211.7 L148.0 211.9 L152.0 212.0 L156.0 211.7 L160.0 211.0 L163.6 210.0 L166.0 209.1 L168.3 208.0 L171.8 206.0 L174.0 204.5 L176.0 203.1 L178.0 201.5 L180.0 199.8 L182.2 198.0 L184.7 196.0 L187.3 194.0 L190.0 192.2 L192.0 191.0 L194.2 190.0 L198.0 188.7 L202.0 188.2 L206.0 188.5 L210.0 189.5 L212.0 190.2 L215.6 192.0 L218.0 193.4 L220.0 194.7 L222.0 196.1 L224.5 198.0 L226.9 200.0 L229.2 202.0 L231.3 204.0 L233.4 206.0 L235.5 208.0 L237.5 210.0 L239.5 212.0 L241.4 214.0 L243.4 216.0 L245.4 218.0 L247.4 220.0 L249.5 222.0 L251.6 224.0 L253.7 226.0 L256.0 228.0 L258.0 229.7 L260.0 231.2 L262.0 232.7 L264.0 234.0 L267.3 236.0 L270.0 237.3 L272.0 238.1 L276.0 239.2 L280.0 239.6 L284.0 239.1 L287.7 238.0 L290.0 237.0 L292.0 235.9 L294.8 234.0 L297.5 232.0 L300.0 230.0 L302.0 228.4 L304.0 226.8 L306.0 225.3 L308.0 223.8 L310.7 222.0 L314.0 220.2 L316.0 219.3 L319.6 218.0 L322.0 217.4 L326.0 216.7 L330.0 216.4 L334.0 216.5 L338.0 216.7 L342.0 217.1 L346.0 217.6 L349.0 218.0 L352.0 218.4 L356.0 218.8 L360.0 219.1 L364.0 219.1 L368.0 218.9 L372.0 218.3 L374.0 217.9 L378.0 216.6 L380.0 215.7 L383.3 214.0 L386.0 212.2 L388.0 210.8 L390.0 209.2 L392.0 207.4 L394.0 205.6 L396.0 203.8 L398.0 201.9 L400.0 200.0 L402.3 198.0 L404.7 196.0 L407.4 194.0 L410.0 192.4 L412.0 191.4 L415.8 190.0 L418.0 189.5 L422.0 189.1 L426.0 189.3 L429.5 190.0 L432.0 190.7 L435.3 192.0 L438.0 193.2 L440.0 194.3 L443.0 196.0 L446.0 197.9 L448.0 199.3 L450.0 200.7 L452.0 202.3 L454.2 204.0 L456.6 206.0 L459.0 208.0 L461.3 210.0 L463.6 212.0 L465.9 214.0 L468.0 215.9 L470.0 217.7 L472.0 219.4 L474.0 221.1 L476.0 222.7 L478.0 224.3 L480.3 226.0 L483.3 228.0 L486.0 229.6 L488.0 230.7 M0.0 199.8 L2.0 200.7 L4.6 202.0 L8.0 203.8 L10.0 205.0 L12.0 206.2 L15.0 208.0 L18.0 209.9 L20.0 211.1 L22.0 212.4 L24.5 214.0 L27.6 216.0 L30.0 217.5 L32.0 218.8 L34.0 220.1 L37.1 222.0 L40.0 223.7 L42.0 224.9 L44.0 226.0 L47.7 228.0 L50.0 229.1 L52.0 230.1 L56.0 231.7 L58.0 232.4 L62.0 233.4 L66.0 233.9 L70.0 233.8 L74.0 233.1 L77.2 232.0 L80.0 230.7 L82.0 229.6 L84.5 228.0 L87.5 226.0 L90.0 224.2 L92.0 222.8 L94.0 221.4 L96.2 220.0 L99.6 218.0 L102.0 216.8 L104.0 215.9 L108.0 214.6 L110.3 214.0 L114.0 213.4 L118.0 213.1 L122.0 213.1 L126.0 213.3 L130.0 213.7 L132.5 214.0 L136.0 214.5 L140.0 215.0 L144.0 215.5 L148.0 215.9 L150.0 216.0 L154.0 216.1 L156.5 216.0 L160.0 215.6 L164.0 214.8 L166.6 214.0 L170.0 212.6 L172.0 211.6 L174.7 210.0 L177.6 208.0 L180.0 206.2 L182.0 204.6 L184.0 203.0 L186.0 201.5 L188.0 200.0 L190.9 198.0 L194.0 196.3 L196.0 195.4 L200.0 194.3 L203.4 194.0 L204.2 194.0 L208.0 194.5 L212.0 195.7 L214.0 196.6 L216.8 198.0 L220.0 200.0 L222.0 201.4 L224.0 202.9 L226.0 204.5 L228.0 206.3 L230.0 208.1 L232.1 210.0 L234.2 212.0 L236.2 214.0 L238.2 216.0 L240.2 218.0 L242.1 220.0 L244.1 222.0 L246.1 224.0 L248.2 226.0 L250.2 228.0 L252.4 230.0 L254.6 232.0 L256.9 234.0 L259.4 236.0 L262.0 237.9 L264.0 239.3 L266.0 240.5 L268.8 242.0 L272.0 243.4 L274.0 244.1 L278.0 245.0 L282.0 245.1 L286.0 244.5 L288.0 243.9 L292.0 242.0 L294.0 240.8 L296.0 239.5 L298.0 238.0 L300.4 236.0 L302.8 234.0 L305.2 232.0 L307.7 230.0 L310.0 228.2 L312.0 226.8 L314.0 225.6 L317.0 224.0 L320.0 222.7 L322.3 222.0 L326.0 221.1 L330.0 220.6 L334.0 220.5 L338.0 220.6 L342.0 220.9 L346.0 221.3 L350.0 221.8 L352.0 222.0 L356.0 222.4 L360.0 222.8 L364.0 222.9 L368.0 222.8 L372.0 222.4 L374.4 222.0 L378.0 221.0 L380.7 220.0 L384.0 218.4 L386.0 217.3 L388.0 215.9 L390.6 214.0 L393.0 212.0 L395.3 210.0 L397.5 208.0 L399.6 206.0 L401.8 204.0 L404.0 202.1 L406.0 200.5 L408.0 199.0 L410.0 197.7 L413.3 196.0 L416.0 194.9 L420.0 194.0 L422.0 193.8 L426.0 194.0 L428.0 194.3 L432.0 195.3 L434.0 196.0 L438.0 197.8 L440.0 198.9 L442.0 200.0 L445.1 202.0 L447.9 204.0 L450.0 205.6 L452.0 207.1 L454.0 208.8 L456.0 210.5 L458.0 212.2 L460.0 214.0 L462.2 216.0 L464.3 218.0 L466.5 220.0 L468.6 222.0 L470.8 224.0 L473.0 226.0 L475.3 228.0 L477.7 230.0 L480.0 231.9 L482.0 233.4 L484.0 234.8 L486.0 236.0 M0.0 204.5 L3.9 206.0 L6.0 207.0 L8.1 208.0 L11.9 210.0 L14.0 211.1 L16.0 212.3 L18.9 214.0 L22.0 215.9 L24.0 217.1 L26.0 218.3 L28.7 220.0 L31.9 222.0 L34.0 223.3 L36.0 224.6 L38.4 226.0 L41.7 228.0 L44.0 229.3 L46.0 230.5 L48.9 232.0 L52.0 233.6 L54.0 234.5 L57.8 236.0 L60.0 236.7 L64.0 237.7 L66.2 238.0 L70.0 238.1 L72.0 237.9 L76.0 237.1 L78.9 236.0 L82.0 234.5 L84.0 233.3 L86.1 232.0 L88.9 230.0 L91.7 228.0 L94.0 226.4 L96.0 225.0 L98.0 223.7 L100.9 222.0 L104.0 220.4 L106.0 219.6 L110.0 218.2 L112.0 217.8 L116.0 217.1 L120.0 216.8 L124.0 216.9 L128.0 217.1 L132.0 217.6 L135.1 218.0 L138.0 218.4 L142.0 219.0 L146.0 219.6 L149.8 220.0 L152.0 220.2 L156.0 220.4 L160.0 220.2 L162.2 220.0 L166.0 219.3 L170.0 218.1 L172.0 217.3 L174.5 216.0 L177.9 214.0 L180.0 212.6 L182.0 211.2 L184.0 209.7 L186.2 208.0 L188.9 206.0 L191.9 204.0 L194.0 202.8 L196.0 201.9 L200.0 200.5 L204.0 200.0 L208.0 200.3 L212.0 201.4 L214.0 202.2 L217.5 204.0 L220.0 205.5 L222.0 206.9 L224.0 208.4 L226.0 210.0 L228.4 212.0 L230.6 214.0 L232.7 216.0 L234.8 218.0 L236.8 220.0 L238.9 222.0 L240.9 224.0 L242.9 226.0 L244.9 228.0 L246.9 230.0 L249.0 232.0 L251.1 234.0 L253.3 236.0 L255.6 238.0 L258.0 240.0 L260.0 241.5 L262.0 243.0 L264.0 244.3 L266.8 246.0 L270.0 247.7 L272.0 248.5 L276.0 249.8 L278.0 250.2 L282.0 250.5 L286.0 250.1 L288.0 249.5 L291.8 248.0 L294.0 246.8 L296.0 245.5 L298.1 244.0 L300.6 242.0 L302.9 240.0 L305.2 238.0 L307.6 236.0 L310.0 234.0 L312.0 232.4 L314.0 231.0 L316.0 229.8 L319.3 228.0 L322.0 226.8 L324.5 226.0 L328.0 225.2 L332.0 224.6 L336.0 224.4 L340.0 224.5 L344.0 224.8 L348.0 225.2 L352.0 225.6 L355.3 226.0 L358.0 226.3 L362.0 226.6 L366.0 226.8 L370.0 226.7 L374.0 226.3 L376.0 225.9 L380.0 224.8 L382.3 224.0 L386.0 222.2 L388.0 221.1 L390.0 219.7 L392.4 218.0 L394.8 216.0 L397.1 214.0 L399.3 212.0 L401.5 210.0 L403.8 208.0 L406.0 206.2 L408.0 204.6 L410.0 203.2 L412.0 202.0 L416.0 200.2 L418.0 199.5 L422.0 198.8 L426.0 198.8 L430.0 199.5 L432.0 200.0 L436.0 201.5 L438.0 202.5 L440.7 204.0 L444.0 206.0 L446.0 207.4 L448.0 208.9 L450.0 210.4 L452.0 212.1 L454.3 214.0 L456.5 216.0 L458.7 218.0 L460.9 220.0 L463.0 222.0 L465.0 224.0 L467.1 226.0 L469.2 228.0 L471.3 230.0 L473.4 232.0 L475.6 234.0 L477.9 236.0 L480.0 237.7 L482.0 239.3 L484.0 240.8 L486.0 242.1 M0.0 209.0 L3.1 210.0 L6.0 211.1 L8.1 212.0 L12.0 213.8 L14.0 214.8 L16.2 216.0 L19.8 218.0 L22.0 219.3 L24.0 220.4 L26.6 222.0 L29.9 224.0 L32.0 225.3 L34.0 226.5 L36.4 228.0 L39.7 230.0 L42.0 231.4 L44.0 232.6 L46.4 234.0 L50.0 236.0 L52.0 237.0 L54.0 238.0 L58.0 239.7 L60.0 240.5 L64.0 241.6 L66.0 242.0 L70.0 242.3 L74.0 242.0 L76.0 241.6 L80.0 240.2 L82.0 239.3 L84.4 238.0 L87.5 236.0 L90.0 234.3 L92.0 232.8 L94.0 231.3 L96.0 229.9 L98.8 228.0 L102.0 226.0 L104.0 224.9 L106.0 224.0 L110.0 222.5 L112.0 221.9 L116.0 221.1 L120.0 220.7 L124.0 220.6 L128.0 220.8 L132.0 221.2 L136.0 221.8 L138.0 222.1 L142.0 222.8 L146.0 223.4 L149.9 224.0 L152.0 224.3 L156.0 224.6 L160.0 224.8 L164.0 224.6 L167.9 224.0 L170.0 223.5 L174.0 222.1 L176.0 221.3 L178.4 220.0 L181.7 218.0 L184.0 216.4 L186.0 215.0 L188.0 213.6 L190.3 212.0 L193.5 210.0 L196.0 208.6 L198.0 207.8 L202.0 206.6 L206.0 206.3 L210.0 206.8 L213.7 208.0 L216.0 209.0 L218.0 210.0 L221.1 212.0 L224.0 214.0 L226.0 215.6 L228.0 217.2 L230.0 219.0 L232.0 220.8 L234.0 222.7 L236.0 224.6 L238.0 226.5 L240.0 228.5 L242.0 230.4 L244.0 232.4 L246.0 234.3 L248.0 236.2 L250.0 238.1 L252.1 240.0 L254.4 242.0 L256.8 244.0 L259.4 246.0 L262.0 247.9 L264.0 249.2 L266.0 250.5 L268.8 252.0 L272.0 253.5 L274.0 254.2 L278.0 255.2 L282.0 255.7 L286.0 255.4 L290.0 254.3 L292.0 253.5 L294.9 252.0 L297.9 250.0 L300.0 248.4 L302.0 246.8 L304.0 245.0 L306.0 243.3 L308.0 241.5 L310.0 239.7 L312.1 238.0 L314.7 236.0 L317.6 234.0 L320.0 232.6 L322.0 231.6 L326.0 230.1 L328.0 229.5 L332.0 228.8 L336.0 228.4 L340.0 228.3 L344.0 228.5 L348.0 228.8 L352.0 229.2 L356.0 229.7 L358.8 230.0 L362.0 230.3 L366.0 230.6 L370.0 230.6 L374.0 230.4 L376.8 230.0 L380.0 229.3 L384.0 228.0 L386.0 227.2 L388.3 226.0 L391.5 224.0 L394.0 222.2 L396.0 220.7 L398.0 219.0 L400.0 217.2 L402.0 215.5 L404.0 213.7 L406.0 212.0 L408.6 210.0 L411.4 208.0 L414.0 206.5 L416.0 205.6 L420.0 204.3 L422.0 203.9 L426.0 203.8 L428.0 204.0 L432.0 204.9 L435.1 206.0 L438.0 207.3 L440.0 208.4 L442.6 210.0 L445.6 212.0 L448.0 213.8 L450.0 215.4 L452.0 217.1 L454.0 218.8 L456.0 220.6 L458.0 222.5 L460.0 224.4 L462.0 226.3 L464.0 228.3 L466.0 230.3 L468.0 232.2 L470.0 234.2 L472.0 236.2 L474.0 238.1 L476.1 240.0 L478.4 242.0 L480.7 244.0 L483.3 246.0 L486.0 248.0 L488.0 249.2 M0.0 213.5 L2.3 214.0 L6.0 215.1 L8.4 216.0 L12.0 217.5 L14.0 218.4 L17.1 220.0 L20.0 221.5 L22.0 222.6 L24.5 224.0 L27.9 226.0 L30.0 227.3 L32.0 228.5 L34.5 230.0 L37.7 232.0 L40.0 233.4 L42.0 234.6 L44.2 236.0 L47.6 238.0 L50.0 239.4 L52.0 240.5 L55.0 242.0 L58.0 243.4 L60.0 244.2 L64.0 245.5 L66.0 246.0 L70.0 246.5 L74.0 246.4 L76.4 246.0 L80.0 244.9 L82.2 244.0 L85.9 242.0 L88.0 240.6 L90.0 239.2 L92.0 237.8 L94.4 236.0 L97.1 234.0 L100.0 232.0 L102.0 230.7 L104.0 229.5 L107.0 228.0 L110.0 226.8 L112.3 226.0 L116.0 225.1 L120.0 224.6 L124.0 224.4 L128.0 224.5 L132.0 224.9 L136.0 225.5 L139.1 226.0 L142.0 226.5 L146.0 227.3 L150.0 228.0 L152.0 228.3 L156.0 228.9 L160.0 229.3 L164.0 229.4 L168.0 229.2 L172.0 228.5 L174.0 228.0 L178.0 226.5 L180.0 225.6 L182.9 224.0 L186.0 222.1 L188.0 220.8 L190.0 219.5 L192.2 218.0 L195.7 216.0 L198.0 214.9 L200.3 214.0 L204.0 213.1 L208.0 213.0 L212.0 213.7 L214.0 214.3 L217.8 216.0 L220.0 217.2 L222.0 218.5 L224.2 220.0 L226.8 222.0 L229.2 224.0 L231.5 226.0 L233.8 228.0 L235.9 230.0 L238.0 232.0 L240.0 233.8 L242.0 235.8 L244.0 237.6 L246.0 239.5 L248.0 241.4 L250.0 243.2 L252.0 244.9 L254.0 246.6 L256.0 248.3 L258.2 250.0 L260.9 252.0 L263.9 254.0 L266.0 255.3 L268.0 256.4 L271.4 258.0 L274.0 259.0 L277.5 260.0 L280.0 260.4 L284.0 260.6 L288.0 260.2 L290.0 259.6 L294.0 258.0 L296.0 256.9 L298.0 255.6 L300.2 254.0 L302.7 252.0 L305.0 250.0 L307.2 248.0 L309.4 246.0 L311.6 244.0 L313.9 242.0 L316.0 240.4 L318.0 238.9 L320.0 237.6 L323.0 236.0 L326.0 234.7 L328.0 233.9 L332.0 232.9 L336.0 232.4 L340.0 232.1 L344.0 232.2 L348.0 232.5 L352.0 232.9 L356.0 233.3 L360.0 233.8 L362.0 234.0 L366.0 234.3 L370.0 234.5 L374.0 234.5 L378.0 234.1 L380.0 233.8 L384.0 232.7 L386.1 232.0 L390.0 230.2 L392.0 229.1 L394.0 227.8 L396.5 226.0 L399.0 224.0 L401.4 222.0 L403.7 220.0 L406.0 218.0 L408.0 216.4 L410.0 214.9 L412.0 213.5 L414.5 212.0 L418.0 210.4 L420.0 209.8 L424.0 209.1 L428.0 209.2 L432.0 210.0 L434.0 210.6 L437.3 212.0 L440.0 213.4 L442.0 214.6 L444.2 216.0 L446.9 218.0 L449.5 220.0 L451.9 222.0 L454.0 223.9 L456.0 225.7 L458.0 227.6 L460.0 229.6 L462.0 231.6 L464.0 233.6 L466.0 235.6 L468.0 237.6 L470.0 239.6 L472.0 241.6 L474.0 243.5 L476.0 245.4 L478.0 247.2 L480.0 248.9 L482.0 250.6 L484.0 252.1 L486.7 254.0 M0.0 217.9 L2.0 218.2 L6.0 219.1 L8.8 220.0 L12.0 221.2 L14.0 222.0 L18.0 223.8 L20.0 224.8 L22.2 226.0 L25.8 228.0 L28.0 229.2 L30.0 230.4 L32.6 232.0 L35.9 234.0 L38.0 235.3 L40.0 236.6 L42.2 238.0 L45.5 240.0 L48.0 241.6 L50.0 242.8 L52.2 244.0 L55.9 246.0 L58.0 247.0 L60.2 248.0 L64.0 249.4 L66.1 250.0 L70.0 250.7 L74.0 250.8 L78.0 250.2 L80.0 249.6 L83.8 248.0 L86.0 246.8 L88.0 245.6 L90.3 244.0 L93.0 242.0 L95.7 240.0 L98.0 238.3 L100.0 236.8 L102.0 235.5 L104.3 234.0 L108.0 232.0 L110.0 231.1 L113.0 230.0 L116.0 229.2 L120.0 228.5 L124.0 228.2 L128.0 228.3 L132.0 228.6 L136.0 229.2 L140.0 229.9 L142.0 230.3 L146.0 231.1 L150.0 232.0 L152.0 232.4 L156.0 233.1 L160.0 233.8 L162.0 234.0 L166.0 234.3 L170.0 234.2 L172.3 234.0 L176.0 233.3 L180.0 232.1 L182.0 231.3 L184.6 230.0 L188.0 228.1 L190.0 226.9 L192.0 225.7 L194.9 224.0 L198.0 222.4 L200.0 221.5 L204.0 220.3 L206.0 220.0 L209.5 220.0 L212.0 220.4 L216.0 221.6 L218.0 222.4 L220.9 224.0 L224.0 225.9 L226.0 227.4 L228.0 228.9 L230.0 230.5 L232.0 232.1 L234.1 234.0 L236.4 236.0 L238.6 238.0 L240.8 240.0 L243.0 242.0 L245.2 244.0 L247.4 246.0 L249.7 248.0 L252.0 249.9 L254.0 251.6 L256.0 253.1 L258.0 254.7 L260.0 256.1 L262.8 258.0 L266.0 259.9 L268.0 261.0 L270.0 262.0 L274.0 263.7 L276.0 264.3 L280.0 265.2 L284.0 265.5 L288.0 265.1 L292.0 264.1 L294.0 263.3 L296.5 262.0 L299.6 260.0 L302.0 258.2 L304.0 256.6 L306.0 254.8 L308.0 252.9 L310.0 251.1 L312.0 249.2 L314.0 247.4 L316.0 245.7 L318.2 244.0 L321.0 242.0 L324.0 240.3 L326.0 239.3 L329.2 238.0 L332.0 237.2 L336.0 236.4 L340.0 236.0 L342.0 236.0 L345.0 236.0 L348.0 236.1 L352.0 236.5 L356.0 237.0 L360.0 237.4 L364.0 237.9 L366.0 238.1 L370.0 238.4 L374.0 238.5 L378.0 238.4 L381.0 238.0 L384.0 237.4 L388.0 236.2 L390.0 235.4 L392.8 234.0 L396.0 232.1 L398.0 230.7 L400.0 229.2 L402.0 227.6 L404.0 225.9 L406.3 224.0 L408.8 222.0 L411.5 220.0 L414.0 218.3 L416.0 217.2 L418.6 216.0 L422.0 215.0 L426.0 214.5 L430.0 214.8 L434.0 215.8 L436.0 216.6 L439.0 218.0 L442.0 219.7 L444.0 221.0 L446.0 222.4 L448.1 224.0 L450.5 226.0 L452.8 228.0 L455.0 230.0 L457.1 232.0 L459.2 234.0 L461.2 236.0 L463.2 238.0 L465.1 240.0 L467.1 242.0 L469.1 244.0 L471.1 246.0 L473.1 248.0 L475.2 250.0 L477.4 252.0 L479.7 254.0 L482.0 256.0 L484.0 257.5 L486.0 259.0 L488.0 260.3 M0.0 222.2 L4.0 222.6 L8.0 223.5 L10.0 224.1 L14.0 225.5 L16.0 226.3 L19.7 228.0 L22.0 229.2 L24.0 230.2 L27.3 232.0 L30.0 233.6 L32.0 234.8 L34.0 236.0 L37.2 238.0 L40.0 239.8 L42.0 241.1 L44.0 242.4 L46.6 244.0 L49.7 246.0 L52.0 247.4 L54.0 248.6 L56.6 250.0 L60.0 251.7 L62.0 252.6 L66.0 254.0 L68.0 254.5 L72.0 255.1 L76.0 255.0 L80.0 254.2 L82.0 253.6 L85.4 252.0 L88.0 250.5 L90.0 249.2 L92.0 247.8 L94.4 246.0 L97.0 244.0 L99.6 242.0 L102.0 240.3 L104.0 238.9 L106.0 237.7 L109.0 236.0 L112.0 234.7 L114.0 233.9 L118.0 232.9 L122.0 232.3 L126.0 232.1 L130.0 232.2 L134.0 232.6 L138.0 233.3 L141.6 234.0 L144.0 234.5 L148.0 235.5 L150.2 236.0 L154.0 236.9 L158.0 237.8 L160.0 238.2 L164.0 238.9 L168.0 239.4 L172.0 239.5 L176.0 239.3 L180.0 238.6 L182.0 238.0 L186.0 236.5 L188.0 235.6 L191.1 234.0 L194.0 232.4 L196.0 231.3 L198.6 230.0 L202.0 228.6 L204.0 228.0 L208.0 227.3 L212.0 227.5 L214.6 228.0 L218.0 229.1 L220.0 230.0 L223.5 232.0 L226.0 233.6 L228.0 235.0 L230.0 236.5 L232.0 238.0 L234.4 240.0 L236.8 242.0 L239.1 244.0 L241.4 246.0 L243.7 248.0 L246.0 249.9 L248.0 251.6 L250.0 253.3 L252.0 254.9 L254.0 256.4 L256.1 258.0 L258.8 260.0 L261.8 262.0 L264.0 263.3 L266.0 264.5 L268.9 266.0 L272.0 267.4 L274.0 268.2 L278.0 269.4 L281.7 270.0 L284.0 270.2 L287.6 270.0 L290.0 269.6 L294.0 268.4 L296.0 267.5 L298.6 266.0 L301.6 264.0 L304.0 262.1 L306.0 260.4 L308.0 258.5 L310.0 256.7 L312.0 254.8 L314.0 252.9 L316.0 251.1 L318.0 249.4 L320.0 247.8 L322.5 246.0 L325.9 244.0 L328.0 243.0 L330.4 242.0 L334.0 240.9 L338.0 240.1 L340.0 239.9 L344.0 239.7 L348.0 239.8 L350.3 240.0 L354.0 240.4 L358.0 240.8 L362.0 241.4 L366.0 241.9 L368.0 242.1 L372.0 242.4 L376.0 242.6 L380.0 242.5 L384.0 242.0 L386.0 241.7 L390.0 240.5 L392.0 239.7 L395.5 238.0 L398.0 236.5 L400.0 235.2 L402.0 233.8 L404.3 232.0 L406.8 230.0 L409.3 228.0 L412.0 226.0 L414.0 224.6 L416.0 223.4 L418.8 222.0 L422.0 220.9 L426.0 220.2 L430.0 220.4 L434.0 221.2 L436.1 222.0 L440.0 223.8 L442.0 225.0 L444.0 226.3 L446.4 228.0 L449.0 230.0 L451.3 232.0 L453.6 234.0 L455.8 236.0 L457.9 238.0 L459.9 240.0 L461.9 242.0 L463.9 244.0 L465.8 246.0 L467.8 248.0 L469.8 250.0 L471.8 252.0 L473.9 254.0 L476.0 256.0 L478.0 257.8 L480.0 259.5 L482.0 261.2 L484.0 262.8 L486.0 264.2 M0.0 226.5 L4.0 226.7 L8.0 227.3 L10.7 228.0 L14.0 229.0 L16.5 230.0 L20.0 231.5 L22.0 232.4 L25.1 234.0 L28.0 235.6 L30.0 236.7 L32.1 238.0 L35.3 240.0 L38.0 241.7 L40.0 243.0 L42.0 244.3 L44.5 246.0 L47.5 248.0 L50.0 249.6 L52.0 250.9 L54.0 252.1 L57.2 254.0 L60.0 255.5 L62.0 256.4 L65.9 258.0 L68.0 258.6 L72.0 259.4 L76.0 259.5 L80.0 258.9 L82.7 258.0 L86.0 256.6 L88.0 255.4 L90.3 254.0 L93.1 252.0 L95.7 250.0 L98.0 248.2 L100.0 246.6 L102.0 245.1 L104.0 243.7 L106.6 242.0 L110.0 240.0 L112.0 239.1 L114.7 238.0 L118.0 237.0 L122.0 236.2 L124.9 236.0 L128.0 235.9 L130.0 236.0 L134.0 236.4 L138.0 237.1 L142.0 237.9 L144.0 238.4 L148.0 239.4 L150.2 240.0 L154.0 241.1 L157.4 242.0 L160.0 242.7 L164.0 243.6 L166.0 244.1 L170.0 244.7 L174.0 245.1 L178.0 245.1 L182.0 244.7 L185.2 244.0 L188.0 243.1 L190.8 242.0 L194.0 240.5 L196.0 239.6 L199.3 238.0 L202.0 236.8 L204.4 236.0 L208.0 235.2 L212.0 235.0 L216.0 235.6 L218.0 236.2 L222.0 237.8 L224.0 238.9 L226.0 240.0 L229.0 242.0 L231.9 244.0 L234.0 245.6 L236.0 247.1 L238.0 248.7 L240.0 250.3 L242.1 252.0 L244.6 254.0 L247.1 256.0 L249.6 258.0 L252.0 259.8 L254.0 261.3 L256.0 262.7 L258.0 264.1 L260.9 266.0 L264.0 267.9 L266.0 269.0 L268.0 270.0 L272.0 271.8 L274.0 272.6 L278.0 273.8 L280.0 274.2 L284.0 274.7 L288.0 274.6 L291.6 274.0 L294.0 273.3 L297.0 272.0 L300.0 270.3 L302.0 269.0 L304.0 267.5 L306.0 265.8 L308.0 264.0 L310.2 262.0 L312.3 260.0 L314.3 258.0 L316.5 256.0 L318.7 254.0 L321.2 252.0 L323.9 250.0 L326.0 248.7 L328.0 247.5 L331.5 246.0 L334.0 245.1 L338.0 244.2 L340.0 243.9 L344.0 243.6 L348.0 243.6 L352.0 243.8 L354.0 244.0 L358.0 244.5 L362.0 245.0 L366.0 245.6 L368.9 246.0 L372.0 246.4 L376.0 246.7 L380.0 246.8 L384.0 246.6 L388.0 246.1 L390.0 245.6 L394.0 244.3 L396.0 243.4 L398.7 242.0 L402.0 240.0 L404.0 238.6 L406.0 237.1 L408.0 235.6 L410.1 234.0 L412.9 232.0 L415.9 230.0 L418.0 228.8 L420.0 227.9 L424.0 226.6 L428.0 226.1 L432.0 226.5 L436.0 227.6 L438.0 228.4 L441.1 230.0 L444.0 231.7 L446.0 233.1 L448.0 234.6 L450.0 236.2 L452.1 238.0 L454.3 240.0 L456.4 242.0 L458.5 244.0 L460.6 246.0 L462.6 248.0 L464.6 250.0 L466.6 252.0 L468.6 254.0 L470.6 256.0 L472.7 258.0 L474.8 260.0 L477.0 262.0 L479.2 264.0 L481.6 266.0 L484.0 267.9 L486.0 269.3 L488.0 270.7 M0.0 230.9 L4.0 230.7 L8.0 231.1 L12.0 232.0 L14.0 232.6 L18.0 234.0 L20.0 234.8 L22.6 236.0 L26.0 237.7 L28.0 238.8 L30.1 240.0 L33.4 242.0 L36.0 243.6 L38.0 245.0 L40.0 246.3 L42.5 248.0 L45.4 250.0 L48.0 251.8 L50.0 253.1 L52.0 254.5 L54.3 256.0 L57.6 258.0 L60.0 259.4 L62.0 260.4 L65.7 262.0 L68.0 262.8 L72.0 263.7 L76.0 264.0 L80.0 263.5 L84.0 262.3 L86.0 261.4 L88.7 260.0 L91.8 258.0 L94.0 256.4 L96.0 254.8 L98.0 253.3 L100.0 251.7 L102.1 250.0 L104.8 248.0 L107.7 246.0 L110.0 244.6 L112.0 243.6 L115.6 242.0 L118.0 241.2 L122.0 240.3 L124.6 240.0 L128.0 239.8 L131.7 240.0 L134.0 240.2 L138.0 240.9 L142.0 241.7 L144.0 242.2 L148.0 243.4 L150.2 244.0 L154.0 245.2 L156.5 246.0 L160.0 247.1 L162.9 248.0 L166.0 248.9 L170.0 249.9 L172.0 250.4 L176.0 251.0 L180.0 251.3 L184.0 251.2 L188.0 250.6 L190.5 250.0 L194.0 248.8 L196.1 248.0 L200.0 246.3 L202.0 245.5 L206.0 244.1 L208.0 243.6 L212.0 243.1 L216.0 243.3 L219.1 244.0 L222.0 245.0 L224.4 246.0 L228.0 247.9 L230.0 249.1 L232.0 250.3 L234.5 252.0 L237.3 254.0 L240.0 255.9 L242.0 257.4 L244.0 258.9 L246.0 260.4 L248.2 262.0 L251.0 264.0 L253.9 266.0 L256.0 267.4 L258.0 268.8 L260.0 270.0 L263.4 272.0 L266.0 273.4 L268.0 274.4 L271.6 276.0 L274.0 276.9 L277.6 278.0 M294.1 278.0 L298.0 276.4 L300.0 275.4 L302.2 274.0 L304.9 272.0 L307.3 270.0 L309.6 268.0 L311.7 266.0 L313.7 264.0 L315.8 262.0 L317.9 260.0 L320.0 258.1 L322.0 256.4 L324.0 254.9 L326.0 253.4 L328.4 252.0 L332.0 250.2 L334.0 249.4 L338.0 248.3 L340.0 247.9 L344.0 247.4 L348.0 247.3 L352.0 247.5 L356.0 247.9 L358.0 248.1 L362.0 248.7 L366.0 249.4 L370.0 250.0 L372.0 250.3 L376.0 250.8 L380.0 251.1 L384.0 251.2 L388.0 250.9 L392.0 250.2 L394.0 249.7 L398.0 248.3 L400.0 247.3 L402.5 246.0 L405.6 244.0 L408.0 242.4 L410.0 240.9 L412.0 239.5 L414.2 238.0 L417.3 236.0 L420.0 234.6 L422.0 233.7 L426.0 232.6 L430.0 232.4 L434.0 232.9 L437.4 234.0 L440.0 235.2 L442.0 236.2 L444.8 238.0 L447.7 240.0 L450.0 241.8 L452.0 243.5 L454.0 245.2 L456.0 247.0 L458.0 248.9 L460.0 250.8 L462.0 252.8 L464.0 254.8 L466.0 256.7 L468.0 258.7 L470.0 260.6 L472.0 262.6 L474.0 264.4 L476.0 266.2 L478.0 268.0 L480.4 270.0 L482.9 272.0 L485.6 274.0 L488.0 275.6 M0.0 235.3 L4.0 234.9 L8.0 235.0 L12.0 235.7 L14.0 236.1 L18.0 237.4 L20.0 238.2 L24.0 240.0 L26.0 241.0 L28.0 242.1 L31.3 244.0 L34.0 245.7 L36.0 246.9 L38.0 248.3 L40.5 250.0 L43.3 252.0 L46.0 253.9 L48.0 255.3 L50.0 256.8 L52.0 258.2 L54.7 260.0 L57.8 262.0 L60.0 263.3 L62.0 264.4 L65.4 266.0 L68.0 267.0 L71.7 268.0 L74.0 268.4 L78.0 268.4 L80.8 268.0 L84.0 267.1 L86.7 266.0 L90.0 264.2 L92.0 262.9 L94.0 261.5 L96.0 260.0 L98.4 258.0 L100.9 256.0 L103.4 254.0 L106.0 252.0 L108.0 250.6 L110.0 249.3 L112.3 248.0 L116.0 246.3 L118.0 245.5 L122.0 244.5 L125.2 244.0 L128.0 243.8 L132.0 243.9 L134.0 244.1 L138.0 244.7 L142.0 245.6 L144.0 246.1 L148.0 247.3 L150.1 248.0 L154.0 249.4 L156.0 250.1 L160.0 251.5 L162.0 252.3 L166.0 253.7 L168.0 254.4 L172.0 255.7 L174.0 256.3 L178.0 257.2 L182.0 257.9 L184.0 258.1 L188.0 258.1 L190.0 257.9 L194.0 257.2 L197.9 256.0 L200.0 255.3 L203.5 254.0 L206.0 253.1 L210.0 252.0 L212.0 251.7 L216.0 251.5 L220.0 252.0 L222.0 252.4 L226.0 253.8 L228.0 254.7 L230.6 256.0 L234.0 257.9 L236.0 259.1 L238.0 260.4 L240.5 262.0 L243.5 264.0 L246.0 265.6 L248.0 267.0 L250.0 268.3 L252.6 270.0 L255.8 272.0 L258.0 273.4 L260.0 274.5 L262.6 276.0 L266.0 277.7 M303.7 278.0 L306.0 276.3 L308.0 274.7 L310.0 272.9 L312.0 271.0 L314.0 269.1 L316.0 267.1 L318.0 265.2 L320.0 263.3 L322.0 261.5 L324.0 259.8 L326.4 258.0 L329.5 256.0 L332.0 254.7 L334.0 253.8 L338.0 252.4 L340.0 251.9 L344.0 251.3 L348.0 251.1 L352.0 251.2 L356.0 251.6 L359.2 252.0 L362.0 252.4 L366.0 253.1 L370.0 253.8 L372.0 254.2 L376.0 254.9 L380.0 255.4 L384.0 255.7 L388.0 255.8 L392.0 255.4 L396.0 254.7 L398.3 254.0 L402.0 252.5 L404.0 251.6 L406.8 250.0 L409.9 248.0 L412.0 246.6 L414.0 245.3 L416.0 244.0 L419.4 242.0 L422.0 240.7 L424.0 240.0 L428.0 239.0 L432.0 239.0 L436.0 239.7 L438.0 240.4 L441.6 242.0 L444.0 243.3 L446.0 244.6 L448.0 246.0 L450.6 248.0 L453.0 250.0 L455.3 252.0 L457.5 254.0 L459.7 256.0 L461.8 258.0 L463.9 260.0 L466.0 262.0 L468.0 264.0 L470.0 265.8 L472.0 267.7 L474.0 269.5 L476.0 271.3 L478.0 273.0 L480.0 274.6 L482.0 276.2 L484.4 278.0 M0.0 239.9 L4.0 239.1 L8.0 239.0 L12.0 239.4 L14.7 240.0 L18.0 241.0 L20.8 242.0 L24.0 243.4 L26.0 244.4 L29.0 246.0 L32.0 247.8 L34.0 249.0 L36.0 250.3 L38.4 252.0 L41.2 254.0 L43.9 256.0 L46.0 257.5 L48.0 259.0 L50.0 260.5 L52.0 262.0 L54.8 264.0 L57.8 266.0 L60.0 267.4 L62.0 268.5 L64.9 270.0 L68.0 271.3 L70.2 272.0 L74.0 272.8 L78.0 273.0 L82.0 272.5 L84.0 272.0 L88.0 270.3 L90.0 269.3 L92.0 268.0 L94.8 266.0 L97.4 264.0 L99.9 262.0 L102.0 260.2 L104.0 258.6 L106.0 257.0 L108.0 255.5 L110.2 254.0 L113.5 252.0 L116.0 250.8 L118.0 249.9 L122.0 248.7 L126.0 248.0 L128.0 247.9 L132.0 247.9 L134.0 248.0 L138.0 248.6 L142.0 249.5 L144.0 250.1 L148.0 251.3 L150.0 252.0 L154.0 253.5 L156.0 254.3 L160.0 256.0 L162.0 256.8 L164.8 258.0 L168.0 259.4 L170.0 260.2 L174.0 261.8 L176.0 262.5 L180.0 263.8 L182.0 264.3 L186.0 265.1 L190.0 265.5 L194.0 265.4 L198.0 264.8 L201.1 264.0 L204.0 263.1 L207.4 262.0 L210.0 261.2 L214.0 260.4 L218.0 260.0 L222.0 260.3 L226.0 261.2 L228.5 262.0 L232.0 263.4 L234.0 264.3 L237.3 266.0 L240.0 267.5 L242.0 268.6 L244.4 270.0 L247.8 272.0 L250.0 273.3 L252.0 274.5 L254.6 276.0 L258.0 277.9 M310.2 278.0 L312.3 276.0 L314.4 274.0 L316.4 272.0 L318.5 270.0 L320.5 268.0 L322.7 266.0 L325.0 264.0 L327.6 262.0 L330.0 260.4 L332.0 259.2 L334.4 258.0 L338.0 256.6 L340.2 256.0 L344.0 255.3 L348.0 254.9 L352.0 255.0 L356.0 255.3 L360.0 255.8 L362.0 256.2 L366.0 256.9 L370.0 257.7 L372.0 258.1 L376.0 258.9 L380.0 259.6 L382.5 260.0 L386.0 260.4 L390.0 260.6 L394.0 260.5 L397.4 260.0 L400.0 259.4 L404.0 258.1 L406.0 257.2 L408.4 256.0 L411.9 254.0 L414.0 252.7 L416.0 251.5 L418.4 250.0 L422.0 248.1 L424.0 247.3 L428.0 246.1 L430.0 245.9 L434.0 246.0 L436.0 246.3 L440.0 247.6 L442.0 248.5 L444.8 250.0 L447.9 252.0 L450.0 253.5 L452.0 255.0 L454.0 256.6 L456.0 258.3 L458.0 260.1 L460.1 262.0 L462.3 264.0 L464.5 266.0 L466.7 268.0 L468.9 270.0 L471.1 272.0 L473.3 274.0 L475.7 276.0 L478.0 277.9 M0.0 244.7 L2.1 244.0 L6.0 243.2 L10.0 243.1 L14.0 243.6 L16.0 244.0 L20.0 245.3 L22.0 246.0 L26.0 247.9 L28.0 248.9 L30.0 250.1 L33.2 252.0 L36.0 253.9 L38.0 255.3 L40.0 256.8 L42.0 258.2 L44.3 260.0 L46.9 262.0 L49.5 264.0 L52.0 266.0 L54.0 267.4 L56.0 268.9 L58.0 270.3 L60.8 272.0 L64.0 273.8 L66.0 274.8 L69.0 276.0 L72.0 276.9 L76.0 277.6 L80.0 277.5 L84.0 276.8 L86.3 276.0 L90.0 274.3 L92.0 273.1 L94.0 271.8 L96.4 270.0 L98.9 268.0 L101.3 266.0 L103.7 264.0 L106.0 262.1 L108.0 260.5 L110.0 259.0 L112.0 257.7 L114.8 256.0 L118.0 254.4 L120.0 253.7 L124.0 252.5 L127.9 252.0 L130.0 251.9 L133.2 252.0 L136.0 252.3 L140.0 253.0 L143.8 254.0 L146.0 254.7 L149.7 256.0 L152.0 256.9 L154.6 258.0 L158.0 259.5 L160.0 260.4 L163.3 262.0 L166.0 263.3 L168.0 264.3 L171.5 266.0 L174.0 267.2 L176.0 268.1 L180.0 269.8 L182.0 270.6 L186.0 272.0 L188.0 272.5 L192.0 273.3 L196.0 273.5 L200.0 273.2 L204.0 272.4 L206.0 271.9 L210.0 270.7 L212.5 270.0 L216.0 269.1 L220.0 268.6 L224.0 268.6 L228.0 269.2 L231.2 270.0 L234.0 270.9 L236.8 272.0 L240.0 273.4 L242.0 274.3 L245.4 276.0 L248.0 277.3 M315.7 278.0 L317.7 276.0 L319.7 274.0 L321.8 272.0 L323.9 270.0 L326.0 268.2 L328.0 266.6 L330.0 265.1 L332.0 263.8 L335.4 262.0 L338.0 260.9 L340.8 260.0 L344.0 259.3 L348.0 258.8 L352.0 258.8 L356.0 259.0 L360.0 259.6 L362.5 260.0 L366.0 260.7 L370.0 261.6 L372.0 262.0 L376.0 263.0 L380.0 263.9 L382.0 264.3 L386.0 265.0 L390.0 265.5 L394.0 265.8 L398.0 265.6 L402.0 265.0 L405.9 264.0 L408.0 263.2 L410.7 262.0 L414.0 260.3 L416.0 259.2 L418.1 258.0 L421.9 256.0 L424.0 255.0 L426.9 254.0 L430.0 253.3 L434.0 253.1 L438.0 253.7 L440.0 254.3 L443.9 256.0 L446.0 257.1 L448.0 258.3 L450.5 260.0 L453.2 262.0 L455.7 264.0 L458.0 265.8 L460.0 267.5 L462.0 269.3 L464.0 271.0 L466.0 272.8 L468.0 274.5 L470.0 276.2 L472.1 278.0 M0.0 249.9 L4.0 248.3 L6.0 247.8 L10.0 247.4 L14.0 247.6 L16.2 248.0 L20.0 249.0 L22.6 250.0 L26.0 251.5 L28.0 252.6 L30.5 254.0 L33.6 256.0 L36.0 257.6 L38.0 259.1 L40.0 260.6 L42.0 262.1 L44.4 264.0 L46.9 266.0 L49.4 268.0 L51.9 270.0 L54.0 271.6 L56.0 273.1 L58.0 274.5 L60.2 276.0 L63.7 278.0 M92.4 278.0 L95.4 276.0 L98.0 274.0 L100.0 272.4 L102.0 270.7 L104.0 269.0 L106.0 267.3 L108.0 265.6 L110.1 264.0 L112.9 262.0 L116.0 260.1 L118.0 259.1 L120.5 258.0 L124.0 256.9 L128.0 256.2 L132.0 256.0 L136.0 256.3 L140.0 257.1 L143.6 258.0 L146.0 258.8 L149.4 260.0 L152.0 261.1 L154.1 262.0 L158.0 263.9 L160.0 264.9 L162.1 266.0 L165.8 268.0 L168.0 269.2 L170.0 270.3 L173.0 272.0 L176.0 273.7 L178.0 274.8 L180.4 276.0 L184.0 277.8 M321.0 278.0 L323.0 276.0 L325.1 274.0 L327.4 272.0 L329.9 270.0 L332.0 268.5 L334.0 267.3 L336.4 266.0 L340.0 264.5 L342.0 263.8 L346.0 263.0 L350.0 262.7 L354.0 262.7 L358.0 263.1 L362.0 263.7 L364.0 264.1 L368.0 265.0 L372.0 266.0 L374.0 266.5 L378.0 267.6 L380.0 268.1 L384.0 269.1 L387.9 270.0 L390.0 270.4 L394.0 271.0 L398.0 271.3 L402.0 271.2 L406.0 270.7 L408.7 270.0 L412.0 268.9 L414.1 268.0 L418.0 266.2 L420.0 265.2 L422.4 264.0 L426.0 262.4 L428.0 261.7 L432.0 260.9 L436.0 260.8 L440.0 261.5 L442.0 262.1 L446.0 263.8 L448.0 264.9 L450.0 266.1 L452.9 268.0 L455.7 270.0 L458.0 271.7 L460.0 273.3 L462.0 274.9 L464.0 276.5 M217.6 278.0 L220.0 277.4 L224.0 276.9 L228.0 276.8 L232.0 277.2 L235.5 278.0 M0.0 255.7 L2.9 254.0 L6.0 252.7 L9.4 252.0 L12.0 251.8 L15.0 252.0 L18.0 252.5 L22.0 253.7 L24.0 254.5 L27.1 256.0 L30.0 257.6 L32.0 258.9 L34.0 260.2 L36.5 262.0 L39.2 264.0 L41.7 266.0 L44.0 267.9 L46.0 269.5 L48.0 271.2 L50.0 272.8 L52.0 274.5 L54.0 276.0 L56.7 278.0 M99.7 278.0 L102.0 276.0 L104.0 274.3 L106.0 272.6 L108.0 270.9 L110.0 269.2 L112.0 267.7 L114.4 266.0 L117.7 264.0 L120.0 262.9 L122.1 262.0 L126.0 260.9 L130.0 260.3 L134.0 260.3 L138.0 260.8 L142.0 261.6 L144.0 262.2 L148.0 263.6 L150.0 264.4 L153.5 266.0 L156.0 267.2 L158.0 268.3 L161.1 270.0 L164.0 271.7 L166.0 272.9 L168.0 274.1 L171.0 276.0 L174.0 277.9 M326.3 278.0 L328.6 276.0 L331.1 274.0 L333.9 272.0 L336.0 270.7 L338.0 269.7 L342.0 268.1 L344.0 267.5 L348.0 266.8 L352.0 266.5 L356.0 266.7 L360.0 267.1 L364.0 267.9 L366.0 268.3 L370.0 269.3 L372.3 270.0 L376.0 271.1 L378.9 272.0 L382.0 272.9 L385.5 274.0 L388.0 274.7 L392.0 275.8 L394.0 276.2 L398.0 276.9 L402.0 277.3 L406.0 277.3 L410.0 276.8 L413.5 276.0 L416.0 275.2 L419.1 274.0 L422.0 272.7 L424.0 271.9 L428.0 270.3 L430.0 269.7 L434.0 268.9 L438.0 268.8 L442.0 269.5 L444.0 270.1 L448.0 271.7 L450.0 272.7 L452.2 274.0 L455.4 276.0 L458.0 277.8 M0.0 262.7 L2.0 260.9 L4.0 259.5 L6.9 258.0 L10.0 257.0 L14.0 256.6 L18.0 257.0 L21.9 258.0 L24.0 258.8 L26.6 260.0 L30.0 261.9 L32.0 263.1 L34.0 264.5 L36.1 266.0 L38.7 268.0 L41.2 270.0 L43.6 272.0 L45.9 274.0 L48.0 275.8 L50.0 277.4 M106.0 278.0 L108.0 276.2 L110.0 274.5 L112.0 272.9 L114.0 271.4 L116.0 270.0 L119.4 268.0 L122.0 266.8 L124.0 266.0 L128.0 265.0 L132.0 264.6 L136.0 264.7 L140.0 265.3 L142.6 266.0 L146.0 267.1 L148.4 268.0 L152.0 269.6 L154.0 270.6 L156.7 272.0 L160.0 273.9 L162.0 275.1 L164.0 276.4 L166.5 278.0 M332.2 278.0 L335.0 276.0 L338.0 274.2 L340.0 273.2 L343.3 272.0 L346.0 271.2 L350.0 270.6 L354.0 270.5 L358.0 270.7 L362.0 271.3 L365.1 272.0 L368.0 272.7 L372.0 273.9 L374.0 274.5 L378.0 275.9 L380.0 276.6 L384.0 278.0 M432.0 278.0 L434.0 277.5 L438.0 277.1 L442.0 277.3 L445.1 278.0 M0.0 272.2 L1.5 270.0 L3.1 268.0 L5.1 266.0 L7.8 264.0 L10.0 263.0 L14.0 262.0 L16.0 261.9 L18.0 262.0 L22.0 262.9 L25.0 264.0 L28.0 265.4 L30.0 266.6 L32.2 268.0 L35.1 270.0 L37.7 272.0 L40.0 273.9 L42.0 275.6 L44.0 277.3 M112.3 278.0 L114.9 276.0 L117.7 274.0 L120.0 272.6 L122.0 271.6 L126.0 270.1 L128.0 269.6 L132.0 269.0 L136.0 269.1 L140.0 269.6 L142.0 270.1 L146.0 271.3 L148.0 272.1 L152.0 273.9 L154.0 274.9 L156.0 276.0 L159.3 278.0 M339.5 278.0 L342.0 276.8 L344.3 276.0 L348.0 275.0 L352.0 274.5 L356.0 274.5 L360.0 274.9 L364.0 275.6 L366.0 276.1 L370.0 277.2 L372.4 278.0 M4.2 278.0 L6.0 274.9 L8.0 272.4 L10.0 270.7 L12.0 269.4 L16.0 268.2 L20.0 268.2 L24.0 269.1 L26.2 270.0 L30.0 272.0 L32.0 273.2 L34.0 274.6 L36.0 276.1 L38.4 278.0 M119.6 278.0 L122.0 276.6 L124.0 275.7 L128.0 274.3 L130.0 273.9 L134.0 273.5 L138.0 273.7 L140.0 274.0 L144.0 275.0 L146.8 276.0 L150.0 277.4 M13.9 278.0 L16.0 276.7 L18.0 275.9 L22.0 275.7 L24.0 276.0 L28.0 277.4" fill="none" stroke="#c2c2c2" stroke-width="0.5"/></g>
<defs><clipPath id="s10clip"><rect x="0" y="0" width="475" height="270"/></clipPath></defs>
<path d="M193 0 H475 V270 H237.5 L211.5 242 H450 V27.5 H178 Z" fill="#0c66c0"/>
<defs><filter id="shd" x="-10%" y="-10%" width="120%" height="120%"><feGaussianBlur stdDeviation="2"/></filter></defs>
<rect x="25.2" y="27.5" width="424.3" height="216" fill="#000" opacity="0.12" filter="url(#shd)"/>
<rect x="25.7" y="27.5" width="424.3" height="214.5" fill="#fff"/>
<defs><linearGradient id="sky" x1="0" y1="0" x2="1" y2="0.6"><stop offset="0" stop-color="#d2deed"/><stop offset="0.5" stop-color="#b3c6e0"/><stop offset="1" stop-color="#97afd4"/></linearGradient><radialGradient id="cloud" cx="0.5" cy="0.5" r="0.5"><stop offset="0" stop-color="#d5e0ee" stop-opacity="0.7"/><stop offset="1" stop-color="#d5e0ee" stop-opacity="0"/></radialGradient><linearGradient id="fade" x1="0" y1="0" x2="1" y2="0"><stop offset="0" stop-color="#fff" stop-opacity="1"/><stop offset="0.2" stop-color="#fff" stop-opacity="1"/><stop offset="0.38" stop-color="#fff" stop-opacity="0.55"/><stop offset="0.56" stop-color="#fff" stop-opacity="0"/></linearGradient><pattern id="stripe" width="3.2" height="10" patternUnits="userSpaceOnUse"><rect width="3.2" height="10" fill="#eef2f8"/><path d="M0.6 0 V10" stroke="#b7c8e2" stroke-width="0.8"/></pattern><pattern id="grid2" x="245" y="140" width="8" height="8.5" patternUnits="userSpaceOnUse"><rect width="8" height="8.5" fill="#b3c6e4"/><path d="M0 0.6 H8 M0.6 0 V8.5" stroke="#f3f6fb" stroke-width="1.2"/></pattern><clipPath id="cardclip"><rect x="25.7" y="27.5" width="424.3" height="214.5"/></clipPath></defs>
<g clip-path="url(#cardclip)">
<rect x="180" y="27.5" width="270" height="214.5" fill="url(#sky)"/>
<ellipse cx="370" cy="60" rx="50" ry="22" fill="url(#cloud)"/>
<ellipse cx="330" cy="95" rx="40" ry="16" fill="url(#cloud)"/>
<ellipse cx="420" cy="110" rx="35" ry="14" fill="url(#cloud)"/>
<rect x="220" y="140" width="118" height="102" fill="url(#grid2)"/>
<path d="M337.6 102 L450 139.3 L450 242 L337.6 242 Z" fill="#8aa6d3"/>
<path d="M337.6 104 L450 141 L450 149 L337.6 116 Z" fill="#7c9ccd"/>
<path d="M340.0 104.8 V116.7 M346.0 106.8 V118.5 M352.0 108.8 V120.2 M358.0 110.8 V122.0 M364.0 112.8 V123.7 M370.0 114.8 V125.5 M376.0 116.7 V127.3 M382.0 118.7 V129.0 M388.0 120.7 V130.8 M394.0 122.7 V132.5 M400.0 124.7 V134.3 M406.0 126.7 V136.0 M412.0 128.7 V137.8 M418.0 130.7 V139.6 M424.0 132.7 V141.3 M430.0 134.7 V143.1 M436.0 136.7 V144.8 M442.0 138.7 V146.6 M448.0 140.7 V148.3" stroke="#dfe8f4" stroke-width="0.8"/>
<rect x="341.6" y="125.7" width="7" height="6.4" fill="#6a8bc3"/><rect x="349.8" y="128.4" width="7" height="6.4" fill="#6a8bc3"/><rect x="366.2" y="133.7" width="7" height="6.4" fill="#6a8bc3"/><rect x="390.8" y="141.7" width="7" height="6.4" fill="#6a8bc3"/><rect x="407.2" y="147.0" width="7" height="6.4" fill="#6a8bc3"/><rect x="423.6" y="152.4" width="7" height="6.4" fill="#6a8bc3"/><rect x="431.8" y="155.0" width="7" height="6.4" fill="#6a8bc3"/><rect x="349.8" y="136.1" width="7" height="6.4" fill="#6a8bc3"/><rect x="358.0" y="138.6" width="7" height="6.4" fill="#6a8bc3"/><rect x="407.2" y="154.1" width="7" height="6.4" fill="#6a8bc3"/><rect x="423.6" y="159.3" width="7" height="6.4" fill="#6a8bc3"/><rect x="431.8" y="161.9" width="7" height="6.4" fill="#6a8bc3"/><rect x="440.0" y="164.5" width="7" height="6.4" fill="#6a8bc3"/><rect x="341.6" y="141.2" width="7" height="6.4" fill="#6a8bc3"/><rect x="358.0" y="146.2" width="7" height="6.4" fill="#6a8bc3"/><rect x="399.0" y="158.7" width="7" height="6.4" fill="#6a8bc3"/><rect x="407.2" y="161.2" width="7" height="6.4" fill="#6a8bc3"/><rect x="415.4" y="163.7" width="7" height="6.4" fill="#6a8bc3"/><rect x="440.0" y="171.2" width="7" height="6.4" fill="#6a8bc3"/><rect x="358.0" y="153.8" width="7" height="6.4" fill="#6a8bc3"/><rect x="382.6" y="161.1" width="7" height="6.4" fill="#6a8bc3"/><rect x="423.6" y="173.2" width="7" height="6.4" fill="#6a8bc3"/><rect x="440.0" y="178.0" width="7" height="6.4" fill="#6a8bc3"/><rect x="358.0" y="161.4" width="7" height="6.4" fill="#6a8bc3"/><rect x="374.4" y="166.1" width="7" height="6.4" fill="#6a8bc3"/><rect x="415.4" y="177.8" width="7" height="6.4" fill="#6a8bc3"/><rect x="382.6" y="175.8" width="7" height="6.4" fill="#6a8bc3"/><rect x="423.6" y="187.0" width="7" height="6.4" fill="#6a8bc3"/><rect x="341.6" y="172.3" width="7" height="6.4" fill="#6a8bc3"/><rect x="358.0" y="176.6" width="7" height="6.4" fill="#6a8bc3"/><rect x="366.2" y="178.8" width="7" height="6.4" fill="#6a8bc3"/><rect x="374.4" y="181.0" width="7" height="6.4" fill="#6a8bc3"/><rect x="390.8" y="185.3" width="7" height="6.4" fill="#6a8bc3"/><rect x="399.0" y="187.5" width="7" height="6.4" fill="#6a8bc3"/><rect x="423.6" y="194.0" width="7" height="6.4" fill="#6a8bc3"/><rect x="366.2" y="186.3" width="7" height="6.4" fill="#6a8bc3"/><rect x="407.2" y="196.7" width="7" height="6.4" fill="#6a8bc3"/><rect x="415.4" y="198.8" width="7" height="6.4" fill="#6a8bc3"/><rect x="423.6" y="200.9" width="7" height="6.4" fill="#6a8bc3"/><rect x="431.8" y="203.0" width="7" height="6.4" fill="#6a8bc3"/><rect x="349.8" y="189.8" width="7" height="6.4" fill="#6a8bc3"/><rect x="358.0" y="191.8" width="7" height="6.4" fill="#6a8bc3"/><rect x="431.8" y="209.8" width="7" height="6.4" fill="#6a8bc3"/><rect x="382.6" y="205.2" width="7" height="6.4" fill="#6a8bc3"/><rect x="399.0" y="209.0" width="7" height="6.4" fill="#6a8bc3"/><rect x="407.2" y="210.9" width="7" height="6.4" fill="#6a8bc3"/><rect x="415.4" y="212.8" width="7" height="6.4" fill="#6a8bc3"/><rect x="423.6" y="214.8" width="7" height="6.4" fill="#6a8bc3"/><rect x="431.8" y="216.7" width="7" height="6.4" fill="#6a8bc3"/><rect x="440.0" y="218.6" width="7" height="6.4" fill="#6a8bc3"/><rect x="341.6" y="203.4" width="7" height="6.4" fill="#6a8bc3"/><rect x="349.8" y="205.2" width="7" height="6.4" fill="#6a8bc3"/><rect x="358.0" y="207.0" width="7" height="6.4" fill="#6a8bc3"/><rect x="374.4" y="210.7" width="7" height="6.4" fill="#6a8bc3"/><rect x="399.0" y="216.2" width="7" height="6.4" fill="#6a8bc3"/><rect x="407.2" y="218.0" width="7" height="6.4" fill="#6a8bc3"/><rect x="415.4" y="219.9" width="7" height="6.4" fill="#6a8bc3"/><rect x="431.8" y="223.5" width="7" height="6.4" fill="#6a8bc3"/><rect x="366.2" y="216.4" width="7" height="6.4" fill="#6a8bc3"/><rect x="374.4" y="218.1" width="7" height="6.4" fill="#6a8bc3"/><rect x="382.6" y="219.9" width="7" height="6.4" fill="#6a8bc3"/><rect x="390.8" y="221.6" width="7" height="6.4" fill="#6a8bc3"/><rect x="407.2" y="225.1" width="7" height="6.4" fill="#6a8bc3"/><rect x="415.4" y="226.9" width="7" height="6.4" fill="#6a8bc3"/><rect x="440.0" y="232.1" width="7" height="6.4" fill="#6a8bc3"/><rect x="349.8" y="220.6" width="7" height="6.4" fill="#6a8bc3"/><rect x="390.8" y="228.9" width="7" height="6.4" fill="#6a8bc3"/><rect x="407.2" y="232.2" width="7" height="6.4" fill="#6a8bc3"/><rect x="440.0" y="238.9" width="7" height="6.4" fill="#6a8bc3"/>
<path d="M337.6 124.0 L436 156.0 M337.6 131.8 L436 162.8 M337.6 139.6 L436 169.6 M337.6 147.4 L436 176.4 M337.6 155.2 L436 183.2 M337.6 163.0 L436 190.0 M337.6 170.8 L436 196.8 M337.6 178.6 L436 203.6 M337.6 186.4 L436 210.4 M337.6 194.2 L436 217.2 M337.6 202.0 L436 224.0 M337.6 209.8 L436 230.8 M337.6 217.6 L436 237.6 M337.6 225.4 L436 244.4 M337.6 233.2 L436 251.2 M337.6 241.0 L436 258.0 M337.6 248.8 L436 264.8 M341.0 120.5 V242 M349.2 123.2 V242 M357.4 125.9 V242 M365.6 128.5 V242 M373.8 131.2 V242 M382.0 133.9 V242 M390.2 136.5 V242 M398.4 139.2 V242 M406.6 141.9 V242 M414.8 144.6 V242 M423.0 147.2 V242 M431.2 149.9 V242" stroke="#eaf0f9" stroke-width="1"/>
<path d="M337.6 119.4 L436 151.5" stroke="#ffffff" stroke-width="2.6"/>
<path d="M337.6 102 L450 139.3" stroke="#e8eef7" stroke-width="1.2"/>
<path d="M437.5 151 L450 154 L450 242 L437.5 242 Z" fill="#6f90c4"/>
<path d="M437.5 151 V242" stroke="#f4f7fb" stroke-width="2.2"/>
<path d="M263 72 L337.6 92 L337.6 152 L263 140 Z" fill="url(#stripe)"/>
<path d="M343 242 Q343 232 350 228 Q352 220 362 219 Q370 214 377 221 Q388 222 390 232 Q394 236 393 242 Z" fill="#5d7db3"/>
<rect x="150" y="27.5" width="300" height="214.5" fill="url(#fade)"/>
</g>
<path d="M250 28 H449.5 V242" fill="none" stroke="#c4dcf3" stroke-width="1"/>
<use href="#logo" x="47.75" y="40.5" width="42" height="42"/>
<text x="50.5" y="140.1" font-size="27" fill="#1a56b0" font-weight="400" text-anchor="start" >Thank You!</text>
<text x="50.5" y="173.8" font-size="28.1" fill="#222" font-weight="700" text-anchor="start" >Thanks for listening!</text>
<path d="M50.5 189.5 H322.5" stroke="#555" stroke-width="1"/>
<text x="50.5" y="202.4" font-size="5.5" fill="#888" font-weight="400" text-anchor="start" >Sangji University</text>
<text x="449.25" y="257" font-size="7.5" fill="#fff" font-weight="400" text-anchor="end" >www.collegeppt.com</text>
</g>
</svg></body></html>
